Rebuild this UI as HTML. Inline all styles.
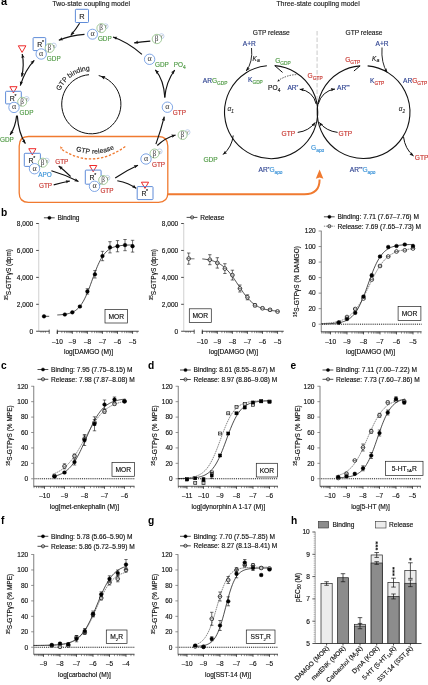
<!DOCTYPE html>
<html><head><meta charset="utf-8"><style>
html,body{margin:0;padding:0;background:#fff;}
svg{display:block;will-change:transform;}
text{font-family:"Liberation Sans",sans-serif;}
</style></head><body>
<svg width="428" height="685" viewBox="0 0 428 685">
<rect width="428" height="685" fill="#fff"/>
<text x="0.9" y="5.3" font-size="11" fill="#000" font-weight="bold" >a</text>
<text x="52.4" y="6" font-size="6.85" fill="#222" stroke="#222" stroke-width="0.15" >Two-state coupling model</text>
<text x="276.4" y="6" font-size="6.88" fill="#222" stroke="#222" stroke-width="0.15" >Three-state coupling model</text>
<path d="M28.5,136.5 L158.5,136.5 Q167.8,136.5 167.8,146 L167.8,193 Q167.8,202.3 158.5,202.3 L28.5,202.3 Q19.2,202.3 19.2,193 L19.2,146 Q19.2,136.5 28.5,136.5 Z" stroke="#f07a30" stroke-width="1.3" fill="none"/>
<path d="M167.8,194.3 L304.5,194.3 Q319.6,194.3 319.6,179.5" stroke="#f07a30" stroke-width="2" fill="none" />
<path d="M319.6,169.6 L323.4,178.8 L319.6,177.4 L315.8,178.8 Z" fill="#f07a30"/>
<path d="M89.03,74.69 A29.6,29.6 0 1 0 98.71,75.54" stroke="#111" stroke-width="1" fill="none" />
<path d="M100.69,76.13 L105.48,76.04 L104.21,77.57 L104.05,79.55 Z" fill="#111"/>
<text transform="translate(61.2,88.61) rotate(-62.62)" font-size="6.9" fill="#222" stroke="#222" stroke-width="0.15" text-anchor="middle">G</text>
<text transform="translate(63.69,84.52) rotate(-54.52)" font-size="6.9" fill="#222" stroke="#222" stroke-width="0.15" text-anchor="middle">T</text>
<text transform="translate(66.48,81.11) rotate(-47.07)" font-size="6.9" fill="#222" stroke="#222" stroke-width="0.15" text-anchor="middle">P</text>
<text transform="translate(71.04,77.02) rotate(-36.7)" font-size="6.9" fill="#222" stroke="#222" stroke-width="0.15" text-anchor="middle">b</text>
<text transform="translate(73.26,75.5) rotate(-32.16)" font-size="6.9" fill="#222" stroke="#222" stroke-width="0.15" text-anchor="middle">i</text>
<text transform="translate(75.58,74.16) rotate(-27.62)" font-size="6.9" fill="#222" stroke="#222" stroke-width="0.15" text-anchor="middle">n</text>
<text transform="translate(79.08,72.58) rotate(-21.14)" font-size="6.9" fill="#222" stroke="#222" stroke-width="0.15" text-anchor="middle">d</text>
<text transform="translate(81.62,71.71) rotate(-16.6)" font-size="6.9" fill="#222" stroke="#222" stroke-width="0.15" text-anchor="middle">i</text>
<text transform="translate(84.22,71.05) rotate(-12.06)" font-size="6.9" fill="#222" stroke="#222" stroke-width="0.15" text-anchor="middle">n</text>
<text transform="translate(88.01,70.46) rotate(-5.57)" font-size="6.9" fill="#222" stroke="#222" stroke-width="0.15" text-anchor="middle">g</text>
<path d="M62,149.5 Q93,170 126,146" stroke="#f07a30" stroke-width="1.3" fill="none" stroke-dasharray="2.4,1.7"/>
<path d="M60,146.3 L63.07,147.97 L61.6,148.35 L60.86,149.69 Z" fill="#f07a30"/>
<text transform="translate(78.36,151.47) rotate(17.96)" font-size="6.8" fill="#222" stroke="#222" stroke-width="0.15" text-anchor="middle">G</text>
<text transform="translate(83.06,152.73) rotate(12.14)" font-size="6.8" fill="#222" stroke="#222" stroke-width="0.15" text-anchor="middle">T</text>
<text transform="translate(87.49,153.47) rotate(6.78)" font-size="6.8" fill="#222" stroke="#222" stroke-width="0.15" text-anchor="middle">P</text>
<text transform="translate(93.07,153.81) rotate(0.11)" font-size="6.8" fill="#222" stroke="#222" stroke-width="0.15" text-anchor="middle">r</text>
<text transform="translate(96.24,153.71) rotate(-3.68)" font-size="6.8" fill="#222" stroke="#222" stroke-width="0.15" text-anchor="middle">e</text>
<text transform="translate(99.02,153.45) rotate(-7.02)" font-size="6.8" fill="#222" stroke="#222" stroke-width="0.15" text-anchor="middle">l</text>
<text transform="translate(101.79,153.02) rotate(-10.36)" font-size="6.8" fill="#222" stroke="#222" stroke-width="0.15" text-anchor="middle">e</text>
<text transform="translate(105.62,152.16) rotate(-15.05)" font-size="6.8" fill="#222" stroke="#222" stroke-width="0.15" text-anchor="middle">a</text>
<text transform="translate(109.19,151.05) rotate(-19.52)" font-size="6.8" fill="#222" stroke="#222" stroke-width="0.15" text-anchor="middle">s</text>
<text transform="translate(112.67,149.66) rotate(-23.98)" font-size="6.8" fill="#222" stroke="#222" stroke-width="0.15" text-anchor="middle">e</text>
<rect x="75.4" y="9.3" width="13.1" height="13.2" rx="0.8" stroke="#5686d6" stroke-width="0.95" fill="none" />
<text x="82" y="18.9" font-size="7.4" fill="#222" stroke="#222" stroke-width="0.15" text-anchor="middle" >R</text>
<rect x="33.1" y="37.6" width="12.6" height="13" rx="0.8" stroke="#5686d6" stroke-width="0.95" fill="none" />
<circle cx="53.8" cy="45.6" r="2.5" stroke="#8aa8d8" stroke-width="0.5" fill="#fff" />
<circle cx="49.6" cy="48" r="4.5" stroke="#6aaa5a" stroke-width="0.6" fill="#fff" />
<text x="49.4" y="50.3" font-size="7.2" fill="#333" text-anchor="middle" style="font-family:Liberation Serif,serif">&#946;</text>
<text x="53.9" y="46.7" font-size="4.6" fill="#555" text-anchor="middle" style="font-family:Liberation Serif,serif">&#947;</text>
<circle cx="41.2" cy="54" r="5.2" stroke="#5f8fde" stroke-width="0.8" fill="#fff" />
<text x="41.2" y="55.9" font-size="8" fill="#333" text-anchor="middle" style="font-family:Liberation Serif,serif">&#945;</text>
<text x="37.3" y="47.2" font-size="6.9" fill="#222" stroke="#222" stroke-width="0.15" >R</text>
<text x="42" y="44.2" font-size="5" fill="#222" stroke="#222" stroke-width="0.15" >*</text>
<text x="46.8" y="60.7" font-size="6.4" fill="#4f9a44" stroke="#4f9a44" stroke-width="0.15" >GDP</text>
<path d="M18.3,45.8 L25.9,45.8 L22.1,52.4 Z" stroke="#ee2a2a" stroke-width="1.0" fill="#fff"/>
<path d="M9.85,86.7 L17.05,86.7 L13.45,92.9 Z" stroke="#ee2a2a" stroke-width="1.0" fill="#fff"/>
<rect x="5.6" y="91.3" width="15.7" height="12.6" rx="0.8" stroke="#5686d6" stroke-width="0.95" fill="none" />
<circle cx="26.6" cy="99" r="2.5" stroke="#8aa8d8" stroke-width="0.5" fill="#fff" />
<circle cx="22.2" cy="101.8" r="4.5" stroke="#6aaa5a" stroke-width="0.6" fill="#fff" />
<text x="22" y="104.1" font-size="7.2" fill="#333" text-anchor="middle" style="font-family:Liberation Serif,serif">&#946;</text>
<text x="26.7" y="100.1" font-size="4.6" fill="#555" text-anchor="middle" style="font-family:Liberation Serif,serif">&#947;</text>
<circle cx="14" cy="107.4" r="5.2" stroke="#5f8fde" stroke-width="0.8" fill="#fff" />
<text x="14" y="109.3" font-size="8" fill="#333" text-anchor="middle" style="font-family:Liberation Serif,serif">&#945;</text>
<text x="9.8" y="100.9" font-size="6.9" fill="#222" stroke="#222" stroke-width="0.15" >R</text>
<text x="14.5" y="97.9" font-size="5" fill="#222" stroke="#222" stroke-width="0.15" >*</text>
<text x="19.6" y="115.1" font-size="6.4" fill="#4f9a44" stroke="#4f9a44" stroke-width="0.15" >GDP</text>
<text x="0" y="142.2" font-size="6.4" fill="#4f9a44" stroke="#4f9a44" stroke-width="0.15" >GDP</text>
<circle cx="105.6" cy="26.3" r="2.5" stroke="#8aa8d8" stroke-width="0.5" fill="#fff" />
<circle cx="101.4" cy="28.1" r="4.5" stroke="#6aaa5a" stroke-width="0.6" fill="#fff" />
<text x="101.2" y="30.4" font-size="7.2" fill="#333" text-anchor="middle" style="font-family:Liberation Serif,serif">&#946;</text>
<text x="105.7" y="27.4" font-size="4.6" fill="#555" text-anchor="middle" style="font-family:Liberation Serif,serif">&#947;</text>
<circle cx="92.5" cy="34.2" r="5" stroke="#5f8fde" stroke-width="0.8" fill="#fff" />
<text x="92.5" y="36.1" font-size="8" fill="#333" text-anchor="middle" style="font-family:Liberation Serif,serif">&#945;</text>
<text x="97.9" y="41.4" font-size="6.4" fill="#4f9a44" stroke="#4f9a44" stroke-width="0.15" >GDP</text>
<circle cx="161.5" cy="36.2" r="2.5" stroke="#8aa8d8" stroke-width="0.5" fill="#fff" />
<circle cx="156.9" cy="39" r="4.7" stroke="#6aaa5a" stroke-width="0.6" fill="#fff" />
<text x="156.7" y="41.3" font-size="7.2" fill="#333" text-anchor="middle" style="font-family:Liberation Serif,serif">&#946;</text>
<text x="161.6" y="37.3" font-size="4.6" fill="#555" text-anchor="middle" style="font-family:Liberation Serif,serif">&#947;</text>
<circle cx="149.6" cy="59.3" r="5.2" stroke="#5f8fde" stroke-width="0.8" fill="#fff" />
<text x="149.6" y="61.2" font-size="8" fill="#333" text-anchor="middle" style="font-family:Liberation Serif,serif">&#945;</text>
<text x="155" y="66.8" font-size="6.4" fill="#4f9a44" stroke="#4f9a44" stroke-width="0.15" >GDP</text>
<text x="173.7" y="66.8" font-size="6.4" fill="#4f9a44" stroke="#4f9a44" stroke-width="0.15" >PO<tspan font-size="4.8" dy="1.9">4</tspan></text>
<circle cx="167.4" cy="107.2" r="5.2" stroke="#5f8fde" stroke-width="0.8" fill="#fff" />
<text x="167.4" y="109.1" font-size="8" fill="#333" text-anchor="middle" style="font-family:Liberation Serif,serif">&#945;</text>
<text x="172.8" y="114.6" font-size="6.4" fill="#c8352f" stroke="#c8352f" stroke-width="0.15" >GTP</text>
<circle cx="187.5" cy="132.2" r="2.5" stroke="#8aa8d8" stroke-width="0.5" fill="#fff" />
<circle cx="182.6" cy="135" r="4.5" stroke="#6aaa5a" stroke-width="0.6" fill="#fff" />
<text x="182.4" y="137.3" font-size="7.2" fill="#333" text-anchor="middle" style="font-family:Liberation Serif,serif">&#946;</text>
<text x="187.6" y="133.3" font-size="4.6" fill="#555" text-anchor="middle" style="font-family:Liberation Serif,serif">&#947;</text>
<path d="M28.75,148.7 L35.95,148.7 L32.35,154.9 Z" stroke="#ee2a2a" stroke-width="1.0" fill="#fff"/>
<rect x="24.3" y="153.3" width="16.1" height="13.1" rx="0.8" stroke="#5686d6" stroke-width="0.95" fill="none" />
<circle cx="46.7" cy="160.7" r="2.5" stroke="#8aa8d8" stroke-width="0.5" fill="#fff" />
<circle cx="42.8" cy="162.7" r="4.5" stroke="#6aaa5a" stroke-width="0.6" fill="#fff" />
<text x="42.6" y="165" font-size="7.2" fill="#333" text-anchor="middle" style="font-family:Liberation Serif,serif">&#946;</text>
<text x="46.8" y="161.8" font-size="4.6" fill="#555" text-anchor="middle" style="font-family:Liberation Serif,serif">&#947;</text>
<circle cx="34.5" cy="168.7" r="5.2" stroke="#5f8fde" stroke-width="0.8" fill="#fff" />
<text x="34.5" y="170.6" font-size="8" fill="#333" text-anchor="middle" style="font-family:Liberation Serif,serif">&#945;</text>
<text x="28.5" y="162.9" font-size="6.9" fill="#222" stroke="#222" stroke-width="0.15" >R</text>
<text x="33.2" y="159.9" font-size="5" fill="#222" stroke="#222" stroke-width="0.15" >*</text>
<text x="38.3" y="176.7" font-size="6.4" fill="#3b93d8" stroke="#3b93d8" stroke-width="0.15" >APO</text>
<text x="55.2" y="164.1" font-size="6.4" fill="#c8352f" stroke="#c8352f" stroke-width="0.15" >GTP</text>
<text x="39" y="187.7" font-size="6.4" fill="#c8352f" stroke="#c8352f" stroke-width="0.15" >GTP</text>
<path d="M89.6,165.5 L96.8,165.5 L93.2,171.7 Z" stroke="#ee2a2a" stroke-width="1.0" fill="#fff"/>
<rect x="85.3" y="170.1" width="15.8" height="14.1" rx="0.8" stroke="#5686d6" stroke-width="0.95" fill="none" />
<circle cx="107.4" cy="177.9" r="2.5" stroke="#8aa8d8" stroke-width="0.5" fill="#fff" />
<circle cx="103.2" cy="180" r="4.5" stroke="#6aaa5a" stroke-width="0.6" fill="#fff" />
<text x="103" y="182.3" font-size="7.2" fill="#333" text-anchor="middle" style="font-family:Liberation Serif,serif">&#946;</text>
<text x="107.5" y="179" font-size="4.6" fill="#555" text-anchor="middle" style="font-family:Liberation Serif,serif">&#947;</text>
<circle cx="94.5" cy="186.3" r="5.2" stroke="#5f8fde" stroke-width="0.8" fill="#fff" />
<text x="94.5" y="188.2" font-size="8" fill="#333" text-anchor="middle" style="font-family:Liberation Serif,serif">&#945;</text>
<text x="89.5" y="179.7" font-size="6.9" fill="#222" stroke="#222" stroke-width="0.15" >R</text>
<text x="94.2" y="176.7" font-size="5" fill="#222" stroke="#222" stroke-width="0.15" >*</text>
<text x="100.4" y="193.3" font-size="6.4" fill="#c8352f" stroke="#c8352f" stroke-width="0.15" >GTP</text>
<circle cx="159.6" cy="151.4" r="2.5" stroke="#8aa8d8" stroke-width="0.5" fill="#fff" />
<circle cx="154.5" cy="153.5" r="4.5" stroke="#6aaa5a" stroke-width="0.6" fill="#fff" />
<text x="154.3" y="155.8" font-size="7.2" fill="#333" text-anchor="middle" style="font-family:Liberation Serif,serif">&#946;</text>
<text x="159.7" y="152.5" font-size="4.6" fill="#555" text-anchor="middle" style="font-family:Liberation Serif,serif">&#947;</text>
<circle cx="146" cy="159" r="5.2" stroke="#5f8fde" stroke-width="0.8" fill="#fff" />
<text x="146" y="160.9" font-size="8" fill="#333" text-anchor="middle" style="font-family:Liberation Serif,serif">&#945;</text>
<text x="152" y="166.5" font-size="6.4" fill="#c8352f" stroke="#c8352f" stroke-width="0.15" >GTP</text>
<path d="M141.4,182.2 L148.6,182.2 L145.0,188.4 Z" stroke="#ee2a2a" stroke-width="1.0" fill="#fff"/>
<rect x="137.2" y="186.6" width="15.8" height="13" rx="0.8" stroke="#5686d6" stroke-width="0.95" fill="none" />
<text x="141.4" y="196.2" font-size="6.9" fill="#222" stroke="#222" stroke-width="0.15" >R</text>
<text x="146.1" y="193.2" font-size="5" fill="#222" stroke="#222" stroke-width="0.15" >*</text>
<path d="M79.6,23.3 Q76.5,28.5 70.8,35.4" stroke="#111" stroke-width="1.15" fill="none" />
<path d="M70.8,35.4 L72.08,31.27 L72.97,32.78 L74.62,33.37 Z" fill="#111"/>
<path d="M84.5,34.4 Q70,35.5 58.8,40.3" stroke="#111" stroke-width="1.15" fill="none" />
<path d="M58.8,40.3 L61.83,37.21 L61.93,38.96 L63.13,40.24 Z" fill="#111"/>
<path d="M150.3,41.1 Q142,41.6 134.2,42.9" stroke="#111" stroke-width="1.15" fill="none" />
<path d="M134.2,42.9 L137.87,40.61 L137.55,42.34 L138.42,43.87 Z" fill="#111"/>
<path d="M141.9,54.4 Q128,42 113,37" stroke="#111" stroke-width="1.15" fill="none" />
<path d="M113,37 L117.32,36.7 L116.23,38.08 L116.27,39.83 Z" fill="#111"/>
<path d="M164.8,97.5 Q164,80 155.3,69.8" stroke="#111" stroke-width="1.15" fill="none" />
<path d="M155.3,69.8 L159.15,71.77 L157.51,72.39 L156.64,73.91 Z" fill="#111"/>
<path d="M164.8,97.5 Q166,82 174.7,70" stroke="#111" stroke-width="1.15" fill="none" />
<path d="M174.7,70 L173.69,74.21 L172.7,72.75 L171.02,72.27 Z" fill="#111"/>
<path d="M155.9,144.1 Q161,130 164.3,116.7" stroke="#111" stroke-width="1.15" fill="none" />
<path d="M164.3,116.7 L164.94,120.98 L163.48,120 L161.74,120.18 Z" fill="#111"/>
<path d="M157.3,145.5 Q165,138 175.6,135" stroke="#111" stroke-width="1.15" fill="none" />
<path d="M175.6,135 L172.2,137.68 L172.33,135.93 L171.3,134.5 Z" fill="#111"/>
<path d="M115.2,177.9 Q127,170 138,165.2" stroke="#111" stroke-width="1.15" fill="none" />
<path d="M138,165.2 L134.99,168.31 L134.88,166.56 L133.67,165.29 Z" fill="#111"/>
<path d="M117.3,180.7 Q129,183 136.2,188.4" stroke="#111" stroke-width="1.15" fill="none" />
<path d="M136.2,188.4 L132.01,187.32 L133.48,186.36 L133.99,184.68 Z" fill="#111"/>
<path d="M51.4,170.8 Q66,175 78.5,181.6" stroke="#111" stroke-width="1.15" fill="none" />
<path d="M78.5,181.6 L74.19,181.19 L75.49,180.01 L75.73,178.27 Z" fill="#111"/>
<path d="M70.6,176.5 Q64,170 58.7,166" stroke="#111" stroke-width="1.15" fill="none" />
<path d="M58.7,166 L62.89,167.09 L61.41,168.05 L60.9,169.73 Z" fill="#111"/>
<path d="M53.7,184.9 Q62,182.5 69.9,181" stroke="#111" stroke-width="1.15" fill="none" />
<path d="M69.9,181 L66.28,183.37 L66.56,181.63 L65.66,180.13 Z" fill="#111"/>
<path d="M16.6,115.6 Q15.5,127 10.1,134.8" stroke="#111" stroke-width="1.15" fill="none" />
<path d="M10.1,134.8 L11.02,130.57 L12.04,132 L13.73,132.45 Z" fill="#111"/>
<path d="M17.3,115.6 Q18.5,133 25.4,143.6" stroke="#111" stroke-width="1.15" fill="none" />
<path d="M25.4,143.6 L21.83,141.15 L23.55,140.75 L24.6,139.35 Z" fill="#111"/>
<path d="M22.2,54 Q24.5,65 21.7,76.7" stroke="#111" stroke-width="1.15" fill="none" />
<path d="M21.7,76.7 L21.03,72.43 L22.49,73.39 L24.24,73.19 Z" fill="#111"/>
<path d="M22.2,54 L24.63,57.58 L22.9,57.33 L21.4,58.25 Z" fill="#111"/>
<path d="M20.3,85.6 Q25,70 34.3,60.3" stroke="#111" stroke-width="1.15" fill="none" />
<path d="M34.3,60.3 L32.72,64.33 L31.95,62.75 L30.34,62.05 Z" fill="#111"/>
<path d="M20.3,85.6 L19.87,81.29 L21.28,82.34 L23.03,82.25 Z" fill="#111"/>
<line x1="317.1" y1="30.9" x2="317.1" y2="100" stroke="#d6d6d6" stroke-width="1.3" stroke-dasharray="4.6,1.9"/>
<text x="252.8" y="35" font-size="6.6" fill="#222" stroke="#222" stroke-width="0.15" >GTP release</text>
<text x="345.6" y="35" font-size="6.6" fill="#222" stroke="#222" stroke-width="0.15" >GTP release</text>
<path d="M266.88,65.69 A46.6,46.6 0 1 0 274.76,65.64" stroke="#111" stroke-width="1.1" fill="none" />
<line x1="274.76" y1="65.64" x2="282.56" y2="72.44" stroke="#111" stroke-width="1" />
<path d="M367.64,65.88 A46.4,46.4 0 1 1 360.12,65.83" stroke="#111" stroke-width="1.1" fill="none" />
<line x1="360.12" y1="65.83" x2="353.92" y2="71.03" stroke="#111" stroke-width="1" />
<path d="M316.2,104 Q313,91 299.7,89.2" stroke="#111" stroke-width="1" fill="none" />
<path d="M299.7,89.2 L303.89,88.1 L303.07,89.66 L303.44,91.37 Z" fill="#111"/>
<path d="M318.2,104 Q322,91 335,89" stroke="#111" stroke-width="1" fill="none" />
<path d="M335,89 L331.3,91.24 L331.64,89.52 L330.8,87.98 Z" fill="#111"/>
<path d="M251.5,48 Q253,62 246.2,71" stroke="#111" stroke-width="0.9" fill="none" />
<path d="M246.2,71 L247.29,66.81 L248.25,68.29 L249.93,68.8 Z" fill="#111"/>
<path d="M382,47.5 Q381,63 387.2,72.5" stroke="#111" stroke-width="0.9" fill="none" />
<path d="M387.2,72.5 L383.63,70.05 L385.34,69.65 L386.4,68.25 Z" fill="#111"/>
<path d="M296.2,74.6 Q287,75 279,80" stroke="#111" stroke-width="0.7" fill="none" stroke-dasharray="1.5,1.1"/>
<path d="M277.2,81.4 L278.93,78.89 L279.06,80.23 L280.21,80.92 Z" fill="#111"/>
<path d="M297.7,132.4 Q309,131 315.2,122.4" stroke="#111" stroke-width="1" fill="none" />
<path d="M315.2,122.4 L314.2,126.61 L313.21,125.16 L311.52,124.68 Z" fill="#111"/>
<path d="M337.6,132.4 Q326,131 319.4,122.4" stroke="#111" stroke-width="1" fill="none" />
<path d="M319.4,122.4 L323.14,124.57 L321.47,125.1 L320.53,126.58 Z" fill="#111"/>
<path d="M233.2,135.5 Q232,147 223,154.6" stroke="#111" stroke-width="1" fill="none" />
<path d="M223,154.6 L224.99,150.76 L225.6,152.41 L227.12,153.28 Z" fill="#111"/>
<path d="M403.5,136.8 Q405,149 413.6,156" stroke="#111" stroke-width="1" fill="none" />
<path d="M413.6,156 L409.46,154.75 L410.96,153.85 L411.54,152.2 Z" fill="#111"/>
<text x="242.8" y="46" font-size="6.6" fill="#2e4391" stroke="#2e4391" stroke-width="0.15" >A+R</text>
<text x="375.6" y="46" font-size="6.6" fill="#2e4391" stroke="#2e4391" stroke-width="0.15" >A+R</text>
<text x="252.6" y="60.6" font-size="6.4" fill="#222" stroke="#222" stroke-width="0.15" font-style="italic" >K</text>
<text x="257" y="62.4" font-size="5.2" fill="#222" stroke="#222" stroke-width="0.15" font-style="italic" >a</text>
<text x="372.1" y="60.6" font-size="6.4" fill="#222" stroke="#222" stroke-width="0.15" font-style="italic" >K</text>
<text x="376.5" y="62.4" font-size="5.2" fill="#222" stroke="#222" stroke-width="0.15" font-style="italic" >a</text>
<text x="275.2" y="63.4" font-size="6.6" fill="#4f9a44" stroke="#4f9a44" stroke-width="0.15" >G<tspan font-size="4.8" dy="1.9">GDP</tspan></text>
<text x="345.2" y="61.8" font-size="6.6" fill="#c8352f" stroke="#c8352f" stroke-width="0.15" >G<tspan font-size="4.8" dy="1.9">GTP</tspan></text>
<text x="307.6" y="77.8" font-size="6.6" fill="#c8352f" stroke="#c8352f" stroke-width="0.15" >G<tspan font-size="4.8" dy="1.9">GTP</tspan></text>
<text x="248" y="82" font-size="6.6" fill="#2e4391" stroke="#2e4391" stroke-width="0.15" >K<tspan font-size="4.8" dy="1.9" fill="#4f9a44" stroke="#4f9a44">GDP</tspan></text>
<text x="370" y="82.6" font-size="6.6" fill="#2e4391" stroke="#2e4391" stroke-width="0.15" >K<tspan font-size="4.8" dy="1.9" fill="#c8352f" stroke="#c8352f">GTP</tspan></text>
<text x="202.8" y="83" font-size="6.6" fill="#2e4391" stroke="#2e4391" stroke-width="0.15" >AR<tspan fill="#4f9a44" stroke="#4f9a44">G</tspan><tspan font-size="4.8" dy="1.9" fill="#4f9a44" stroke="#4f9a44">GDP</tspan></text>
<text x="403" y="83" font-size="6.6" fill="#2e4391" stroke="#2e4391" stroke-width="0.15" >AR<tspan fill="#c8352f" stroke="#c8352f">G</tspan><tspan font-size="4.8" dy="1.9" fill="#c8352f" stroke="#c8352f">GTP</tspan></text>
<text x="268.1" y="89.6" font-size="6.6" fill="#111" stroke="#111" stroke-width="0.15" >PO<tspan font-size="4.8" dy="1.9">4</tspan></text>
<text x="287.4" y="90" font-size="6.6" fill="#2e4391" stroke="#2e4391" stroke-width="0.15" >AR<tspan font-size="4.4" dy="-2.4">*</tspan></text>
<text x="337" y="90" font-size="6.6" fill="#2e4391" stroke="#2e4391" stroke-width="0.15" >AR<tspan font-size="4.4" dy="-2.4">**</tspan></text>
<text x="227.6" y="111.4" font-size="6.4" fill="#333" stroke="#333" stroke-width="0.15" font-style="italic" >&#945;<tspan font-size="4.6" dy="1.4">1</tspan></text>
<text x="398.8" y="111.4" font-size="6.4" fill="#333" stroke="#333" stroke-width="0.15" font-style="italic" >&#945;<tspan font-size="4.6" dy="1.4">2</tspan></text>
<text x="203.4" y="161.5" font-size="6.6" fill="#4f9a44" stroke="#4f9a44" stroke-width="0.15" >GDP</text>
<text x="281.5" y="136.4" font-size="6.6" fill="#c8352f" stroke="#c8352f" stroke-width="0.15" >GTP</text>
<text x="338.5" y="136.4" font-size="6.6" fill="#c8352f" stroke="#c8352f" stroke-width="0.15" >GTP</text>
<text x="414.8" y="159.8" font-size="6.6" fill="#c8352f" stroke="#c8352f" stroke-width="0.15" >GTP</text>
<text x="311.1" y="150" font-size="6.6" fill="#3b93d8" stroke="#3b93d8" stroke-width="0.15" >G<tspan font-size="4.8" dy="1.9">apo</tspan></text>
<text x="258.5" y="172" font-size="6.6" fill="#2e4391" stroke="#2e4391" stroke-width="0.15" >AR<tspan font-size="4.4" dy="-2.4">*</tspan><tspan dy="2.4" fill="#3b93d8" stroke="#3b93d8">G</tspan><tspan font-size="4.8" dy="1.9" fill="#3b93d8" stroke="#3b93d8">apo</tspan></text>
<text x="349.8" y="172" font-size="6.6" fill="#2e4391" stroke="#2e4391" stroke-width="0.15" >AR<tspan font-size="4.4" dy="-2.4">**</tspan><tspan dy="2.4" fill="#3b93d8" stroke="#3b93d8">G</tspan><tspan font-size="4.8" dy="1.9" fill="#3b93d8" stroke="#3b93d8">apo</tspan></text>
<text x="1" y="215.5" font-size="10.2" fill="#000" font-weight="bold" >b</text>
<text x="1.1" y="368.5" font-size="10.2" fill="#000" font-weight="bold" >c</text>
<text x="148" y="368.7" font-size="10.2" fill="#000" font-weight="bold" >d</text>
<text x="290.4" y="368.5" font-size="10.2" fill="#000" font-weight="bold" >e</text>
<text x="0.9" y="524" font-size="10.2" fill="#000" font-weight="bold" >f</text>
<text x="148.1" y="523.7" font-size="10.2" fill="#000" font-weight="bold" >g</text>
<text x="290.9" y="524" font-size="10.2" fill="#000" font-weight="bold" >h</text>
<line x1="38.75" y1="223.2" x2="38.75" y2="331.55" stroke="#c4c4c4" stroke-width="0.8" />
<line x1="36.15" y1="331.25" x2="38.75" y2="331.25" stroke="#111" stroke-width="0.75" />
<text x="33.15" y="333.55" font-size="6.5" fill="#111" stroke="#111" stroke-width="0.15" text-anchor="end" >0</text>
<line x1="36.15" y1="304.31" x2="38.75" y2="304.31" stroke="#111" stroke-width="0.75" />
<text x="33.15" y="306.61" font-size="6.5" fill="#111" stroke="#111" stroke-width="0.15" text-anchor="end" >2,000</text>
<line x1="36.15" y1="277.38" x2="38.75" y2="277.38" stroke="#111" stroke-width="0.75" />
<text x="33.15" y="279.68" font-size="6.5" fill="#111" stroke="#111" stroke-width="0.15" text-anchor="end" >4,000</text>
<line x1="36.15" y1="250.44" x2="38.75" y2="250.44" stroke="#111" stroke-width="0.75" />
<text x="33.15" y="252.74" font-size="6.5" fill="#111" stroke="#111" stroke-width="0.15" text-anchor="end" >6,000</text>
<line x1="36.15" y1="223.5" x2="38.75" y2="223.5" stroke="#111" stroke-width="0.75" />
<text x="33.15" y="225.8" font-size="6.5" fill="#111" stroke="#111" stroke-width="0.15" text-anchor="end" >8,000</text>
<line x1="38.75" y1="331.25" x2="49.2" y2="331.25" stroke="#111" stroke-width="0.75" />
<line x1="41" y1="331.25" x2="41" y2="332.8" stroke="#111" stroke-width="0.45" />
<line x1="43.2" y1="331.25" x2="43.2" y2="332.8" stroke="#111" stroke-width="0.45" />
<line x1="45.4" y1="331.25" x2="45.4" y2="332.8" stroke="#111" stroke-width="0.45" />
<line x1="49.2" y1="329.6" x2="49.2" y2="333.8" stroke="#111" stroke-width="0.7" />
<line x1="57.3" y1="331.25" x2="138.75" y2="331.25" stroke="#111" stroke-width="0.75" />
<line x1="57.3" y1="331.25" x2="57.3" y2="333.85" stroke="#111" stroke-width="0.7" />
<line x1="61.83" y1="331.25" x2="61.83" y2="333.15" stroke="#222" stroke-width="0.5" />
<line x1="64.48" y1="331.25" x2="64.48" y2="333.15" stroke="#222" stroke-width="0.5" />
<line x1="66.36" y1="331.25" x2="66.36" y2="333.15" stroke="#222" stroke-width="0.5" />
<line x1="67.82" y1="331.25" x2="67.82" y2="333.15" stroke="#222" stroke-width="0.5" />
<line x1="69.01" y1="331.25" x2="69.01" y2="333.15" stroke="#222" stroke-width="0.5" />
<line x1="70.02" y1="331.25" x2="70.02" y2="333.15" stroke="#222" stroke-width="0.5" />
<line x1="70.89" y1="331.25" x2="70.89" y2="333.15" stroke="#222" stroke-width="0.5" />
<line x1="71.66" y1="331.25" x2="71.66" y2="333.15" stroke="#222" stroke-width="0.5" />
<line x1="72.35" y1="331.25" x2="72.35" y2="333.85" stroke="#111" stroke-width="0.7" />
<line x1="76.88" y1="331.25" x2="76.88" y2="333.15" stroke="#222" stroke-width="0.5" />
<line x1="79.53" y1="331.25" x2="79.53" y2="333.15" stroke="#222" stroke-width="0.5" />
<line x1="81.41" y1="331.25" x2="81.41" y2="333.15" stroke="#222" stroke-width="0.5" />
<line x1="82.87" y1="331.25" x2="82.87" y2="333.15" stroke="#222" stroke-width="0.5" />
<line x1="84.06" y1="331.25" x2="84.06" y2="333.15" stroke="#222" stroke-width="0.5" />
<line x1="85.07" y1="331.25" x2="85.07" y2="333.15" stroke="#222" stroke-width="0.5" />
<line x1="85.94" y1="331.25" x2="85.94" y2="333.15" stroke="#222" stroke-width="0.5" />
<line x1="86.71" y1="331.25" x2="86.71" y2="333.15" stroke="#222" stroke-width="0.5" />
<line x1="87.4" y1="331.25" x2="87.4" y2="333.85" stroke="#111" stroke-width="0.7" />
<line x1="91.93" y1="331.25" x2="91.93" y2="333.15" stroke="#222" stroke-width="0.5" />
<line x1="94.58" y1="331.25" x2="94.58" y2="333.15" stroke="#222" stroke-width="0.5" />
<line x1="96.46" y1="331.25" x2="96.46" y2="333.15" stroke="#222" stroke-width="0.5" />
<line x1="97.92" y1="331.25" x2="97.92" y2="333.15" stroke="#222" stroke-width="0.5" />
<line x1="99.11" y1="331.25" x2="99.11" y2="333.15" stroke="#222" stroke-width="0.5" />
<line x1="100.12" y1="331.25" x2="100.12" y2="333.15" stroke="#222" stroke-width="0.5" />
<line x1="100.99" y1="331.25" x2="100.99" y2="333.15" stroke="#222" stroke-width="0.5" />
<line x1="101.76" y1="331.25" x2="101.76" y2="333.15" stroke="#222" stroke-width="0.5" />
<line x1="102.45" y1="331.25" x2="102.45" y2="333.85" stroke="#111" stroke-width="0.7" />
<line x1="106.98" y1="331.25" x2="106.98" y2="333.15" stroke="#222" stroke-width="0.5" />
<line x1="109.63" y1="331.25" x2="109.63" y2="333.15" stroke="#222" stroke-width="0.5" />
<line x1="111.51" y1="331.25" x2="111.51" y2="333.15" stroke="#222" stroke-width="0.5" />
<line x1="112.97" y1="331.25" x2="112.97" y2="333.15" stroke="#222" stroke-width="0.5" />
<line x1="114.16" y1="331.25" x2="114.16" y2="333.15" stroke="#222" stroke-width="0.5" />
<line x1="115.17" y1="331.25" x2="115.17" y2="333.15" stroke="#222" stroke-width="0.5" />
<line x1="116.04" y1="331.25" x2="116.04" y2="333.15" stroke="#222" stroke-width="0.5" />
<line x1="116.81" y1="331.25" x2="116.81" y2="333.15" stroke="#222" stroke-width="0.5" />
<line x1="117.5" y1="331.25" x2="117.5" y2="333.85" stroke="#111" stroke-width="0.7" />
<line x1="122.03" y1="331.25" x2="122.03" y2="333.15" stroke="#222" stroke-width="0.5" />
<line x1="124.68" y1="331.25" x2="124.68" y2="333.15" stroke="#222" stroke-width="0.5" />
<line x1="126.56" y1="331.25" x2="126.56" y2="333.15" stroke="#222" stroke-width="0.5" />
<line x1="128.02" y1="331.25" x2="128.02" y2="333.15" stroke="#222" stroke-width="0.5" />
<line x1="129.21" y1="331.25" x2="129.21" y2="333.15" stroke="#222" stroke-width="0.5" />
<line x1="130.22" y1="331.25" x2="130.22" y2="333.15" stroke="#222" stroke-width="0.5" />
<line x1="131.09" y1="331.25" x2="131.09" y2="333.15" stroke="#222" stroke-width="0.5" />
<line x1="131.86" y1="331.25" x2="131.86" y2="333.15" stroke="#222" stroke-width="0.5" />
<line x1="132.55" y1="331.25" x2="132.55" y2="333.85" stroke="#111" stroke-width="0.7" />
<line x1="137.08" y1="331.25" x2="137.08" y2="333.15" stroke="#222" stroke-width="0.5" />
<line x1="57.3" y1="329.65" x2="57.3" y2="333.85" stroke="#111" stroke-width="0.7" />
<text x="57.4" y="343.5" font-size="6.5" fill="#111" stroke="#111" stroke-width="0.15" text-anchor="middle" >&#8211;10</text>
<text x="72.45" y="343.5" font-size="6.5" fill="#111" stroke="#111" stroke-width="0.15" text-anchor="middle" >&#8211;9</text>
<text x="87.5" y="343.5" font-size="6.5" fill="#111" stroke="#111" stroke-width="0.15" text-anchor="middle" >&#8211;8</text>
<text x="102.55" y="343.5" font-size="6.5" fill="#111" stroke="#111" stroke-width="0.15" text-anchor="middle" >&#8211;7</text>
<text x="117.6" y="343.5" font-size="6.5" fill="#111" stroke="#111" stroke-width="0.15" text-anchor="middle" >&#8211;6</text>
<text x="132.65" y="343.5" font-size="6.5" fill="#111" stroke="#111" stroke-width="0.15" text-anchor="middle" >&#8211;5</text>
<text x="88.5" y="354" font-size="6.6" fill="#111" stroke="#111" stroke-width="0.15" text-anchor="middle" >log[DAMGO (M)]</text>
<text transform="translate(10.6,274.6) rotate(-90)" font-size="6.5" fill="#111" stroke="#111" stroke-width="0.15" text-anchor="middle"><tspan font-size="4.5" dy="-2.2">35</tspan><tspan dy="2.2">S-GTP&#947;S (dpm)</tspan></text>
<rect x="105" y="309.5" width="22.5" height="13.5" rx="0" stroke="#222" stroke-width="0.7" fill="#fff" />
<text x="116.25" y="318.65" font-size="6.7" fill="#111" stroke="#111" stroke-width="0.15" text-anchor="middle" >MOR</text>
<path d="M57.3,314.96 L58.25,314.91 L59.21,314.86 L60.16,314.79 L61.11,314.72 L62.06,314.64 L63.02,314.54 L63.97,314.42 L64.92,314.29 L65.87,314.14 L66.83,313.96 L67.78,313.76 L68.73,313.52 L69.68,313.25 L70.64,312.94 L71.59,312.58 L72.54,312.17 L73.49,311.7 L74.45,311.16 L75.4,310.54 L76.35,309.84 L77.3,309.05 L78.26,308.15 L79.21,307.13 L80.16,305.99 L81.11,304.72 L82.07,303.31 L83.02,301.76 L83.97,300.05 L84.92,298.19 L85.88,296.18 L86.83,294.03 L87.78,291.75 L88.73,289.35 L89.69,286.86 L90.64,284.29 L91.59,281.68 L92.54,279.04 L93.5,276.42 L94.45,273.84 L95.4,271.33 L96.35,268.9 L97.31,266.59 L98.26,264.4 L99.21,262.36 L100.16,260.46 L101.12,258.72 L102.07,257.12 L103.02,255.68 L103.97,254.37 L104.93,253.2 L105.88,252.16 L106.83,251.23 L107.78,250.41 L108.74,249.68 L109.69,249.04 L110.64,248.49 L111.59,248 L112.55,247.57 L113.5,247.2 L114.45,246.88 L115.4,246.6 L116.36,246.35 L117.31,246.14 L118.26,245.96 L119.21,245.8 L120.17,245.66 L121.12,245.55 L122.07,245.44 L123.02,245.36 L123.98,245.28 L124.93,245.21 L125.88,245.16 L126.83,245.11 L127.79,245.07 L128.74,245.03 L129.69,245 L130.64,244.97 L131.6,244.95 L132.55,244.93" stroke="#111" stroke-width="0.75" fill="none" />
<line x1="44" y1="316.3" x2="49.2" y2="316.3" stroke="#111" stroke-width="0.75" />
<line x1="79.88" y1="305.7" x2="79.88" y2="307.3" stroke="#111" stroke-width="0.6" />
<line x1="78.17" y1="305.7" x2="81.58" y2="305.7" stroke="#111" stroke-width="0.6" />
<line x1="78.17" y1="307.3" x2="81.58" y2="307.3" stroke="#111" stroke-width="0.6" />
<line x1="87.4" y1="288.7" x2="87.4" y2="294.1" stroke="#111" stroke-width="0.6" />
<line x1="85.7" y1="288.7" x2="89.1" y2="288.7" stroke="#111" stroke-width="0.6" />
<line x1="85.7" y1="294.1" x2="89.1" y2="294.1" stroke="#111" stroke-width="0.6" />
<line x1="94.92" y1="270.6" x2="94.92" y2="278" stroke="#111" stroke-width="0.6" />
<line x1="93.22" y1="270.6" x2="96.62" y2="270.6" stroke="#111" stroke-width="0.6" />
<line x1="93.22" y1="278" x2="96.62" y2="278" stroke="#111" stroke-width="0.6" />
<line x1="102.45" y1="251.3" x2="102.45" y2="260.7" stroke="#111" stroke-width="0.6" />
<line x1="100.75" y1="251.3" x2="104.15" y2="251.3" stroke="#111" stroke-width="0.6" />
<line x1="100.75" y1="260.7" x2="104.15" y2="260.7" stroke="#111" stroke-width="0.6" />
<line x1="109.97" y1="241.7" x2="109.97" y2="252.9" stroke="#111" stroke-width="0.6" />
<line x1="108.27" y1="241.7" x2="111.67" y2="241.7" stroke="#111" stroke-width="0.6" />
<line x1="108.27" y1="252.9" x2="111.67" y2="252.9" stroke="#111" stroke-width="0.6" />
<line x1="117.5" y1="240.6" x2="117.5" y2="251.8" stroke="#111" stroke-width="0.6" />
<line x1="115.8" y1="240.6" x2="119.2" y2="240.6" stroke="#111" stroke-width="0.6" />
<line x1="115.8" y1="251.8" x2="119.2" y2="251.8" stroke="#111" stroke-width="0.6" />
<line x1="125.03" y1="239.5" x2="125.03" y2="250.7" stroke="#111" stroke-width="0.6" />
<line x1="123.33" y1="239.5" x2="126.73" y2="239.5" stroke="#111" stroke-width="0.6" />
<line x1="123.33" y1="250.7" x2="126.73" y2="250.7" stroke="#111" stroke-width="0.6" />
<line x1="132.55" y1="240.3" x2="132.55" y2="252.1" stroke="#111" stroke-width="0.6" />
<line x1="130.85" y1="240.3" x2="134.25" y2="240.3" stroke="#111" stroke-width="0.6" />
<line x1="130.85" y1="252.1" x2="134.25" y2="252.1" stroke="#111" stroke-width="0.6" />
<circle cx="64.83" cy="314.5" r="1.85" stroke="#000" stroke-width="0.4" fill="#000" />
<circle cx="72.35" cy="312.3" r="1.85" stroke="#000" stroke-width="0.4" fill="#000" />
<circle cx="79.88" cy="306.5" r="1.85" stroke="#000" stroke-width="0.4" fill="#000" />
<circle cx="87.4" cy="291.4" r="1.85" stroke="#000" stroke-width="0.4" fill="#000" />
<circle cx="94.92" cy="274.3" r="1.85" stroke="#000" stroke-width="0.4" fill="#000" />
<circle cx="102.45" cy="256" r="1.85" stroke="#000" stroke-width="0.4" fill="#000" />
<circle cx="109.97" cy="247.3" r="1.85" stroke="#000" stroke-width="0.4" fill="#000" />
<circle cx="117.5" cy="246.2" r="1.85" stroke="#000" stroke-width="0.4" fill="#000" />
<circle cx="125.03" cy="245.1" r="1.85" stroke="#000" stroke-width="0.4" fill="#000" />
<circle cx="132.55" cy="246.2" r="1.85" stroke="#000" stroke-width="0.4" fill="#000" />
<circle cx="44" cy="316.3" r="1.85" stroke="#000" stroke-width="0.4" fill="#000" />
<line x1="43.9" y1="217.8" x2="54.7" y2="217.8" stroke="#111" stroke-width="0.75" />
<circle cx="49.4" cy="217.8" r="1.6" stroke="#000" stroke-width="0.4" fill="#000" />
<text x="57.5" y="220.1" font-size="6.6" fill="#111" stroke="#111" stroke-width="0.15" >Binding</text>
<line x1="183.75" y1="223.2" x2="183.75" y2="331.55" stroke="#c4c4c4" stroke-width="0.8" />
<line x1="181.15" y1="331.25" x2="183.75" y2="331.25" stroke="#111" stroke-width="0.75" />
<text x="178.15" y="333.55" font-size="6.5" fill="#111" stroke="#111" stroke-width="0.15" text-anchor="end" >0</text>
<line x1="181.15" y1="304.31" x2="183.75" y2="304.31" stroke="#111" stroke-width="0.75" />
<text x="178.15" y="306.61" font-size="6.5" fill="#111" stroke="#111" stroke-width="0.15" text-anchor="end" >2,000</text>
<line x1="181.15" y1="277.38" x2="183.75" y2="277.38" stroke="#111" stroke-width="0.75" />
<text x="178.15" y="279.68" font-size="6.5" fill="#111" stroke="#111" stroke-width="0.15" text-anchor="end" >4,000</text>
<line x1="181.15" y1="250.44" x2="183.75" y2="250.44" stroke="#111" stroke-width="0.75" />
<text x="178.15" y="252.74" font-size="6.5" fill="#111" stroke="#111" stroke-width="0.15" text-anchor="end" >6,000</text>
<line x1="181.15" y1="223.5" x2="183.75" y2="223.5" stroke="#111" stroke-width="0.75" />
<text x="178.15" y="225.8" font-size="6.5" fill="#111" stroke="#111" stroke-width="0.15" text-anchor="end" >8,000</text>
<line x1="183.75" y1="331.25" x2="194.2" y2="331.25" stroke="#111" stroke-width="0.75" />
<line x1="186" y1="331.25" x2="186" y2="332.8" stroke="#111" stroke-width="0.45" />
<line x1="188.2" y1="331.25" x2="188.2" y2="332.8" stroke="#111" stroke-width="0.45" />
<line x1="190.4" y1="331.25" x2="190.4" y2="332.8" stroke="#111" stroke-width="0.45" />
<line x1="194.2" y1="329.6" x2="194.2" y2="333.8" stroke="#111" stroke-width="0.7" />
<line x1="202.3" y1="331.25" x2="283.75" y2="331.25" stroke="#111" stroke-width="0.75" />
<line x1="202.3" y1="331.25" x2="202.3" y2="333.85" stroke="#111" stroke-width="0.7" />
<line x1="206.83" y1="331.25" x2="206.83" y2="333.15" stroke="#222" stroke-width="0.5" />
<line x1="209.48" y1="331.25" x2="209.48" y2="333.15" stroke="#222" stroke-width="0.5" />
<line x1="211.36" y1="331.25" x2="211.36" y2="333.15" stroke="#222" stroke-width="0.5" />
<line x1="212.82" y1="331.25" x2="212.82" y2="333.15" stroke="#222" stroke-width="0.5" />
<line x1="214.01" y1="331.25" x2="214.01" y2="333.15" stroke="#222" stroke-width="0.5" />
<line x1="215.02" y1="331.25" x2="215.02" y2="333.15" stroke="#222" stroke-width="0.5" />
<line x1="215.89" y1="331.25" x2="215.89" y2="333.15" stroke="#222" stroke-width="0.5" />
<line x1="216.66" y1="331.25" x2="216.66" y2="333.15" stroke="#222" stroke-width="0.5" />
<line x1="217.35" y1="331.25" x2="217.35" y2="333.85" stroke="#111" stroke-width="0.7" />
<line x1="221.88" y1="331.25" x2="221.88" y2="333.15" stroke="#222" stroke-width="0.5" />
<line x1="224.53" y1="331.25" x2="224.53" y2="333.15" stroke="#222" stroke-width="0.5" />
<line x1="226.41" y1="331.25" x2="226.41" y2="333.15" stroke="#222" stroke-width="0.5" />
<line x1="227.87" y1="331.25" x2="227.87" y2="333.15" stroke="#222" stroke-width="0.5" />
<line x1="229.06" y1="331.25" x2="229.06" y2="333.15" stroke="#222" stroke-width="0.5" />
<line x1="230.07" y1="331.25" x2="230.07" y2="333.15" stroke="#222" stroke-width="0.5" />
<line x1="230.94" y1="331.25" x2="230.94" y2="333.15" stroke="#222" stroke-width="0.5" />
<line x1="231.71" y1="331.25" x2="231.71" y2="333.15" stroke="#222" stroke-width="0.5" />
<line x1="232.4" y1="331.25" x2="232.4" y2="333.85" stroke="#111" stroke-width="0.7" />
<line x1="236.93" y1="331.25" x2="236.93" y2="333.15" stroke="#222" stroke-width="0.5" />
<line x1="239.58" y1="331.25" x2="239.58" y2="333.15" stroke="#222" stroke-width="0.5" />
<line x1="241.46" y1="331.25" x2="241.46" y2="333.15" stroke="#222" stroke-width="0.5" />
<line x1="242.92" y1="331.25" x2="242.92" y2="333.15" stroke="#222" stroke-width="0.5" />
<line x1="244.11" y1="331.25" x2="244.11" y2="333.15" stroke="#222" stroke-width="0.5" />
<line x1="245.12" y1="331.25" x2="245.12" y2="333.15" stroke="#222" stroke-width="0.5" />
<line x1="245.99" y1="331.25" x2="245.99" y2="333.15" stroke="#222" stroke-width="0.5" />
<line x1="246.76" y1="331.25" x2="246.76" y2="333.15" stroke="#222" stroke-width="0.5" />
<line x1="247.45" y1="331.25" x2="247.45" y2="333.85" stroke="#111" stroke-width="0.7" />
<line x1="251.98" y1="331.25" x2="251.98" y2="333.15" stroke="#222" stroke-width="0.5" />
<line x1="254.63" y1="331.25" x2="254.63" y2="333.15" stroke="#222" stroke-width="0.5" />
<line x1="256.51" y1="331.25" x2="256.51" y2="333.15" stroke="#222" stroke-width="0.5" />
<line x1="257.97" y1="331.25" x2="257.97" y2="333.15" stroke="#222" stroke-width="0.5" />
<line x1="259.16" y1="331.25" x2="259.16" y2="333.15" stroke="#222" stroke-width="0.5" />
<line x1="260.17" y1="331.25" x2="260.17" y2="333.15" stroke="#222" stroke-width="0.5" />
<line x1="261.04" y1="331.25" x2="261.04" y2="333.15" stroke="#222" stroke-width="0.5" />
<line x1="261.81" y1="331.25" x2="261.81" y2="333.15" stroke="#222" stroke-width="0.5" />
<line x1="262.5" y1="331.25" x2="262.5" y2="333.85" stroke="#111" stroke-width="0.7" />
<line x1="267.03" y1="331.25" x2="267.03" y2="333.15" stroke="#222" stroke-width="0.5" />
<line x1="269.68" y1="331.25" x2="269.68" y2="333.15" stroke="#222" stroke-width="0.5" />
<line x1="271.56" y1="331.25" x2="271.56" y2="333.15" stroke="#222" stroke-width="0.5" />
<line x1="273.02" y1="331.25" x2="273.02" y2="333.15" stroke="#222" stroke-width="0.5" />
<line x1="274.21" y1="331.25" x2="274.21" y2="333.15" stroke="#222" stroke-width="0.5" />
<line x1="275.22" y1="331.25" x2="275.22" y2="333.15" stroke="#222" stroke-width="0.5" />
<line x1="276.09" y1="331.25" x2="276.09" y2="333.15" stroke="#222" stroke-width="0.5" />
<line x1="276.86" y1="331.25" x2="276.86" y2="333.15" stroke="#222" stroke-width="0.5" />
<line x1="277.55" y1="331.25" x2="277.55" y2="333.85" stroke="#111" stroke-width="0.7" />
<line x1="282.08" y1="331.25" x2="282.08" y2="333.15" stroke="#222" stroke-width="0.5" />
<line x1="202.3" y1="329.65" x2="202.3" y2="333.85" stroke="#111" stroke-width="0.7" />
<text x="202.4" y="343.5" font-size="6.5" fill="#111" stroke="#111" stroke-width="0.15" text-anchor="middle" >&#8211;10</text>
<text x="217.45" y="343.5" font-size="6.5" fill="#111" stroke="#111" stroke-width="0.15" text-anchor="middle" >&#8211;9</text>
<text x="232.5" y="343.5" font-size="6.5" fill="#111" stroke="#111" stroke-width="0.15" text-anchor="middle" >&#8211;8</text>
<text x="247.55" y="343.5" font-size="6.5" fill="#111" stroke="#111" stroke-width="0.15" text-anchor="middle" >&#8211;7</text>
<text x="262.6" y="343.5" font-size="6.5" fill="#111" stroke="#111" stroke-width="0.15" text-anchor="middle" >&#8211;6</text>
<text x="277.65" y="343.5" font-size="6.5" fill="#111" stroke="#111" stroke-width="0.15" text-anchor="middle" >&#8211;5</text>
<text x="233.5" y="354" font-size="6.6" fill="#111" stroke="#111" stroke-width="0.15" text-anchor="middle" >log[DAMGO (M)]</text>
<text transform="translate(155.6,274.6) rotate(-90)" font-size="6.5" fill="#111" stroke="#111" stroke-width="0.15" text-anchor="middle"><tspan font-size="4.5" dy="-2.2">35</tspan><tspan dy="2.2">S-GTP&#947;S (dpm)</tspan></text>
<rect x="189.3" y="308.8" width="22" height="13.7" rx="0" stroke="#222" stroke-width="0.7" fill="#fff" />
<text x="200.3" y="318.05" font-size="6.7" fill="#111" stroke="#111" stroke-width="0.15" text-anchor="middle" >MOR</text>
<path d="M202.3,258.91 L203.25,259.01 L204.21,259.12 L205.16,259.25 L206.11,259.39 L207.06,259.54 L208.02,259.71 L208.97,259.9 L209.92,260.11 L210.87,260.34 L211.83,260.59 L212.78,260.87 L213.73,261.18 L214.68,261.52 L215.64,261.89 L216.59,262.3 L217.54,262.74 L218.49,263.23 L219.45,263.76 L220.4,264.34 L221.35,264.97 L222.3,265.65 L223.26,266.39 L224.21,267.18 L225.16,268.03 L226.11,268.94 L227.07,269.91 L228.02,270.94 L228.97,272.03 L229.92,273.18 L230.88,274.39 L231.83,275.64 L232.78,276.94 L233.73,278.29 L234.69,279.67 L235.64,281.07 L236.59,282.51 L237.54,283.95 L238.5,285.4 L239.45,286.84 L240.4,288.28 L241.35,289.69 L242.31,291.08 L243.26,292.44 L244.21,293.75 L245.16,295.01 L246.12,296.23 L247.07,297.39 L248.02,298.5 L248.97,299.54 L249.93,300.53 L250.88,301.45 L251.83,302.32 L252.78,303.13 L253.74,303.88 L254.69,304.57 L255.64,305.21 L256.59,305.8 L257.55,306.35 L258.5,306.85 L259.45,307.3 L260.4,307.72 L261.36,308.1 L262.31,308.45 L263.26,308.76 L264.21,309.05 L265.17,309.31 L266.12,309.54 L267.07,309.76 L268.02,309.95 L268.98,310.12 L269.93,310.28 L270.88,310.42 L271.83,310.55 L272.79,310.67 L273.74,310.77 L274.69,310.87 L275.64,310.95 L276.6,311.03 L277.55,311.09" stroke="#111" stroke-width="0.75" fill="none" />
<line x1="190.5" y1="258.8" x2="194.5" y2="258.8" stroke="#222" stroke-width="0.6" />
<line x1="188.7" y1="253" x2="188.7" y2="264.2" stroke="#111" stroke-width="0.6" />
<line x1="187" y1="253" x2="190.4" y2="253" stroke="#111" stroke-width="0.6" />
<line x1="187" y1="264.2" x2="190.4" y2="264.2" stroke="#111" stroke-width="0.6" />
<line x1="209.83" y1="254.7" x2="209.83" y2="264.7" stroke="#111" stroke-width="0.6" />
<line x1="208.13" y1="254.7" x2="211.53" y2="254.7" stroke="#111" stroke-width="0.6" />
<line x1="208.13" y1="264.7" x2="211.53" y2="264.7" stroke="#111" stroke-width="0.6" />
<line x1="217.35" y1="257.7" x2="217.35" y2="268.1" stroke="#111" stroke-width="0.6" />
<line x1="215.65" y1="257.7" x2="219.05" y2="257.7" stroke="#111" stroke-width="0.6" />
<line x1="215.65" y1="268.1" x2="219.05" y2="268.1" stroke="#111" stroke-width="0.6" />
<line x1="224.88" y1="263.7" x2="224.88" y2="273.5" stroke="#111" stroke-width="0.6" />
<line x1="223.18" y1="263.7" x2="226.57" y2="263.7" stroke="#111" stroke-width="0.6" />
<line x1="223.18" y1="273.5" x2="226.57" y2="273.5" stroke="#111" stroke-width="0.6" />
<line x1="232.4" y1="270.2" x2="232.4" y2="280" stroke="#111" stroke-width="0.6" />
<line x1="230.7" y1="270.2" x2="234.1" y2="270.2" stroke="#111" stroke-width="0.6" />
<line x1="230.7" y1="280" x2="234.1" y2="280" stroke="#111" stroke-width="0.6" />
<line x1="239.93" y1="285" x2="239.93" y2="292" stroke="#111" stroke-width="0.6" />
<line x1="238.23" y1="285" x2="241.62" y2="285" stroke="#111" stroke-width="0.6" />
<line x1="238.23" y1="292" x2="241.62" y2="292" stroke="#111" stroke-width="0.6" />
<line x1="247.45" y1="294.8" x2="247.45" y2="299.8" stroke="#111" stroke-width="0.6" />
<line x1="245.75" y1="294.8" x2="249.15" y2="294.8" stroke="#111" stroke-width="0.6" />
<line x1="245.75" y1="299.8" x2="249.15" y2="299.8" stroke="#111" stroke-width="0.6" />
<line x1="254.98" y1="303.7" x2="254.98" y2="306.9" stroke="#111" stroke-width="0.6" />
<line x1="253.28" y1="303.7" x2="256.68" y2="303.7" stroke="#111" stroke-width="0.6" />
<line x1="253.28" y1="306.9" x2="256.68" y2="306.9" stroke="#111" stroke-width="0.6" />
<line x1="262.5" y1="307.1" x2="262.5" y2="309.5" stroke="#111" stroke-width="0.6" />
<line x1="260.8" y1="307.1" x2="264.2" y2="307.1" stroke="#111" stroke-width="0.6" />
<line x1="260.8" y1="309.5" x2="264.2" y2="309.5" stroke="#111" stroke-width="0.6" />
<line x1="270.03" y1="308.6" x2="270.03" y2="311" stroke="#111" stroke-width="0.6" />
<line x1="268.33" y1="308.6" x2="271.73" y2="308.6" stroke="#111" stroke-width="0.6" />
<line x1="268.33" y1="311" x2="271.73" y2="311" stroke="#111" stroke-width="0.6" />
<line x1="277.55" y1="310.3" x2="277.55" y2="312.7" stroke="#111" stroke-width="0.6" />
<line x1="275.85" y1="310.3" x2="279.25" y2="310.3" stroke="#111" stroke-width="0.6" />
<line x1="275.85" y1="312.7" x2="279.25" y2="312.7" stroke="#111" stroke-width="0.6" />
<circle cx="209.83" cy="259.7" r="1.85" stroke="#111" stroke-width="0.75" fill="#fff" />
<line x1="207.98" y1="259.7" x2="211.68" y2="259.7" stroke="#111" stroke-width="0.5" />
<circle cx="217.35" cy="262.9" r="1.85" stroke="#111" stroke-width="0.75" fill="#fff" />
<line x1="215.5" y1="262.9" x2="219.2" y2="262.9" stroke="#111" stroke-width="0.5" />
<circle cx="224.88" cy="268.6" r="1.85" stroke="#111" stroke-width="0.75" fill="#fff" />
<line x1="223.03" y1="268.6" x2="226.72" y2="268.6" stroke="#111" stroke-width="0.5" />
<circle cx="232.4" cy="275.1" r="1.85" stroke="#111" stroke-width="0.75" fill="#fff" />
<line x1="230.55" y1="275.1" x2="234.25" y2="275.1" stroke="#111" stroke-width="0.5" />
<circle cx="239.93" cy="288.5" r="1.85" stroke="#111" stroke-width="0.75" fill="#fff" />
<line x1="238.08" y1="288.5" x2="241.78" y2="288.5" stroke="#111" stroke-width="0.5" />
<circle cx="247.45" cy="297.3" r="1.85" stroke="#111" stroke-width="0.75" fill="#fff" />
<line x1="245.6" y1="297.3" x2="249.3" y2="297.3" stroke="#111" stroke-width="0.5" />
<circle cx="254.98" cy="305.3" r="1.85" stroke="#111" stroke-width="0.75" fill="#fff" />
<line x1="253.13" y1="305.3" x2="256.83" y2="305.3" stroke="#111" stroke-width="0.5" />
<circle cx="262.5" cy="308.3" r="1.85" stroke="#111" stroke-width="0.75" fill="#fff" />
<line x1="260.65" y1="308.3" x2="264.35" y2="308.3" stroke="#111" stroke-width="0.5" />
<circle cx="270.03" cy="309.8" r="1.85" stroke="#111" stroke-width="0.75" fill="#fff" />
<line x1="268.18" y1="309.8" x2="271.88" y2="309.8" stroke="#111" stroke-width="0.5" />
<circle cx="277.55" cy="311.5" r="1.85" stroke="#111" stroke-width="0.75" fill="#fff" />
<line x1="275.7" y1="311.5" x2="279.4" y2="311.5" stroke="#111" stroke-width="0.5" />
<circle cx="188.7" cy="258.6" r="1.85" stroke="#111" stroke-width="0.75" fill="#fff" />
<line x1="186.85" y1="258.6" x2="190.55" y2="258.6" stroke="#111" stroke-width="0.5" />
<line x1="186.6" y1="217.4" x2="197.4" y2="217.4" stroke="#111" stroke-width="0.75" />
<circle cx="192.1" cy="217.4" r="1.6" stroke="#111" stroke-width="0.75" fill="#fff" />
<line x1="190.5" y1="217.4" x2="193.7" y2="217.4" stroke="#111" stroke-width="0.5" />
<text x="200.2" y="219.7" font-size="6.6" fill="#111" stroke="#111" stroke-width="0.15" >Release</text>
<line x1="321.25" y1="230.71" x2="321.25" y2="332.1" stroke="#5e5e5e" stroke-width="0.8" />
<line x1="318.65" y1="324.2" x2="321.25" y2="324.2" stroke="#707070" stroke-width="0.75" />
<text x="315.65" y="326.5" font-size="6.5" fill="#111" stroke="#111" stroke-width="0.15" text-anchor="end" >0</text>
<line x1="318.65" y1="308.67" x2="321.25" y2="308.67" stroke="#707070" stroke-width="0.75" />
<text x="315.65" y="310.97" font-size="6.5" fill="#111" stroke="#111" stroke-width="0.15" text-anchor="end" >20</text>
<line x1="318.65" y1="293.14" x2="321.25" y2="293.14" stroke="#707070" stroke-width="0.75" />
<text x="315.65" y="295.44" font-size="6.5" fill="#111" stroke="#111" stroke-width="0.15" text-anchor="end" >40</text>
<line x1="318.65" y1="277.6" x2="321.25" y2="277.6" stroke="#707070" stroke-width="0.75" />
<text x="315.65" y="279.9" font-size="6.5" fill="#111" stroke="#111" stroke-width="0.15" text-anchor="end" >60</text>
<line x1="318.65" y1="262.07" x2="321.25" y2="262.07" stroke="#707070" stroke-width="0.75" />
<text x="315.65" y="264.37" font-size="6.5" fill="#111" stroke="#111" stroke-width="0.15" text-anchor="end" >80</text>
<line x1="318.65" y1="246.54" x2="321.25" y2="246.54" stroke="#707070" stroke-width="0.75" />
<text x="315.65" y="248.84" font-size="6.5" fill="#111" stroke="#111" stroke-width="0.15" text-anchor="end" >100</text>
<line x1="318.65" y1="231.01" x2="321.25" y2="231.01" stroke="#707070" stroke-width="0.75" />
<text x="315.65" y="233.31" font-size="6.5" fill="#111" stroke="#111" stroke-width="0.15" text-anchor="end" >120</text>
<line x1="321.25" y1="331.8" x2="421.6" y2="331.8" stroke="#111" stroke-width="0.75" />
<line x1="321.87" y1="331.8" x2="321.87" y2="333.7" stroke="#222" stroke-width="0.5" />
<line x1="323.93" y1="331.8" x2="323.93" y2="333.7" stroke="#222" stroke-width="0.5" />
<line x1="325.53" y1="331.8" x2="325.53" y2="333.7" stroke="#222" stroke-width="0.5" />
<line x1="326.84" y1="331.8" x2="326.84" y2="333.7" stroke="#222" stroke-width="0.5" />
<line x1="327.94" y1="331.8" x2="327.94" y2="333.7" stroke="#222" stroke-width="0.5" />
<line x1="328.9" y1="331.8" x2="328.9" y2="333.7" stroke="#222" stroke-width="0.5" />
<line x1="329.75" y1="331.8" x2="329.75" y2="333.7" stroke="#222" stroke-width="0.5" />
<line x1="330.5" y1="331.8" x2="330.5" y2="334.4" stroke="#111" stroke-width="0.7" />
<line x1="335.47" y1="331.8" x2="335.47" y2="333.7" stroke="#222" stroke-width="0.5" />
<line x1="338.37" y1="331.8" x2="338.37" y2="333.7" stroke="#222" stroke-width="0.5" />
<line x1="340.43" y1="331.8" x2="340.43" y2="333.7" stroke="#222" stroke-width="0.5" />
<line x1="342.03" y1="331.8" x2="342.03" y2="333.7" stroke="#222" stroke-width="0.5" />
<line x1="343.34" y1="331.8" x2="343.34" y2="333.7" stroke="#222" stroke-width="0.5" />
<line x1="344.44" y1="331.8" x2="344.44" y2="333.7" stroke="#222" stroke-width="0.5" />
<line x1="345.4" y1="331.8" x2="345.4" y2="333.7" stroke="#222" stroke-width="0.5" />
<line x1="346.25" y1="331.8" x2="346.25" y2="333.7" stroke="#222" stroke-width="0.5" />
<line x1="347" y1="331.8" x2="347" y2="334.4" stroke="#111" stroke-width="0.7" />
<line x1="351.97" y1="331.8" x2="351.97" y2="333.7" stroke="#222" stroke-width="0.5" />
<line x1="354.87" y1="331.8" x2="354.87" y2="333.7" stroke="#222" stroke-width="0.5" />
<line x1="356.93" y1="331.8" x2="356.93" y2="333.7" stroke="#222" stroke-width="0.5" />
<line x1="358.53" y1="331.8" x2="358.53" y2="333.7" stroke="#222" stroke-width="0.5" />
<line x1="359.84" y1="331.8" x2="359.84" y2="333.7" stroke="#222" stroke-width="0.5" />
<line x1="360.94" y1="331.8" x2="360.94" y2="333.7" stroke="#222" stroke-width="0.5" />
<line x1="361.9" y1="331.8" x2="361.9" y2="333.7" stroke="#222" stroke-width="0.5" />
<line x1="362.75" y1="331.8" x2="362.75" y2="333.7" stroke="#222" stroke-width="0.5" />
<line x1="363.5" y1="331.8" x2="363.5" y2="334.4" stroke="#111" stroke-width="0.7" />
<line x1="368.47" y1="331.8" x2="368.47" y2="333.7" stroke="#222" stroke-width="0.5" />
<line x1="371.37" y1="331.8" x2="371.37" y2="333.7" stroke="#222" stroke-width="0.5" />
<line x1="373.43" y1="331.8" x2="373.43" y2="333.7" stroke="#222" stroke-width="0.5" />
<line x1="375.03" y1="331.8" x2="375.03" y2="333.7" stroke="#222" stroke-width="0.5" />
<line x1="376.34" y1="331.8" x2="376.34" y2="333.7" stroke="#222" stroke-width="0.5" />
<line x1="377.44" y1="331.8" x2="377.44" y2="333.7" stroke="#222" stroke-width="0.5" />
<line x1="378.4" y1="331.8" x2="378.4" y2="333.7" stroke="#222" stroke-width="0.5" />
<line x1="379.25" y1="331.8" x2="379.25" y2="333.7" stroke="#222" stroke-width="0.5" />
<line x1="380" y1="331.8" x2="380" y2="334.4" stroke="#111" stroke-width="0.7" />
<line x1="384.97" y1="331.8" x2="384.97" y2="333.7" stroke="#222" stroke-width="0.5" />
<line x1="387.87" y1="331.8" x2="387.87" y2="333.7" stroke="#222" stroke-width="0.5" />
<line x1="389.93" y1="331.8" x2="389.93" y2="333.7" stroke="#222" stroke-width="0.5" />
<line x1="391.53" y1="331.8" x2="391.53" y2="333.7" stroke="#222" stroke-width="0.5" />
<line x1="392.84" y1="331.8" x2="392.84" y2="333.7" stroke="#222" stroke-width="0.5" />
<line x1="393.94" y1="331.8" x2="393.94" y2="333.7" stroke="#222" stroke-width="0.5" />
<line x1="394.9" y1="331.8" x2="394.9" y2="333.7" stroke="#222" stroke-width="0.5" />
<line x1="395.75" y1="331.8" x2="395.75" y2="333.7" stroke="#222" stroke-width="0.5" />
<line x1="396.5" y1="331.8" x2="396.5" y2="334.4" stroke="#111" stroke-width="0.7" />
<line x1="401.47" y1="331.8" x2="401.47" y2="333.7" stroke="#222" stroke-width="0.5" />
<line x1="404.37" y1="331.8" x2="404.37" y2="333.7" stroke="#222" stroke-width="0.5" />
<line x1="406.43" y1="331.8" x2="406.43" y2="333.7" stroke="#222" stroke-width="0.5" />
<line x1="408.03" y1="331.8" x2="408.03" y2="333.7" stroke="#222" stroke-width="0.5" />
<line x1="409.34" y1="331.8" x2="409.34" y2="333.7" stroke="#222" stroke-width="0.5" />
<line x1="410.44" y1="331.8" x2="410.44" y2="333.7" stroke="#222" stroke-width="0.5" />
<line x1="411.4" y1="331.8" x2="411.4" y2="333.7" stroke="#222" stroke-width="0.5" />
<line x1="412.25" y1="331.8" x2="412.25" y2="333.7" stroke="#222" stroke-width="0.5" />
<line x1="413" y1="331.8" x2="413" y2="334.4" stroke="#111" stroke-width="0.7" />
<line x1="417.97" y1="331.8" x2="417.97" y2="333.7" stroke="#222" stroke-width="0.5" />
<line x1="420.87" y1="331.8" x2="420.87" y2="333.7" stroke="#222" stroke-width="0.5" />
<text x="330.6" y="344" font-size="6.5" fill="#111" stroke="#111" stroke-width="0.15" text-anchor="middle" >&#8211;10</text>
<text x="347.1" y="344" font-size="6.5" fill="#111" stroke="#111" stroke-width="0.15" text-anchor="middle" >&#8211;9</text>
<text x="363.6" y="344" font-size="6.5" fill="#111" stroke="#111" stroke-width="0.15" text-anchor="middle" >&#8211;8</text>
<text x="380.1" y="344" font-size="6.5" fill="#111" stroke="#111" stroke-width="0.15" text-anchor="middle" >&#8211;7</text>
<text x="396.6" y="344" font-size="6.5" fill="#111" stroke="#111" stroke-width="0.15" text-anchor="middle" >&#8211;6</text>
<text x="413.1" y="344" font-size="6.5" fill="#111" stroke="#111" stroke-width="0.15" text-anchor="middle" >&#8211;5</text>
<line x1="322.05" y1="324.2" x2="421.6" y2="324.2" stroke="#000" stroke-width="0.95" stroke-dasharray="0.95,0.95"/>
<text x="370.5" y="354.4" font-size="6.6" fill="#111" stroke="#111" stroke-width="0.15" text-anchor="middle" >log[DAMGO (M)]</text>
<text transform="translate(299.2,281.5) rotate(-90)" font-size="6.5" fill="#111" stroke="#111" stroke-width="0.15" text-anchor="middle"><tspan font-size="4.5" dy="-2.2">35</tspan><tspan dy="2.2">S-GTP&#947;S (% DAMGO)</tspan></text>
<rect x="398.1" y="306.4" width="22.8" height="14.1" rx="0" stroke="#222" stroke-width="0.7" fill="#fff" />
<text x="409.5" y="315.85" font-size="6.7" fill="#111" stroke="#111" stroke-width="0.15" text-anchor="middle" >MOR</text>
<path d="M321.43,323.89 L322.59,323.87 L323.76,323.85 L324.93,323.82 L326.1,323.79 L327.27,323.75 L328.44,323.7 L329.61,323.65 L330.78,323.59 L331.95,323.51 L333.12,323.43 L334.29,323.32 L335.46,323.21 L336.63,323.06 L337.8,322.9 L338.97,322.71 L340.14,322.48 L341.31,322.21 L342.48,321.9 L343.65,321.54 L344.82,321.11 L345.99,320.62 L347.16,320.04 L348.33,319.38 L349.5,318.61 L350.67,317.72 L351.84,316.7 L353,315.53 L354.17,314.2 L355.34,312.69 L356.51,311 L357.68,309.11 L358.85,307.01 L360.02,304.71 L361.19,302.2 L362.36,299.5 L363.53,296.63 L364.7,293.6 L365.87,290.45 L367.04,287.22 L368.21,283.94 L369.38,280.67 L370.55,277.45 L371.72,274.31 L372.89,271.3 L374.06,268.45 L375.23,265.77 L376.4,263.29 L377.57,261.02 L378.74,258.95 L379.91,257.08 L381.08,255.42 L382.25,253.93 L383.41,252.63 L384.58,251.48 L385.75,250.48 L386.92,249.6 L388.09,248.85 L389.26,248.19 L390.43,247.63 L391.6,247.15 L392.77,246.73 L393.94,246.37 L395.11,246.07 L396.28,245.81 L397.45,245.58 L398.62,245.4 L399.79,245.23 L400.96,245.1 L402.13,244.98 L403.3,244.88 L404.47,244.79 L405.64,244.72 L406.81,244.66 L407.98,244.61 L409.15,244.57 L410.32,244.53 L411.49,244.5 L412.66,244.47 L413.82,244.45" stroke="#111" stroke-width="0.75" fill="none" />
<path d="M321.43,323.57 L322.59,323.51 L323.76,323.45 L324.93,323.37 L326.1,323.29 L327.27,323.19 L328.44,323.09 L329.61,322.96 L330.78,322.83 L331.95,322.67 L333.12,322.49 L334.29,322.29 L335.46,322.07 L336.63,321.81 L337.8,321.53 L338.97,321.2 L340.14,320.84 L341.31,320.43 L342.48,319.97 L343.65,319.46 L344.82,318.88 L345.99,318.24 L347.16,317.53 L348.33,316.73 L349.5,315.85 L350.67,314.88 L351.84,313.81 L353,312.63 L354.17,311.35 L355.34,309.95 L356.51,308.44 L357.68,306.81 L358.85,305.06 L360.02,303.19 L361.19,301.22 L362.36,299.14 L363.53,296.97 L364.7,294.72 L365.87,292.4 L367.04,290.04 L368.21,287.64 L369.38,285.23 L370.55,282.83 L371.72,280.45 L372.89,278.12 L374.06,275.85 L375.23,273.65 L376.4,271.55 L377.57,269.55 L378.74,267.65 L379.91,265.87 L381.08,264.2 L382.25,262.66 L383.41,261.22 L384.58,259.91 L385.75,258.7 L386.92,257.6 L388.09,256.61 L389.26,255.7 L390.43,254.88 L391.6,254.15 L392.77,253.49 L393.94,252.89 L395.11,252.36 L396.28,251.89 L397.45,251.47 L398.62,251.09 L399.79,250.76 L400.96,250.46 L402.13,250.2 L403.3,249.96 L404.47,249.76 L405.64,249.57 L406.81,249.41 L407.98,249.27 L409.15,249.14 L410.32,249.03 L411.49,248.93 L412.66,248.85 L413.82,248.77" stroke="#222" stroke-width="0.55" fill="none" stroke-dasharray="1.6,0.7"/>
<line x1="347" y1="316.4" x2="347" y2="317.6" stroke="#111" stroke-width="0.6" />
<line x1="345.3" y1="316.4" x2="348.7" y2="316.4" stroke="#111" stroke-width="0.6" />
<line x1="345.3" y1="317.6" x2="348.7" y2="317.6" stroke="#111" stroke-width="0.6" />
<line x1="355.25" y1="308.2" x2="355.25" y2="309.8" stroke="#111" stroke-width="0.6" />
<line x1="353.55" y1="308.2" x2="356.95" y2="308.2" stroke="#111" stroke-width="0.6" />
<line x1="353.55" y1="309.8" x2="356.95" y2="309.8" stroke="#111" stroke-width="0.6" />
<line x1="363.5" y1="297.5" x2="363.5" y2="299.5" stroke="#111" stroke-width="0.6" />
<line x1="361.8" y1="297.5" x2="365.2" y2="297.5" stroke="#111" stroke-width="0.6" />
<line x1="361.8" y1="299.5" x2="365.2" y2="299.5" stroke="#111" stroke-width="0.6" />
<line x1="371.75" y1="278.3" x2="371.75" y2="280.7" stroke="#111" stroke-width="0.6" />
<line x1="370.05" y1="278.3" x2="373.45" y2="278.3" stroke="#111" stroke-width="0.6" />
<line x1="370.05" y1="280.7" x2="373.45" y2="280.7" stroke="#111" stroke-width="0.6" />
<line x1="380" y1="265" x2="380" y2="267" stroke="#111" stroke-width="0.6" />
<line x1="378.3" y1="265" x2="381.7" y2="265" stroke="#111" stroke-width="0.6" />
<line x1="378.3" y1="267" x2="381.7" y2="267" stroke="#111" stroke-width="0.6" />
<line x1="388.25" y1="255.7" x2="388.25" y2="257.3" stroke="#111" stroke-width="0.6" />
<line x1="386.55" y1="255.7" x2="389.95" y2="255.7" stroke="#111" stroke-width="0.6" />
<line x1="386.55" y1="257.3" x2="389.95" y2="257.3" stroke="#111" stroke-width="0.6" />
<line x1="396.5" y1="250.9" x2="396.5" y2="252.1" stroke="#111" stroke-width="0.6" />
<line x1="394.8" y1="250.9" x2="398.2" y2="250.9" stroke="#111" stroke-width="0.6" />
<line x1="394.8" y1="252.1" x2="398.2" y2="252.1" stroke="#111" stroke-width="0.6" />
<line x1="404.75" y1="249.7" x2="404.75" y2="250.9" stroke="#111" stroke-width="0.6" />
<line x1="403.05" y1="249.7" x2="406.45" y2="249.7" stroke="#111" stroke-width="0.6" />
<line x1="403.05" y1="250.9" x2="406.45" y2="250.9" stroke="#111" stroke-width="0.6" />
<line x1="413" y1="247.9" x2="413" y2="249.1" stroke="#111" stroke-width="0.6" />
<line x1="411.3" y1="247.9" x2="414.7" y2="247.9" stroke="#111" stroke-width="0.6" />
<line x1="411.3" y1="249.1" x2="414.7" y2="249.1" stroke="#111" stroke-width="0.6" />
<circle cx="338.75" cy="322.5" r="1.85" stroke="#111" stroke-width="0.75" fill="#fff" />
<line x1="336.9" y1="322.5" x2="340.6" y2="322.5" stroke="#111" stroke-width="0.5" />
<circle cx="347" cy="317" r="1.85" stroke="#111" stroke-width="0.75" fill="#fff" />
<line x1="345.15" y1="317" x2="348.85" y2="317" stroke="#111" stroke-width="0.5" />
<circle cx="355.25" cy="309" r="1.85" stroke="#111" stroke-width="0.75" fill="#fff" />
<line x1="353.4" y1="309" x2="357.1" y2="309" stroke="#111" stroke-width="0.5" />
<circle cx="363.5" cy="298.5" r="1.85" stroke="#111" stroke-width="0.75" fill="#fff" />
<line x1="361.65" y1="298.5" x2="365.35" y2="298.5" stroke="#111" stroke-width="0.5" />
<circle cx="371.75" cy="279.5" r="1.85" stroke="#111" stroke-width="0.75" fill="#fff" />
<line x1="369.9" y1="279.5" x2="373.6" y2="279.5" stroke="#111" stroke-width="0.5" />
<circle cx="380" cy="266" r="1.85" stroke="#111" stroke-width="0.75" fill="#fff" />
<line x1="378.15" y1="266" x2="381.85" y2="266" stroke="#111" stroke-width="0.5" />
<circle cx="388.25" cy="256.5" r="1.85" stroke="#111" stroke-width="0.75" fill="#fff" />
<line x1="386.4" y1="256.5" x2="390.1" y2="256.5" stroke="#111" stroke-width="0.5" />
<circle cx="396.5" cy="251.5" r="1.85" stroke="#111" stroke-width="0.75" fill="#fff" />
<line x1="394.65" y1="251.5" x2="398.35" y2="251.5" stroke="#111" stroke-width="0.5" />
<circle cx="404.75" cy="250.3" r="1.85" stroke="#111" stroke-width="0.75" fill="#fff" />
<line x1="402.9" y1="250.3" x2="406.6" y2="250.3" stroke="#111" stroke-width="0.5" />
<circle cx="413" cy="248.5" r="1.85" stroke="#111" stroke-width="0.75" fill="#fff" />
<line x1="411.15" y1="248.5" x2="414.85" y2="248.5" stroke="#111" stroke-width="0.5" />
<line x1="355.25" y1="312" x2="355.25" y2="313.6" stroke="#111" stroke-width="0.6" />
<line x1="353.55" y1="312" x2="356.95" y2="312" stroke="#111" stroke-width="0.6" />
<line x1="353.55" y1="313.6" x2="356.95" y2="313.6" stroke="#111" stroke-width="0.6" />
<line x1="363.5" y1="295.5" x2="363.5" y2="297.5" stroke="#111" stroke-width="0.6" />
<line x1="361.8" y1="295.5" x2="365.2" y2="295.5" stroke="#111" stroke-width="0.6" />
<line x1="361.8" y1="297.5" x2="365.2" y2="297.5" stroke="#111" stroke-width="0.6" />
<line x1="371.75" y1="274.1" x2="371.75" y2="276.5" stroke="#111" stroke-width="0.6" />
<line x1="370.05" y1="274.1" x2="373.45" y2="274.1" stroke="#111" stroke-width="0.6" />
<line x1="370.05" y1="276.5" x2="373.45" y2="276.5" stroke="#111" stroke-width="0.6" />
<line x1="380" y1="255.5" x2="380" y2="257.5" stroke="#111" stroke-width="0.6" />
<line x1="378.3" y1="255.5" x2="381.7" y2="255.5" stroke="#111" stroke-width="0.6" />
<line x1="378.3" y1="257.5" x2="381.7" y2="257.5" stroke="#111" stroke-width="0.6" />
<line x1="388.25" y1="246.2" x2="388.25" y2="247.8" stroke="#111" stroke-width="0.6" />
<line x1="386.55" y1="246.2" x2="389.95" y2="246.2" stroke="#111" stroke-width="0.6" />
<line x1="386.55" y1="247.8" x2="389.95" y2="247.8" stroke="#111" stroke-width="0.6" />
<line x1="396.5" y1="245.4" x2="396.5" y2="246.6" stroke="#111" stroke-width="0.6" />
<line x1="394.8" y1="245.4" x2="398.2" y2="245.4" stroke="#111" stroke-width="0.6" />
<line x1="394.8" y1="246.6" x2="398.2" y2="246.6" stroke="#111" stroke-width="0.6" />
<line x1="404.75" y1="243.9" x2="404.75" y2="245.1" stroke="#111" stroke-width="0.6" />
<line x1="403.05" y1="243.9" x2="406.45" y2="243.9" stroke="#111" stroke-width="0.6" />
<line x1="403.05" y1="245.1" x2="406.45" y2="245.1" stroke="#111" stroke-width="0.6" />
<line x1="413" y1="245.4" x2="413" y2="246.6" stroke="#111" stroke-width="0.6" />
<line x1="411.3" y1="245.4" x2="414.7" y2="245.4" stroke="#111" stroke-width="0.6" />
<line x1="411.3" y1="246.6" x2="414.7" y2="246.6" stroke="#111" stroke-width="0.6" />
<circle cx="338.75" cy="322.5" r="1.85" stroke="#000" stroke-width="0.4" fill="#000" />
<circle cx="347" cy="319" r="1.85" stroke="#000" stroke-width="0.4" fill="#000" />
<circle cx="355.25" cy="312.8" r="1.85" stroke="#000" stroke-width="0.4" fill="#000" />
<circle cx="363.5" cy="296.5" r="1.85" stroke="#000" stroke-width="0.4" fill="#000" />
<circle cx="371.75" cy="275.3" r="1.85" stroke="#000" stroke-width="0.4" fill="#000" />
<circle cx="380" cy="256.5" r="1.85" stroke="#000" stroke-width="0.4" fill="#000" />
<circle cx="388.25" cy="247" r="1.85" stroke="#000" stroke-width="0.4" fill="#000" />
<circle cx="396.5" cy="246" r="1.85" stroke="#000" stroke-width="0.4" fill="#000" />
<circle cx="404.75" cy="244.5" r="1.85" stroke="#000" stroke-width="0.4" fill="#000" />
<circle cx="413" cy="246" r="1.85" stroke="#000" stroke-width="0.4" fill="#000" />
<line x1="323.9" y1="216.8" x2="334.7" y2="216.8" stroke="#111" stroke-width="0.75" />
<circle cx="329.4" cy="216.8" r="1.6" stroke="#000" stroke-width="0.4" fill="#000" />
<text x="337.5" y="219.1" font-size="6.6" fill="#111" stroke="#111" stroke-width="0.15" >Binding: 7.71 (7.67&#8211;7.76) M</text>
<line x1="323.9" y1="226.2" x2="334.7" y2="226.2" stroke="#333" stroke-width="0.6" stroke-dasharray="1.2,0.8"/>
<circle cx="329.4" cy="226.2" r="1.6" stroke="#111" stroke-width="0.75" fill="#fff" />
<line x1="327.8" y1="226.2" x2="331" y2="226.2" stroke="#111" stroke-width="0.5" />
<text x="337.5" y="228.5" font-size="6.6" fill="#111" stroke="#111" stroke-width="0.15" >Release: 7.69 (7.65&#8211;7.73) M</text>
<line x1="33.75" y1="385.95" x2="33.75" y2="486.55" stroke="#5e5e5e" stroke-width="0.8" />
<line x1="31.15" y1="478.75" x2="33.75" y2="478.75" stroke="#707070" stroke-width="0.75" />
<text x="28.15" y="481.05" font-size="6.5" fill="#111" stroke="#111" stroke-width="0.15" text-anchor="end" >0</text>
<line x1="31.15" y1="463.33" x2="33.75" y2="463.33" stroke="#707070" stroke-width="0.75" />
<text x="28.15" y="465.63" font-size="6.5" fill="#111" stroke="#111" stroke-width="0.15" text-anchor="end" >20</text>
<line x1="31.15" y1="447.92" x2="33.75" y2="447.92" stroke="#707070" stroke-width="0.75" />
<text x="28.15" y="450.22" font-size="6.5" fill="#111" stroke="#111" stroke-width="0.15" text-anchor="end" >40</text>
<line x1="31.15" y1="432.5" x2="33.75" y2="432.5" stroke="#707070" stroke-width="0.75" />
<text x="28.15" y="434.8" font-size="6.5" fill="#111" stroke="#111" stroke-width="0.15" text-anchor="end" >60</text>
<line x1="31.15" y1="417.09" x2="33.75" y2="417.09" stroke="#707070" stroke-width="0.75" />
<text x="28.15" y="419.39" font-size="6.5" fill="#111" stroke="#111" stroke-width="0.15" text-anchor="end" >80</text>
<line x1="31.15" y1="401.67" x2="33.75" y2="401.67" stroke="#707070" stroke-width="0.75" />
<text x="28.15" y="403.97" font-size="6.5" fill="#111" stroke="#111" stroke-width="0.15" text-anchor="end" >100</text>
<line x1="31.15" y1="386.25" x2="33.75" y2="386.25" stroke="#707070" stroke-width="0.75" />
<text x="28.15" y="388.55" font-size="6.5" fill="#111" stroke="#111" stroke-width="0.15" text-anchor="end" >120</text>
<line x1="33.75" y1="486.25" x2="134.5" y2="486.25" stroke="#111" stroke-width="0.75" />
<line x1="34.04" y1="486.25" x2="34.04" y2="488.15" stroke="#222" stroke-width="0.5" />
<line x1="36.54" y1="486.25" x2="36.54" y2="488.15" stroke="#222" stroke-width="0.5" />
<line x1="38.48" y1="486.25" x2="38.48" y2="488.15" stroke="#222" stroke-width="0.5" />
<line x1="40.06" y1="486.25" x2="40.06" y2="488.15" stroke="#222" stroke-width="0.5" />
<line x1="41.4" y1="486.25" x2="41.4" y2="488.15" stroke="#222" stroke-width="0.5" />
<line x1="42.56" y1="486.25" x2="42.56" y2="488.15" stroke="#222" stroke-width="0.5" />
<line x1="43.58" y1="486.25" x2="43.58" y2="488.15" stroke="#222" stroke-width="0.5" />
<line x1="44.5" y1="486.25" x2="44.5" y2="488.85" stroke="#111" stroke-width="0.7" />
<line x1="50.52" y1="486.25" x2="50.52" y2="488.15" stroke="#222" stroke-width="0.5" />
<line x1="54.04" y1="486.25" x2="54.04" y2="488.15" stroke="#222" stroke-width="0.5" />
<line x1="56.54" y1="486.25" x2="56.54" y2="488.15" stroke="#222" stroke-width="0.5" />
<line x1="58.48" y1="486.25" x2="58.48" y2="488.15" stroke="#222" stroke-width="0.5" />
<line x1="60.06" y1="486.25" x2="60.06" y2="488.15" stroke="#222" stroke-width="0.5" />
<line x1="61.4" y1="486.25" x2="61.4" y2="488.15" stroke="#222" stroke-width="0.5" />
<line x1="62.56" y1="486.25" x2="62.56" y2="488.15" stroke="#222" stroke-width="0.5" />
<line x1="63.58" y1="486.25" x2="63.58" y2="488.15" stroke="#222" stroke-width="0.5" />
<line x1="64.5" y1="486.25" x2="64.5" y2="488.85" stroke="#111" stroke-width="0.7" />
<line x1="70.52" y1="486.25" x2="70.52" y2="488.15" stroke="#222" stroke-width="0.5" />
<line x1="74.04" y1="486.25" x2="74.04" y2="488.15" stroke="#222" stroke-width="0.5" />
<line x1="76.54" y1="486.25" x2="76.54" y2="488.15" stroke="#222" stroke-width="0.5" />
<line x1="78.48" y1="486.25" x2="78.48" y2="488.15" stroke="#222" stroke-width="0.5" />
<line x1="80.06" y1="486.25" x2="80.06" y2="488.15" stroke="#222" stroke-width="0.5" />
<line x1="81.4" y1="486.25" x2="81.4" y2="488.15" stroke="#222" stroke-width="0.5" />
<line x1="82.56" y1="486.25" x2="82.56" y2="488.15" stroke="#222" stroke-width="0.5" />
<line x1="83.58" y1="486.25" x2="83.58" y2="488.15" stroke="#222" stroke-width="0.5" />
<line x1="84.5" y1="486.25" x2="84.5" y2="488.85" stroke="#111" stroke-width="0.7" />
<line x1="90.52" y1="486.25" x2="90.52" y2="488.15" stroke="#222" stroke-width="0.5" />
<line x1="94.04" y1="486.25" x2="94.04" y2="488.15" stroke="#222" stroke-width="0.5" />
<line x1="96.54" y1="486.25" x2="96.54" y2="488.15" stroke="#222" stroke-width="0.5" />
<line x1="98.48" y1="486.25" x2="98.48" y2="488.15" stroke="#222" stroke-width="0.5" />
<line x1="100.06" y1="486.25" x2="100.06" y2="488.15" stroke="#222" stroke-width="0.5" />
<line x1="101.4" y1="486.25" x2="101.4" y2="488.15" stroke="#222" stroke-width="0.5" />
<line x1="102.56" y1="486.25" x2="102.56" y2="488.15" stroke="#222" stroke-width="0.5" />
<line x1="103.58" y1="486.25" x2="103.58" y2="488.15" stroke="#222" stroke-width="0.5" />
<line x1="104.5" y1="486.25" x2="104.5" y2="488.85" stroke="#111" stroke-width="0.7" />
<line x1="110.52" y1="486.25" x2="110.52" y2="488.15" stroke="#222" stroke-width="0.5" />
<line x1="114.04" y1="486.25" x2="114.04" y2="488.15" stroke="#222" stroke-width="0.5" />
<line x1="116.54" y1="486.25" x2="116.54" y2="488.15" stroke="#222" stroke-width="0.5" />
<line x1="118.48" y1="486.25" x2="118.48" y2="488.15" stroke="#222" stroke-width="0.5" />
<line x1="120.06" y1="486.25" x2="120.06" y2="488.15" stroke="#222" stroke-width="0.5" />
<line x1="121.4" y1="486.25" x2="121.4" y2="488.15" stroke="#222" stroke-width="0.5" />
<line x1="122.56" y1="486.25" x2="122.56" y2="488.15" stroke="#222" stroke-width="0.5" />
<line x1="123.58" y1="486.25" x2="123.58" y2="488.15" stroke="#222" stroke-width="0.5" />
<line x1="124.5" y1="486.25" x2="124.5" y2="488.85" stroke="#111" stroke-width="0.7" />
<line x1="130.52" y1="486.25" x2="130.52" y2="488.15" stroke="#222" stroke-width="0.5" />
<line x1="134.04" y1="486.25" x2="134.04" y2="488.15" stroke="#222" stroke-width="0.5" />
<text x="44.6" y="498.45" font-size="6.5" fill="#111" stroke="#111" stroke-width="0.15" text-anchor="middle" >&#8211;10</text>
<text x="64.6" y="498.45" font-size="6.5" fill="#111" stroke="#111" stroke-width="0.15" text-anchor="middle" >&#8211;9</text>
<text x="84.6" y="498.45" font-size="6.5" fill="#111" stroke="#111" stroke-width="0.15" text-anchor="middle" >&#8211;8</text>
<text x="104.6" y="498.45" font-size="6.5" fill="#111" stroke="#111" stroke-width="0.15" text-anchor="middle" >&#8211;7</text>
<text x="124.6" y="498.45" font-size="6.5" fill="#111" stroke="#111" stroke-width="0.15" text-anchor="middle" >&#8211;6</text>
<line x1="34.55" y1="478.75" x2="134.5" y2="478.75" stroke="#000" stroke-width="0.95" stroke-dasharray="0.95,0.95"/>
<text x="84.4" y="508.85" font-size="6.6" fill="#111" stroke="#111" stroke-width="0.15" text-anchor="middle" >log[met-enkephalin (M)]</text>
<text transform="translate(12.4,435.5) rotate(-90)" font-size="6.5" fill="#111" stroke="#111" stroke-width="0.15" text-anchor="middle"><tspan font-size="4.5" dy="-2.2">35</tspan><tspan dy="2.2">S-GTP&#947;S (% MPE)</tspan></text>
<rect x="112" y="462.5" width="22.5" height="13.8" rx="0" stroke="#222" stroke-width="0.7" fill="#fff" />
<text x="123.25" y="471.8" font-size="6.7" fill="#111" stroke="#111" stroke-width="0.15" text-anchor="middle" >MOR</text>
<path d="M52.5,476.57 L53.42,476.39 L54.35,476.19 L55.27,475.98 L56.2,475.73 L57.12,475.47 L58.04,475.17 L58.97,474.85 L59.89,474.49 L60.82,474.09 L61.74,473.66 L62.66,473.18 L63.59,472.66 L64.51,472.09 L65.44,471.46 L66.36,470.77 L67.28,470.03 L68.21,469.21 L69.13,468.33 L70.06,467.37 L70.98,466.34 L71.91,465.22 L72.83,464.03 L73.75,462.74 L74.68,461.38 L75.6,459.92 L76.53,458.38 L77.45,456.75 L78.37,455.04 L79.3,453.26 L80.22,451.4 L81.15,449.47 L82.07,447.49 L82.99,445.45 L83.92,443.38 L84.84,441.28 L85.77,439.16 L86.69,437.04 L87.61,434.92 L88.54,432.82 L89.46,430.75 L90.39,428.72 L91.31,426.74 L92.23,424.82 L93.16,422.97 L94.08,421.19 L95.01,419.49 L95.93,417.87 L96.85,416.34 L97.78,414.89 L98.7,413.53 L99.63,412.26 L100.55,411.07 L101.47,409.96 L102.4,408.94 L103.32,407.99 L104.25,407.11 L105.17,406.3 L106.09,405.56 L107.02,404.88 L107.94,404.26 L108.87,403.69 L109.79,403.17 L110.72,402.7 L111.64,402.27 L112.56,401.88 L113.49,401.52 L114.41,401.2 L115.34,400.91 L116.26,400.65 L117.18,400.41 L118.11,400.19 L119.03,399.99 L119.96,399.82 L120.88,399.66 L121.8,399.51 L122.73,399.38 L123.65,399.27 L124.58,399.16 L125.5,399.07" stroke="#111" stroke-width="0.75" fill="none" />
<path d="M52.5,474.27 L53.42,473.94 L54.35,473.59 L55.27,473.21 L56.2,472.8 L57.12,472.36 L58.04,471.89 L58.97,471.38 L59.89,470.83 L60.82,470.25 L61.74,469.62 L62.66,468.96 L63.59,468.24 L64.51,467.48 L65.44,466.68 L66.36,465.82 L67.28,464.91 L68.21,463.95 L69.13,462.94 L70.06,461.87 L70.98,460.75 L71.91,459.58 L72.83,458.35 L73.75,457.07 L74.68,455.74 L75.6,454.35 L76.53,452.93 L77.45,451.45 L78.37,449.94 L79.3,448.39 L80.22,446.81 L81.15,445.2 L82.07,443.57 L82.99,441.92 L83.92,440.26 L84.84,438.6 L85.77,436.94 L86.69,435.28 L87.61,433.64 L88.54,432.01 L89.46,430.41 L90.39,428.84 L91.31,427.3 L92.23,425.79 L93.16,424.33 L94.08,422.92 L95.01,421.55 L95.93,420.23 L96.85,418.96 L97.78,417.75 L98.7,416.58 L99.63,415.48 L100.55,414.42 L101.47,413.43 L102.4,412.48 L103.32,411.58 L104.25,410.74 L105.17,409.95 L106.09,409.2 L107.02,408.5 L107.94,407.84 L108.87,407.23 L109.79,406.65 L110.72,406.12 L111.64,405.62 L112.56,405.15 L113.49,404.72 L114.41,404.32 L115.34,403.95 L116.26,403.6 L117.18,403.28 L118.11,402.98 L119.03,402.7 L119.96,402.45 L120.88,402.21 L121.8,402 L122.73,401.79 L123.65,401.61 L124.58,401.44 L125.5,401.28" stroke="#222" stroke-width="0.55" fill="none" stroke-dasharray="1.6,0.7"/>
<line x1="54.5" y1="475" x2="54.5" y2="477" stroke="#111" stroke-width="0.6" />
<line x1="52.8" y1="475" x2="56.2" y2="475" stroke="#111" stroke-width="0.6" />
<line x1="52.8" y1="477" x2="56.2" y2="477" stroke="#111" stroke-width="0.6" />
<line x1="64.5" y1="463.8" x2="64.5" y2="468.8" stroke="#111" stroke-width="0.6" />
<line x1="62.8" y1="463.8" x2="66.2" y2="463.8" stroke="#111" stroke-width="0.6" />
<line x1="62.8" y1="468.8" x2="66.2" y2="468.8" stroke="#111" stroke-width="0.6" />
<line x1="74.5" y1="454" x2="74.5" y2="458" stroke="#111" stroke-width="0.6" />
<line x1="72.8" y1="454" x2="76.2" y2="454" stroke="#111" stroke-width="0.6" />
<line x1="72.8" y1="458" x2="76.2" y2="458" stroke="#111" stroke-width="0.6" />
<line x1="84.5" y1="435.8" x2="84.5" y2="441.8" stroke="#111" stroke-width="0.6" />
<line x1="82.8" y1="435.8" x2="86.2" y2="435.8" stroke="#111" stroke-width="0.6" />
<line x1="82.8" y1="441.8" x2="86.2" y2="441.8" stroke="#111" stroke-width="0.6" />
<line x1="94.5" y1="419.5" x2="94.5" y2="425.5" stroke="#111" stroke-width="0.6" />
<line x1="92.8" y1="419.5" x2="96.2" y2="419.5" stroke="#111" stroke-width="0.6" />
<line x1="92.8" y1="425.5" x2="96.2" y2="425.5" stroke="#111" stroke-width="0.6" />
<line x1="104.5" y1="409.3" x2="104.5" y2="413.3" stroke="#111" stroke-width="0.6" />
<line x1="102.8" y1="409.3" x2="106.2" y2="409.3" stroke="#111" stroke-width="0.6" />
<line x1="102.8" y1="413.3" x2="106.2" y2="413.3" stroke="#111" stroke-width="0.6" />
<line x1="114.5" y1="402.3" x2="114.5" y2="405.3" stroke="#111" stroke-width="0.6" />
<line x1="112.8" y1="402.3" x2="116.2" y2="402.3" stroke="#111" stroke-width="0.6" />
<line x1="112.8" y1="405.3" x2="116.2" y2="405.3" stroke="#111" stroke-width="0.6" />
<line x1="124.5" y1="400.3" x2="124.5" y2="402.3" stroke="#111" stroke-width="0.6" />
<line x1="122.8" y1="400.3" x2="126.2" y2="400.3" stroke="#111" stroke-width="0.6" />
<line x1="122.8" y1="402.3" x2="126.2" y2="402.3" stroke="#111" stroke-width="0.6" />
<circle cx="54.5" cy="476" r="1.85" stroke="#111" stroke-width="0.75" fill="#fff" />
<line x1="52.65" y1="476" x2="56.35" y2="476" stroke="#111" stroke-width="0.5" />
<circle cx="64.5" cy="466.3" r="1.85" stroke="#111" stroke-width="0.75" fill="#fff" />
<line x1="62.65" y1="466.3" x2="66.35" y2="466.3" stroke="#111" stroke-width="0.5" />
<circle cx="74.5" cy="456" r="1.85" stroke="#111" stroke-width="0.75" fill="#fff" />
<line x1="72.65" y1="456" x2="76.35" y2="456" stroke="#111" stroke-width="0.5" />
<circle cx="84.5" cy="438.8" r="1.85" stroke="#111" stroke-width="0.75" fill="#fff" />
<line x1="82.65" y1="438.8" x2="86.35" y2="438.8" stroke="#111" stroke-width="0.5" />
<circle cx="94.5" cy="422.5" r="1.85" stroke="#111" stroke-width="0.75" fill="#fff" />
<line x1="92.65" y1="422.5" x2="96.35" y2="422.5" stroke="#111" stroke-width="0.5" />
<circle cx="104.5" cy="411.3" r="1.85" stroke="#111" stroke-width="0.75" fill="#fff" />
<line x1="102.65" y1="411.3" x2="106.35" y2="411.3" stroke="#111" stroke-width="0.5" />
<circle cx="114.5" cy="403.8" r="1.85" stroke="#111" stroke-width="0.75" fill="#fff" />
<line x1="112.65" y1="403.8" x2="116.35" y2="403.8" stroke="#111" stroke-width="0.5" />
<circle cx="124.5" cy="401.3" r="1.85" stroke="#111" stroke-width="0.75" fill="#fff" />
<line x1="122.65" y1="401.3" x2="126.35" y2="401.3" stroke="#111" stroke-width="0.5" />
<line x1="54.5" y1="475.7" x2="54.5" y2="477.3" stroke="#111" stroke-width="0.6" />
<line x1="52.8" y1="475.7" x2="56.2" y2="475.7" stroke="#111" stroke-width="0.6" />
<line x1="52.8" y1="477.3" x2="56.2" y2="477.3" stroke="#111" stroke-width="0.6" />
<line x1="64.5" y1="471.5" x2="64.5" y2="473.5" stroke="#111" stroke-width="0.6" />
<line x1="62.8" y1="471.5" x2="66.2" y2="471.5" stroke="#111" stroke-width="0.6" />
<line x1="62.8" y1="473.5" x2="66.2" y2="473.5" stroke="#111" stroke-width="0.6" />
<line x1="74.5" y1="459" x2="74.5" y2="465" stroke="#111" stroke-width="0.6" />
<line x1="72.8" y1="459" x2="76.2" y2="459" stroke="#111" stroke-width="0.6" />
<line x1="72.8" y1="465" x2="76.2" y2="465" stroke="#111" stroke-width="0.6" />
<line x1="84.5" y1="434.5" x2="84.5" y2="445.5" stroke="#111" stroke-width="0.6" />
<line x1="82.8" y1="434.5" x2="86.2" y2="434.5" stroke="#111" stroke-width="0.6" />
<line x1="82.8" y1="445.5" x2="86.2" y2="445.5" stroke="#111" stroke-width="0.6" />
<line x1="94.5" y1="416.8" x2="94.5" y2="430.8" stroke="#111" stroke-width="0.6" />
<line x1="92.8" y1="416.8" x2="96.2" y2="416.8" stroke="#111" stroke-width="0.6" />
<line x1="92.8" y1="430.8" x2="96.2" y2="430.8" stroke="#111" stroke-width="0.6" />
<line x1="104.5" y1="400" x2="104.5" y2="409" stroke="#111" stroke-width="0.6" />
<line x1="102.8" y1="400" x2="106.2" y2="400" stroke="#111" stroke-width="0.6" />
<line x1="102.8" y1="409" x2="106.2" y2="409" stroke="#111" stroke-width="0.6" />
<line x1="114.5" y1="397" x2="114.5" y2="402" stroke="#111" stroke-width="0.6" />
<line x1="112.8" y1="397" x2="116.2" y2="397" stroke="#111" stroke-width="0.6" />
<line x1="112.8" y1="402" x2="116.2" y2="402" stroke="#111" stroke-width="0.6" />
<line x1="124.5" y1="400.1" x2="124.5" y2="402.5" stroke="#111" stroke-width="0.6" />
<line x1="122.8" y1="400.1" x2="126.2" y2="400.1" stroke="#111" stroke-width="0.6" />
<line x1="122.8" y1="402.5" x2="126.2" y2="402.5" stroke="#111" stroke-width="0.6" />
<circle cx="54.5" cy="476.5" r="1.85" stroke="#000" stroke-width="0.4" fill="#000" />
<circle cx="64.5" cy="472.5" r="1.85" stroke="#000" stroke-width="0.4" fill="#000" />
<circle cx="74.5" cy="462" r="1.85" stroke="#000" stroke-width="0.4" fill="#000" />
<circle cx="84.5" cy="440" r="1.85" stroke="#000" stroke-width="0.4" fill="#000" />
<circle cx="94.5" cy="423.8" r="1.85" stroke="#000" stroke-width="0.4" fill="#000" />
<circle cx="104.5" cy="404.5" r="1.85" stroke="#000" stroke-width="0.4" fill="#000" />
<circle cx="114.5" cy="399.5" r="1.85" stroke="#000" stroke-width="0.4" fill="#000" />
<circle cx="124.5" cy="401.3" r="1.85" stroke="#000" stroke-width="0.4" fill="#000" />
<line x1="37.5" y1="369.5" x2="48.3" y2="369.5" stroke="#111" stroke-width="0.75" />
<circle cx="43" cy="369.5" r="1.6" stroke="#000" stroke-width="0.4" fill="#000" />
<text x="51.1" y="371.8" font-size="6.6" fill="#111" stroke="#111" stroke-width="0.15" >Binding: 7.95 (7.75&#8211;8.15) M</text>
<line x1="37.5" y1="379.3" x2="48.3" y2="379.3" stroke="#111" stroke-width="0.75" />
<circle cx="43" cy="379.3" r="1.6" stroke="#111" stroke-width="0.75" fill="#fff" />
<line x1="41.4" y1="379.3" x2="44.6" y2="379.3" stroke="#111" stroke-width="0.5" />
<text x="51.1" y="381.6" font-size="6.6" fill="#111" stroke="#111" stroke-width="0.15" >Release: 7.98 (7.87&#8211;8.08) M</text>
<line x1="178.25" y1="385.95" x2="178.25" y2="486.55" stroke="#5e5e5e" stroke-width="0.8" />
<line x1="175.65" y1="478.75" x2="178.25" y2="478.75" stroke="#707070" stroke-width="0.75" />
<text x="172.65" y="481.05" font-size="6.5" fill="#111" stroke="#111" stroke-width="0.15" text-anchor="end" >0</text>
<line x1="175.65" y1="463.33" x2="178.25" y2="463.33" stroke="#707070" stroke-width="0.75" />
<text x="172.65" y="465.63" font-size="6.5" fill="#111" stroke="#111" stroke-width="0.15" text-anchor="end" >20</text>
<line x1="175.65" y1="447.92" x2="178.25" y2="447.92" stroke="#707070" stroke-width="0.75" />
<text x="172.65" y="450.22" font-size="6.5" fill="#111" stroke="#111" stroke-width="0.15" text-anchor="end" >40</text>
<line x1="175.65" y1="432.5" x2="178.25" y2="432.5" stroke="#707070" stroke-width="0.75" />
<text x="172.65" y="434.8" font-size="6.5" fill="#111" stroke="#111" stroke-width="0.15" text-anchor="end" >60</text>
<line x1="175.65" y1="417.09" x2="178.25" y2="417.09" stroke="#707070" stroke-width="0.75" />
<text x="172.65" y="419.39" font-size="6.5" fill="#111" stroke="#111" stroke-width="0.15" text-anchor="end" >80</text>
<line x1="175.65" y1="401.67" x2="178.25" y2="401.67" stroke="#707070" stroke-width="0.75" />
<text x="172.65" y="403.97" font-size="6.5" fill="#111" stroke="#111" stroke-width="0.15" text-anchor="end" >100</text>
<line x1="175.65" y1="386.25" x2="178.25" y2="386.25" stroke="#707070" stroke-width="0.75" />
<text x="172.65" y="388.55" font-size="6.5" fill="#111" stroke="#111" stroke-width="0.15" text-anchor="end" >120</text>
<line x1="178.25" y1="486.25" x2="278" y2="486.25" stroke="#111" stroke-width="0.75" />
<line x1="178.37" y1="486.25" x2="178.37" y2="488.15" stroke="#222" stroke-width="0.5" />
<line x1="180.43" y1="486.25" x2="180.43" y2="488.15" stroke="#222" stroke-width="0.5" />
<line x1="182.03" y1="486.25" x2="182.03" y2="488.15" stroke="#222" stroke-width="0.5" />
<line x1="183.34" y1="486.25" x2="183.34" y2="488.15" stroke="#222" stroke-width="0.5" />
<line x1="184.44" y1="486.25" x2="184.44" y2="488.15" stroke="#222" stroke-width="0.5" />
<line x1="185.4" y1="486.25" x2="185.4" y2="488.15" stroke="#222" stroke-width="0.5" />
<line x1="186.25" y1="486.25" x2="186.25" y2="488.15" stroke="#222" stroke-width="0.5" />
<line x1="187" y1="486.25" x2="187" y2="488.85" stroke="#111" stroke-width="0.7" />
<line x1="191.97" y1="486.25" x2="191.97" y2="488.15" stroke="#222" stroke-width="0.5" />
<line x1="194.87" y1="486.25" x2="194.87" y2="488.15" stroke="#222" stroke-width="0.5" />
<line x1="196.93" y1="486.25" x2="196.93" y2="488.15" stroke="#222" stroke-width="0.5" />
<line x1="198.53" y1="486.25" x2="198.53" y2="488.15" stroke="#222" stroke-width="0.5" />
<line x1="199.84" y1="486.25" x2="199.84" y2="488.15" stroke="#222" stroke-width="0.5" />
<line x1="200.94" y1="486.25" x2="200.94" y2="488.15" stroke="#222" stroke-width="0.5" />
<line x1="201.9" y1="486.25" x2="201.9" y2="488.15" stroke="#222" stroke-width="0.5" />
<line x1="202.75" y1="486.25" x2="202.75" y2="488.15" stroke="#222" stroke-width="0.5" />
<line x1="203.5" y1="486.25" x2="203.5" y2="488.85" stroke="#111" stroke-width="0.7" />
<line x1="208.47" y1="486.25" x2="208.47" y2="488.15" stroke="#222" stroke-width="0.5" />
<line x1="211.37" y1="486.25" x2="211.37" y2="488.15" stroke="#222" stroke-width="0.5" />
<line x1="213.43" y1="486.25" x2="213.43" y2="488.15" stroke="#222" stroke-width="0.5" />
<line x1="215.03" y1="486.25" x2="215.03" y2="488.15" stroke="#222" stroke-width="0.5" />
<line x1="216.34" y1="486.25" x2="216.34" y2="488.15" stroke="#222" stroke-width="0.5" />
<line x1="217.44" y1="486.25" x2="217.44" y2="488.15" stroke="#222" stroke-width="0.5" />
<line x1="218.4" y1="486.25" x2="218.4" y2="488.15" stroke="#222" stroke-width="0.5" />
<line x1="219.25" y1="486.25" x2="219.25" y2="488.15" stroke="#222" stroke-width="0.5" />
<line x1="220" y1="486.25" x2="220" y2="488.85" stroke="#111" stroke-width="0.7" />
<line x1="224.97" y1="486.25" x2="224.97" y2="488.15" stroke="#222" stroke-width="0.5" />
<line x1="227.87" y1="486.25" x2="227.87" y2="488.15" stroke="#222" stroke-width="0.5" />
<line x1="229.93" y1="486.25" x2="229.93" y2="488.15" stroke="#222" stroke-width="0.5" />
<line x1="231.53" y1="486.25" x2="231.53" y2="488.15" stroke="#222" stroke-width="0.5" />
<line x1="232.84" y1="486.25" x2="232.84" y2="488.15" stroke="#222" stroke-width="0.5" />
<line x1="233.94" y1="486.25" x2="233.94" y2="488.15" stroke="#222" stroke-width="0.5" />
<line x1="234.9" y1="486.25" x2="234.9" y2="488.15" stroke="#222" stroke-width="0.5" />
<line x1="235.75" y1="486.25" x2="235.75" y2="488.15" stroke="#222" stroke-width="0.5" />
<line x1="236.5" y1="486.25" x2="236.5" y2="488.85" stroke="#111" stroke-width="0.7" />
<line x1="241.47" y1="486.25" x2="241.47" y2="488.15" stroke="#222" stroke-width="0.5" />
<line x1="244.37" y1="486.25" x2="244.37" y2="488.15" stroke="#222" stroke-width="0.5" />
<line x1="246.43" y1="486.25" x2="246.43" y2="488.15" stroke="#222" stroke-width="0.5" />
<line x1="248.03" y1="486.25" x2="248.03" y2="488.15" stroke="#222" stroke-width="0.5" />
<line x1="249.34" y1="486.25" x2="249.34" y2="488.15" stroke="#222" stroke-width="0.5" />
<line x1="250.44" y1="486.25" x2="250.44" y2="488.15" stroke="#222" stroke-width="0.5" />
<line x1="251.4" y1="486.25" x2="251.4" y2="488.15" stroke="#222" stroke-width="0.5" />
<line x1="252.25" y1="486.25" x2="252.25" y2="488.15" stroke="#222" stroke-width="0.5" />
<line x1="253" y1="486.25" x2="253" y2="488.85" stroke="#111" stroke-width="0.7" />
<line x1="257.97" y1="486.25" x2="257.97" y2="488.15" stroke="#222" stroke-width="0.5" />
<line x1="260.87" y1="486.25" x2="260.87" y2="488.15" stroke="#222" stroke-width="0.5" />
<line x1="262.93" y1="486.25" x2="262.93" y2="488.15" stroke="#222" stroke-width="0.5" />
<line x1="264.53" y1="486.25" x2="264.53" y2="488.15" stroke="#222" stroke-width="0.5" />
<line x1="265.84" y1="486.25" x2="265.84" y2="488.15" stroke="#222" stroke-width="0.5" />
<line x1="266.94" y1="486.25" x2="266.94" y2="488.15" stroke="#222" stroke-width="0.5" />
<line x1="267.9" y1="486.25" x2="267.9" y2="488.15" stroke="#222" stroke-width="0.5" />
<line x1="268.75" y1="486.25" x2="268.75" y2="488.15" stroke="#222" stroke-width="0.5" />
<line x1="269.5" y1="486.25" x2="269.5" y2="488.85" stroke="#111" stroke-width="0.7" />
<line x1="274.47" y1="486.25" x2="274.47" y2="488.15" stroke="#222" stroke-width="0.5" />
<line x1="277.37" y1="486.25" x2="277.37" y2="488.15" stroke="#222" stroke-width="0.5" />
<text x="187.1" y="498.45" font-size="6.5" fill="#111" stroke="#111" stroke-width="0.15" text-anchor="middle" >&#8211;11</text>
<text x="203.6" y="498.45" font-size="6.5" fill="#111" stroke="#111" stroke-width="0.15" text-anchor="middle" >&#8211;10</text>
<text x="220.1" y="498.45" font-size="6.5" fill="#111" stroke="#111" stroke-width="0.15" text-anchor="middle" >&#8211;9</text>
<text x="236.6" y="498.45" font-size="6.5" fill="#111" stroke="#111" stroke-width="0.15" text-anchor="middle" >&#8211;8</text>
<text x="253.1" y="498.45" font-size="6.5" fill="#111" stroke="#111" stroke-width="0.15" text-anchor="middle" >&#8211;7</text>
<text x="269.6" y="498.45" font-size="6.5" fill="#111" stroke="#111" stroke-width="0.15" text-anchor="middle" >&#8211;6</text>
<line x1="179.05" y1="478.75" x2="278" y2="478.75" stroke="#000" stroke-width="0.95" stroke-dasharray="0.95,0.95"/>
<text x="228.4" y="508.85" font-size="6.6" fill="#111" stroke="#111" stroke-width="0.15" text-anchor="middle" >log[dynorphin A 1-17 (M)]</text>
<text transform="translate(157.4,435.5) rotate(-90)" font-size="6.5" fill="#111" stroke="#111" stroke-width="0.15" text-anchor="middle"><tspan font-size="4.5" dy="-2.2">35</tspan><tspan dy="2.2">S-GTP&#947;S (% MPE)</tspan></text>
<rect x="256.3" y="463.3" width="21.2" height="13.7" rx="0" stroke="#222" stroke-width="0.7" fill="#fff" />
<text x="266.9" y="472.55" font-size="6.7" fill="#111" stroke="#111" stroke-width="0.15" text-anchor="middle" >KOR</text>
<path d="M177.92,478.66 L179.09,478.64 L180.26,478.63 L181.43,478.6 L182.6,478.58 L183.77,478.55 L184.94,478.51 L186.11,478.47 L187.28,478.42 L188.45,478.36 L189.62,478.29 L190.79,478.21 L191.96,478.12 L193.13,478 L194.3,477.87 L195.47,477.72 L196.64,477.54 L197.81,477.33 L198.98,477.08 L200.15,476.8 L201.32,476.46 L202.49,476.07 L203.66,475.61 L204.83,475.08 L206,474.46 L207.17,473.75 L208.34,472.93 L209.5,471.99 L210.67,470.91 L211.84,469.69 L213.01,468.29 L214.18,466.73 L215.35,464.97 L216.52,463.02 L217.69,460.87 L218.86,458.52 L220.03,455.98 L221.2,453.26 L222.37,450.38 L223.54,447.37 L224.71,444.26 L225.88,441.1 L227.05,437.91 L228.22,434.75 L229.39,431.66 L230.56,428.66 L231.73,425.8 L232.9,423.1 L234.07,420.58 L235.24,418.26 L236.41,416.13 L237.58,414.21 L238.75,412.48 L239.91,410.93 L241.08,409.56 L242.25,408.35 L243.42,407.29 L244.59,406.36 L245.76,405.56 L246.93,404.86 L248.1,404.25 L249.27,403.73 L250.44,403.29 L251.61,402.9 L252.78,402.57 L253.95,402.29 L255.12,402.05 L256.29,401.84 L257.46,401.66 L258.63,401.51 L259.8,401.38 L260.97,401.28 L262.14,401.18 L263.31,401.1 L264.48,401.04 L265.65,400.98 L266.82,400.93 L267.99,400.89 L269.16,400.85 L270.32,400.82" stroke="#111" stroke-width="0.75" fill="none" />
<path d="M177.92,478.54 L179.09,478.51 L180.26,478.46 L181.43,478.41 L182.6,478.35 L183.77,478.28 L184.94,478.2 L186.11,478.1 L187.28,477.99 L188.45,477.86 L189.62,477.7 L190.79,477.52 L191.96,477.3 L193.13,477.05 L194.3,476.76 L195.47,476.42 L196.64,476.02 L197.81,475.55 L198.98,475.01 L200.15,474.39 L201.32,473.66 L202.49,472.83 L203.66,471.87 L204.83,470.77 L206,469.53 L207.17,468.11 L208.34,466.52 L209.5,464.74 L210.67,462.77 L211.84,460.59 L213.01,458.22 L214.18,455.65 L215.35,452.91 L216.52,450.02 L217.69,446.99 L218.86,443.87 L220.03,440.7 L221.2,437.51 L222.37,434.35 L223.54,431.26 L224.71,428.27 L225.88,425.43 L227.05,422.74 L228.22,420.24 L229.39,417.94 L230.56,415.83 L231.73,413.93 L232.9,412.21 L234.07,410.69 L235.24,409.33 L236.41,408.14 L237.58,407.09 L238.75,406.18 L239.91,405.38 L241.08,404.7 L242.25,404.1 L243.42,403.59 L244.59,403.15 L245.76,402.77 L246.93,402.44 L248.1,402.17 L249.27,401.93 L250.44,401.72 L251.61,401.55 L252.78,401.4 L253.95,401.28 L255.12,401.17 L256.29,401.08 L257.46,401 L258.63,400.93 L259.8,400.88 L260.97,400.83 L262.14,400.79 L263.31,400.75 L264.48,400.73 L265.65,400.7 L266.82,400.68 L267.99,400.66 L269.16,400.65 L270.32,400.63" stroke="#222" stroke-width="0.55" fill="none" stroke-dasharray="1.6,0.7"/>
<line x1="187" y1="478.5" x2="187" y2="479.5" stroke="#111" stroke-width="0.6" />
<line x1="185.3" y1="478.5" x2="188.7" y2="478.5" stroke="#111" stroke-width="0.6" />
<line x1="185.3" y1="479.5" x2="188.7" y2="479.5" stroke="#111" stroke-width="0.6" />
<line x1="195.25" y1="482.2" x2="195.25" y2="483.8" stroke="#111" stroke-width="0.6" />
<line x1="193.55" y1="482.2" x2="196.95" y2="482.2" stroke="#111" stroke-width="0.6" />
<line x1="193.55" y1="483.8" x2="196.95" y2="483.8" stroke="#111" stroke-width="0.6" />
<line x1="203.5" y1="481.8" x2="203.5" y2="484.2" stroke="#111" stroke-width="0.6" />
<line x1="201.8" y1="481.8" x2="205.2" y2="481.8" stroke="#111" stroke-width="0.6" />
<line x1="201.8" y1="484.2" x2="205.2" y2="484.2" stroke="#111" stroke-width="0.6" />
<line x1="211.75" y1="471.3" x2="211.75" y2="473.7" stroke="#111" stroke-width="0.6" />
<line x1="210.05" y1="471.3" x2="213.45" y2="471.3" stroke="#111" stroke-width="0.6" />
<line x1="210.05" y1="473.7" x2="213.45" y2="473.7" stroke="#111" stroke-width="0.6" />
<line x1="220" y1="432.5" x2="220" y2="434.5" stroke="#111" stroke-width="0.6" />
<line x1="218.3" y1="432.5" x2="221.7" y2="432.5" stroke="#111" stroke-width="0.6" />
<line x1="218.3" y1="434.5" x2="221.7" y2="434.5" stroke="#111" stroke-width="0.6" />
<line x1="228.25" y1="412.3" x2="228.25" y2="414.3" stroke="#111" stroke-width="0.6" />
<line x1="226.55" y1="412.3" x2="229.95" y2="412.3" stroke="#111" stroke-width="0.6" />
<line x1="226.55" y1="414.3" x2="229.95" y2="414.3" stroke="#111" stroke-width="0.6" />
<line x1="236.5" y1="406.2" x2="236.5" y2="407.8" stroke="#111" stroke-width="0.6" />
<line x1="234.8" y1="406.2" x2="238.2" y2="406.2" stroke="#111" stroke-width="0.6" />
<line x1="234.8" y1="407.8" x2="238.2" y2="407.8" stroke="#111" stroke-width="0.6" />
<line x1="244.75" y1="403.2" x2="244.75" y2="404.8" stroke="#111" stroke-width="0.6" />
<line x1="243.05" y1="403.2" x2="246.45" y2="403.2" stroke="#111" stroke-width="0.6" />
<line x1="243.05" y1="404.8" x2="246.45" y2="404.8" stroke="#111" stroke-width="0.6" />
<line x1="253" y1="404.4" x2="253" y2="405.6" stroke="#111" stroke-width="0.6" />
<line x1="251.3" y1="404.4" x2="254.7" y2="404.4" stroke="#111" stroke-width="0.6" />
<line x1="251.3" y1="405.6" x2="254.7" y2="405.6" stroke="#111" stroke-width="0.6" />
<line x1="261.25" y1="400.7" x2="261.25" y2="401.9" stroke="#111" stroke-width="0.6" />
<line x1="259.55" y1="400.7" x2="262.95" y2="400.7" stroke="#111" stroke-width="0.6" />
<line x1="259.55" y1="401.9" x2="262.95" y2="401.9" stroke="#111" stroke-width="0.6" />
<line x1="269.5" y1="400.9" x2="269.5" y2="402.1" stroke="#111" stroke-width="0.6" />
<line x1="267.8" y1="400.9" x2="271.2" y2="400.9" stroke="#111" stroke-width="0.6" />
<line x1="267.8" y1="402.1" x2="271.2" y2="402.1" stroke="#111" stroke-width="0.6" />
<rect x="185.5" y="477.5" width="3" height="3" rx="0" stroke="#111" stroke-width="0.6" fill="#fff" />
<line x1="185.5" y1="479" x2="188.5" y2="479" stroke="#111" stroke-width="0.45" />
<rect x="193.75" y="481.5" width="3" height="3" rx="0" stroke="#111" stroke-width="0.6" fill="#fff" />
<line x1="193.75" y1="483" x2="196.75" y2="483" stroke="#111" stroke-width="0.45" />
<rect x="202" y="481.5" width="3" height="3" rx="0" stroke="#111" stroke-width="0.6" fill="#fff" />
<line x1="202" y1="483" x2="205" y2="483" stroke="#111" stroke-width="0.45" />
<rect x="210.25" y="471" width="3" height="3" rx="0" stroke="#111" stroke-width="0.6" fill="#fff" />
<line x1="210.25" y1="472.5" x2="213.25" y2="472.5" stroke="#111" stroke-width="0.45" />
<rect x="218.5" y="432" width="3" height="3" rx="0" stroke="#111" stroke-width="0.6" fill="#fff" />
<line x1="218.5" y1="433.5" x2="221.5" y2="433.5" stroke="#111" stroke-width="0.45" />
<rect x="226.75" y="411.8" width="3" height="3" rx="0" stroke="#111" stroke-width="0.6" fill="#fff" />
<line x1="226.75" y1="413.3" x2="229.75" y2="413.3" stroke="#111" stroke-width="0.45" />
<rect x="235" y="405.5" width="3" height="3" rx="0" stroke="#111" stroke-width="0.6" fill="#fff" />
<line x1="235" y1="407" x2="238" y2="407" stroke="#111" stroke-width="0.45" />
<rect x="243.25" y="402.5" width="3" height="3" rx="0" stroke="#111" stroke-width="0.6" fill="#fff" />
<line x1="243.25" y1="404" x2="246.25" y2="404" stroke="#111" stroke-width="0.45" />
<rect x="251.5" y="403.5" width="3" height="3" rx="0" stroke="#111" stroke-width="0.6" fill="#fff" />
<line x1="251.5" y1="405" x2="254.5" y2="405" stroke="#111" stroke-width="0.45" />
<rect x="259.75" y="399.8" width="3" height="3" rx="0" stroke="#111" stroke-width="0.6" fill="#fff" />
<line x1="259.75" y1="401.3" x2="262.75" y2="401.3" stroke="#111" stroke-width="0.45" />
<rect x="268" y="400" width="3" height="3" rx="0" stroke="#111" stroke-width="0.6" fill="#fff" />
<line x1="268" y1="401.5" x2="271" y2="401.5" stroke="#111" stroke-width="0.45" />
<line x1="187" y1="479" x2="187" y2="480" stroke="#111" stroke-width="0.6" />
<line x1="185.3" y1="479" x2="188.7" y2="479" stroke="#111" stroke-width="0.6" />
<line x1="185.3" y1="480" x2="188.7" y2="480" stroke="#111" stroke-width="0.6" />
<line x1="195.25" y1="477.8" x2="195.25" y2="478.8" stroke="#111" stroke-width="0.6" />
<line x1="193.55" y1="477.8" x2="196.95" y2="477.8" stroke="#111" stroke-width="0.6" />
<line x1="193.55" y1="478.8" x2="196.95" y2="478.8" stroke="#111" stroke-width="0.6" />
<line x1="203.5" y1="477.5" x2="203.5" y2="481.5" stroke="#111" stroke-width="0.6" />
<line x1="201.8" y1="477.5" x2="205.2" y2="477.5" stroke="#111" stroke-width="0.6" />
<line x1="201.8" y1="481.5" x2="205.2" y2="481.5" stroke="#111" stroke-width="0.6" />
<line x1="211.75" y1="472.5" x2="211.75" y2="478.5" stroke="#111" stroke-width="0.6" />
<line x1="210.05" y1="472.5" x2="213.45" y2="472.5" stroke="#111" stroke-width="0.6" />
<line x1="210.05" y1="478.5" x2="213.45" y2="478.5" stroke="#111" stroke-width="0.6" />
<line x1="220" y1="454.5" x2="220" y2="456.5" stroke="#111" stroke-width="0.6" />
<line x1="218.3" y1="454.5" x2="221.7" y2="454.5" stroke="#111" stroke-width="0.6" />
<line x1="218.3" y1="456.5" x2="221.7" y2="456.5" stroke="#111" stroke-width="0.6" />
<line x1="228.25" y1="432.5" x2="228.25" y2="434.5" stroke="#111" stroke-width="0.6" />
<line x1="226.55" y1="432.5" x2="229.95" y2="432.5" stroke="#111" stroke-width="0.6" />
<line x1="226.55" y1="434.5" x2="229.95" y2="434.5" stroke="#111" stroke-width="0.6" />
<line x1="236.5" y1="412.3" x2="236.5" y2="414.3" stroke="#111" stroke-width="0.6" />
<line x1="234.8" y1="412.3" x2="238.2" y2="412.3" stroke="#111" stroke-width="0.6" />
<line x1="234.8" y1="414.3" x2="238.2" y2="414.3" stroke="#111" stroke-width="0.6" />
<line x1="244.75" y1="406.7" x2="244.75" y2="408.3" stroke="#111" stroke-width="0.6" />
<line x1="243.05" y1="406.7" x2="246.45" y2="406.7" stroke="#111" stroke-width="0.6" />
<line x1="243.05" y1="408.3" x2="246.45" y2="408.3" stroke="#111" stroke-width="0.6" />
<line x1="253" y1="401.9" x2="253" y2="403.1" stroke="#111" stroke-width="0.6" />
<line x1="251.3" y1="401.9" x2="254.7" y2="401.9" stroke="#111" stroke-width="0.6" />
<line x1="251.3" y1="403.1" x2="254.7" y2="403.1" stroke="#111" stroke-width="0.6" />
<line x1="261.25" y1="400.7" x2="261.25" y2="401.9" stroke="#111" stroke-width="0.6" />
<line x1="259.55" y1="400.7" x2="262.95" y2="400.7" stroke="#111" stroke-width="0.6" />
<line x1="259.55" y1="401.9" x2="262.95" y2="401.9" stroke="#111" stroke-width="0.6" />
<line x1="269.5" y1="401.2" x2="269.5" y2="402.4" stroke="#111" stroke-width="0.6" />
<line x1="267.8" y1="401.2" x2="271.2" y2="401.2" stroke="#111" stroke-width="0.6" />
<line x1="267.8" y1="402.4" x2="271.2" y2="402.4" stroke="#111" stroke-width="0.6" />
<rect x="185.4" y="477.9" width="3.2" height="3.2" rx="0" stroke="#000" stroke-width="0.3" fill="#000" />
<rect x="193.65" y="476.7" width="3.2" height="3.2" rx="0" stroke="#000" stroke-width="0.3" fill="#000" />
<rect x="201.9" y="477.9" width="3.2" height="3.2" rx="0" stroke="#000" stroke-width="0.3" fill="#000" />
<rect x="210.15" y="473.9" width="3.2" height="3.2" rx="0" stroke="#000" stroke-width="0.3" fill="#000" />
<rect x="218.4" y="453.9" width="3.2" height="3.2" rx="0" stroke="#000" stroke-width="0.3" fill="#000" />
<rect x="226.65" y="431.9" width="3.2" height="3.2" rx="0" stroke="#000" stroke-width="0.3" fill="#000" />
<rect x="234.9" y="411.7" width="3.2" height="3.2" rx="0" stroke="#000" stroke-width="0.3" fill="#000" />
<rect x="243.15" y="405.9" width="3.2" height="3.2" rx="0" stroke="#000" stroke-width="0.3" fill="#000" />
<rect x="251.4" y="400.9" width="3.2" height="3.2" rx="0" stroke="#000" stroke-width="0.3" fill="#000" />
<rect x="259.65" y="399.7" width="3.2" height="3.2" rx="0" stroke="#000" stroke-width="0.3" fill="#000" />
<rect x="267.9" y="400.2" width="3.2" height="3.2" rx="0" stroke="#000" stroke-width="0.3" fill="#000" />
<line x1="180" y1="370" x2="190.8" y2="370" stroke="#111" stroke-width="0.75" />
<circle cx="185.5" cy="370" r="1.6" stroke="#000" stroke-width="0.4" fill="#000" />
<text x="193.6" y="372.3" font-size="6.6" fill="#111" stroke="#111" stroke-width="0.15" >Binding: 8.61 (8.55&#8211;8.67) M</text>
<line x1="180" y1="379.5" x2="190.8" y2="379.5" stroke="#111" stroke-width="0.75" />
<circle cx="185.5" cy="379.5" r="1.6" stroke="#111" stroke-width="0.75" fill="#fff" />
<line x1="183.9" y1="379.5" x2="187.1" y2="379.5" stroke="#111" stroke-width="0.5" />
<text x="193.6" y="381.8" font-size="6.6" fill="#111" stroke="#111" stroke-width="0.15" >Release: 8.97 (8.86&#8211;9.08) M</text>
<line x1="320" y1="385.95" x2="320" y2="486.55" stroke="#5e5e5e" stroke-width="0.8" />
<line x1="317.4" y1="478.75" x2="320" y2="478.75" stroke="#707070" stroke-width="0.75" />
<text x="314.4" y="481.05" font-size="6.5" fill="#111" stroke="#111" stroke-width="0.15" text-anchor="end" >0</text>
<line x1="317.4" y1="463.33" x2="320" y2="463.33" stroke="#707070" stroke-width="0.75" />
<text x="314.4" y="465.63" font-size="6.5" fill="#111" stroke="#111" stroke-width="0.15" text-anchor="end" >20</text>
<line x1="317.4" y1="447.92" x2="320" y2="447.92" stroke="#707070" stroke-width="0.75" />
<text x="314.4" y="450.22" font-size="6.5" fill="#111" stroke="#111" stroke-width="0.15" text-anchor="end" >40</text>
<line x1="317.4" y1="432.5" x2="320" y2="432.5" stroke="#707070" stroke-width="0.75" />
<text x="314.4" y="434.8" font-size="6.5" fill="#111" stroke="#111" stroke-width="0.15" text-anchor="end" >60</text>
<line x1="317.4" y1="417.09" x2="320" y2="417.09" stroke="#707070" stroke-width="0.75" />
<text x="314.4" y="419.39" font-size="6.5" fill="#111" stroke="#111" stroke-width="0.15" text-anchor="end" >80</text>
<line x1="317.4" y1="401.67" x2="320" y2="401.67" stroke="#707070" stroke-width="0.75" />
<text x="314.4" y="403.97" font-size="6.5" fill="#111" stroke="#111" stroke-width="0.15" text-anchor="end" >100</text>
<line x1="317.4" y1="386.25" x2="320" y2="386.25" stroke="#707070" stroke-width="0.75" />
<text x="314.4" y="388.55" font-size="6.5" fill="#111" stroke="#111" stroke-width="0.15" text-anchor="end" >120</text>
<line x1="320" y1="486.25" x2="421" y2="486.25" stroke="#111" stroke-width="0.75" />
<line x1="321.37" y1="486.25" x2="321.37" y2="488.15" stroke="#222" stroke-width="0.5" />
<line x1="323.43" y1="486.25" x2="323.43" y2="488.15" stroke="#222" stroke-width="0.5" />
<line x1="325.03" y1="486.25" x2="325.03" y2="488.15" stroke="#222" stroke-width="0.5" />
<line x1="326.34" y1="486.25" x2="326.34" y2="488.15" stroke="#222" stroke-width="0.5" />
<line x1="327.44" y1="486.25" x2="327.44" y2="488.15" stroke="#222" stroke-width="0.5" />
<line x1="328.4" y1="486.25" x2="328.4" y2="488.15" stroke="#222" stroke-width="0.5" />
<line x1="329.25" y1="486.25" x2="329.25" y2="488.15" stroke="#222" stroke-width="0.5" />
<line x1="330" y1="486.25" x2="330" y2="488.85" stroke="#111" stroke-width="0.7" />
<line x1="334.97" y1="486.25" x2="334.97" y2="488.15" stroke="#222" stroke-width="0.5" />
<line x1="337.87" y1="486.25" x2="337.87" y2="488.15" stroke="#222" stroke-width="0.5" />
<line x1="339.93" y1="486.25" x2="339.93" y2="488.15" stroke="#222" stroke-width="0.5" />
<line x1="341.53" y1="486.25" x2="341.53" y2="488.15" stroke="#222" stroke-width="0.5" />
<line x1="342.84" y1="486.25" x2="342.84" y2="488.15" stroke="#222" stroke-width="0.5" />
<line x1="343.94" y1="486.25" x2="343.94" y2="488.15" stroke="#222" stroke-width="0.5" />
<line x1="344.9" y1="486.25" x2="344.9" y2="488.15" stroke="#222" stroke-width="0.5" />
<line x1="345.75" y1="486.25" x2="345.75" y2="488.15" stroke="#222" stroke-width="0.5" />
<line x1="346.5" y1="486.25" x2="346.5" y2="488.85" stroke="#111" stroke-width="0.7" />
<line x1="351.47" y1="486.25" x2="351.47" y2="488.15" stroke="#222" stroke-width="0.5" />
<line x1="354.37" y1="486.25" x2="354.37" y2="488.15" stroke="#222" stroke-width="0.5" />
<line x1="356.43" y1="486.25" x2="356.43" y2="488.15" stroke="#222" stroke-width="0.5" />
<line x1="358.03" y1="486.25" x2="358.03" y2="488.15" stroke="#222" stroke-width="0.5" />
<line x1="359.34" y1="486.25" x2="359.34" y2="488.15" stroke="#222" stroke-width="0.5" />
<line x1="360.44" y1="486.25" x2="360.44" y2="488.15" stroke="#222" stroke-width="0.5" />
<line x1="361.4" y1="486.25" x2="361.4" y2="488.15" stroke="#222" stroke-width="0.5" />
<line x1="362.25" y1="486.25" x2="362.25" y2="488.15" stroke="#222" stroke-width="0.5" />
<line x1="363" y1="486.25" x2="363" y2="488.85" stroke="#111" stroke-width="0.7" />
<line x1="367.97" y1="486.25" x2="367.97" y2="488.15" stroke="#222" stroke-width="0.5" />
<line x1="370.87" y1="486.25" x2="370.87" y2="488.15" stroke="#222" stroke-width="0.5" />
<line x1="372.93" y1="486.25" x2="372.93" y2="488.15" stroke="#222" stroke-width="0.5" />
<line x1="374.53" y1="486.25" x2="374.53" y2="488.15" stroke="#222" stroke-width="0.5" />
<line x1="375.84" y1="486.25" x2="375.84" y2="488.15" stroke="#222" stroke-width="0.5" />
<line x1="376.94" y1="486.25" x2="376.94" y2="488.15" stroke="#222" stroke-width="0.5" />
<line x1="377.9" y1="486.25" x2="377.9" y2="488.15" stroke="#222" stroke-width="0.5" />
<line x1="378.75" y1="486.25" x2="378.75" y2="488.15" stroke="#222" stroke-width="0.5" />
<line x1="379.5" y1="486.25" x2="379.5" y2="488.85" stroke="#111" stroke-width="0.7" />
<line x1="384.47" y1="486.25" x2="384.47" y2="488.15" stroke="#222" stroke-width="0.5" />
<line x1="387.37" y1="486.25" x2="387.37" y2="488.15" stroke="#222" stroke-width="0.5" />
<line x1="389.43" y1="486.25" x2="389.43" y2="488.15" stroke="#222" stroke-width="0.5" />
<line x1="391.03" y1="486.25" x2="391.03" y2="488.15" stroke="#222" stroke-width="0.5" />
<line x1="392.34" y1="486.25" x2="392.34" y2="488.15" stroke="#222" stroke-width="0.5" />
<line x1="393.44" y1="486.25" x2="393.44" y2="488.15" stroke="#222" stroke-width="0.5" />
<line x1="394.4" y1="486.25" x2="394.4" y2="488.15" stroke="#222" stroke-width="0.5" />
<line x1="395.25" y1="486.25" x2="395.25" y2="488.15" stroke="#222" stroke-width="0.5" />
<line x1="396" y1="486.25" x2="396" y2="488.85" stroke="#111" stroke-width="0.7" />
<line x1="400.97" y1="486.25" x2="400.97" y2="488.15" stroke="#222" stroke-width="0.5" />
<line x1="403.87" y1="486.25" x2="403.87" y2="488.15" stroke="#222" stroke-width="0.5" />
<line x1="405.93" y1="486.25" x2="405.93" y2="488.15" stroke="#222" stroke-width="0.5" />
<line x1="407.53" y1="486.25" x2="407.53" y2="488.15" stroke="#222" stroke-width="0.5" />
<line x1="408.84" y1="486.25" x2="408.84" y2="488.15" stroke="#222" stroke-width="0.5" />
<line x1="409.94" y1="486.25" x2="409.94" y2="488.15" stroke="#222" stroke-width="0.5" />
<line x1="410.9" y1="486.25" x2="410.9" y2="488.15" stroke="#222" stroke-width="0.5" />
<line x1="411.75" y1="486.25" x2="411.75" y2="488.15" stroke="#222" stroke-width="0.5" />
<line x1="412.5" y1="486.25" x2="412.5" y2="488.85" stroke="#111" stroke-width="0.7" />
<line x1="417.47" y1="486.25" x2="417.47" y2="488.15" stroke="#222" stroke-width="0.5" />
<line x1="420.37" y1="486.25" x2="420.37" y2="488.15" stroke="#222" stroke-width="0.5" />
<text x="330.1" y="498.45" font-size="6.5" fill="#111" stroke="#111" stroke-width="0.15" text-anchor="middle" >&#8211;10</text>
<text x="346.6" y="498.45" font-size="6.5" fill="#111" stroke="#111" stroke-width="0.15" text-anchor="middle" >&#8211;9</text>
<text x="363.1" y="498.45" font-size="6.5" fill="#111" stroke="#111" stroke-width="0.15" text-anchor="middle" >&#8211;8</text>
<text x="379.6" y="498.45" font-size="6.5" fill="#111" stroke="#111" stroke-width="0.15" text-anchor="middle" >&#8211;7</text>
<text x="396.1" y="498.45" font-size="6.5" fill="#111" stroke="#111" stroke-width="0.15" text-anchor="middle" >&#8211;6</text>
<text x="412.6" y="498.45" font-size="6.5" fill="#111" stroke="#111" stroke-width="0.15" text-anchor="middle" >&#8211;5</text>
<line x1="320.8" y1="478.75" x2="421" y2="478.75" stroke="#000" stroke-width="0.95" stroke-dasharray="0.95,0.95"/>
<text x="370.5" y="508.85" font-size="6.6" fill="#111" stroke="#111" stroke-width="0.15" text-anchor="middle" >log[5-HT (M)]</text>
<text transform="translate(299.6,435.5) rotate(-90)" font-size="6.5" fill="#111" stroke="#111" stroke-width="0.15" text-anchor="middle"><tspan font-size="4.5" dy="-2.2">35</tspan><tspan dy="2.2">S-GTP&#947;S (% MPE)</tspan></text>
<rect x="385.5" y="461.3" width="37.5" height="14.2" rx="0" stroke="#222" stroke-width="0.7" fill="#fff" />
<text x="404.25" y="470.8" font-size="6.7" fill="#111" stroke="#111" stroke-width="0.15" text-anchor="middle" >5-HT<tspan font-size="4.3" dy="1.4">1A</tspan><tspan dy="-1.4">R</tspan></text>
<path d="M335.77,477.81 L336.65,477.79 L337.53,477.76 L338.41,477.73 L339.28,477.69 L340.16,477.65 L341.04,477.6 L341.92,477.55 L342.79,477.49 L343.67,477.42 L344.55,477.34 L345.42,477.25 L346.3,477.15 L347.18,477.03 L348.06,476.9 L348.93,476.76 L349.81,476.59 L350.69,476.4 L351.56,476.19 L352.44,475.95 L353.32,475.68 L354.2,475.38 L355.07,475.04 L355.95,474.65 L356.83,474.22 L357.71,473.73 L358.58,473.18 L359.46,472.57 L360.34,471.89 L361.21,471.13 L362.09,470.29 L362.97,469.35 L363.85,468.32 L364.72,467.18 L365.6,465.93 L366.48,464.57 L367.35,463.08 L368.23,461.47 L369.11,459.73 L369.99,457.87 L370.86,455.89 L371.74,453.79 L372.62,451.58 L373.5,449.27 L374.37,446.88 L375.25,444.42 L376.13,441.9 L377,439.36 L377.88,436.8 L378.76,434.25 L379.64,431.72 L380.51,429.25 L381.39,426.84 L382.27,424.51 L383.14,422.28 L384.02,420.16 L384.9,418.15 L385.78,416.26 L386.65,414.5 L387.53,412.86 L388.41,411.35 L389.29,409.96 L390.16,408.69 L391.04,407.52 L391.92,406.47 L392.79,405.51 L393.67,404.65 L394.55,403.87 L395.43,403.18 L396.3,402.55 L397.18,401.99 L398.06,401.49 L398.93,401.05 L399.81,400.65 L400.69,400.3 L401.57,399.99 L402.44,399.71 L403.32,399.47 L404.2,399.25 L405.07,399.06" stroke="#111" stroke-width="0.75" fill="none" />
<path d="M335.77,476.06 L336.65,475.86 L337.53,475.63 L338.41,475.39 L339.28,475.12 L340.16,474.82 L341.04,474.49 L341.92,474.13 L342.79,473.74 L343.67,473.31 L344.55,472.84 L345.42,472.32 L346.3,471.76 L347.18,471.15 L348.06,470.48 L348.93,469.75 L349.81,468.97 L350.69,468.12 L351.56,467.2 L352.44,466.21 L353.32,465.15 L354.2,464.01 L355.07,462.79 L355.95,461.5 L356.83,460.12 L357.71,458.67 L358.58,457.14 L359.46,455.53 L360.34,453.84 L361.21,452.09 L362.09,450.28 L362.97,448.41 L363.85,446.48 L364.72,444.52 L365.6,442.53 L366.48,440.51 L367.35,438.48 L368.23,436.45 L369.11,434.43 L369.99,432.43 L370.86,430.46 L371.74,428.52 L372.62,426.64 L373.5,424.8 L374.37,423.03 L375.25,421.33 L376.13,419.7 L377,418.15 L377.88,416.67 L378.76,415.27 L379.64,413.96 L380.51,412.72 L381.39,411.56 L382.27,410.47 L383.14,409.46 L384.02,408.53 L384.9,407.66 L385.78,406.85 L386.65,406.11 L387.53,405.43 L388.41,404.8 L389.29,404.23 L390.16,403.7 L391.04,403.21 L391.92,402.77 L392.79,402.37 L393.67,402 L394.55,401.67 L395.43,401.36 L396.3,401.08 L397.18,400.83 L398.06,400.6 L398.93,400.39 L399.81,400.2 L400.69,400.03 L401.57,399.87 L402.44,399.73 L403.32,399.61 L404.2,399.49 L405.07,399.38" stroke="#222" stroke-width="0.55" fill="none" stroke-dasharray="1.6,0.7"/>
<line x1="338.25" y1="477" x2="338.25" y2="479" stroke="#111" stroke-width="0.6" />
<line x1="336.55" y1="477" x2="339.95" y2="477" stroke="#111" stroke-width="0.6" />
<line x1="336.55" y1="479" x2="339.95" y2="479" stroke="#111" stroke-width="0.6" />
<line x1="346.5" y1="472.3" x2="346.5" y2="475.3" stroke="#111" stroke-width="0.6" />
<line x1="344.8" y1="472.3" x2="348.2" y2="472.3" stroke="#111" stroke-width="0.6" />
<line x1="344.8" y1="475.3" x2="348.2" y2="475.3" stroke="#111" stroke-width="0.6" />
<line x1="354.75" y1="459.5" x2="354.75" y2="461.5" stroke="#111" stroke-width="0.6" />
<line x1="353.05" y1="459.5" x2="356.45" y2="459.5" stroke="#111" stroke-width="0.6" />
<line x1="353.05" y1="461.5" x2="356.45" y2="461.5" stroke="#111" stroke-width="0.6" />
<line x1="363" y1="444" x2="363" y2="451" stroke="#111" stroke-width="0.6" />
<line x1="361.3" y1="444" x2="364.7" y2="444" stroke="#111" stroke-width="0.6" />
<line x1="361.3" y1="451" x2="364.7" y2="451" stroke="#111" stroke-width="0.6" />
<line x1="371.25" y1="429.3" x2="371.25" y2="433.3" stroke="#111" stroke-width="0.6" />
<line x1="369.55" y1="429.3" x2="372.95" y2="429.3" stroke="#111" stroke-width="0.6" />
<line x1="369.55" y1="433.3" x2="372.95" y2="433.3" stroke="#111" stroke-width="0.6" />
<line x1="379.5" y1="413.3" x2="379.5" y2="417.3" stroke="#111" stroke-width="0.6" />
<line x1="377.8" y1="413.3" x2="381.2" y2="413.3" stroke="#111" stroke-width="0.6" />
<line x1="377.8" y1="417.3" x2="381.2" y2="417.3" stroke="#111" stroke-width="0.6" />
<line x1="387.75" y1="401" x2="387.75" y2="404" stroke="#111" stroke-width="0.6" />
<line x1="386.05" y1="401" x2="389.45" y2="401" stroke="#111" stroke-width="0.6" />
<line x1="386.05" y1="404" x2="389.45" y2="404" stroke="#111" stroke-width="0.6" />
<line x1="396" y1="399.5" x2="396" y2="401.5" stroke="#111" stroke-width="0.6" />
<line x1="394.3" y1="399.5" x2="397.7" y2="399.5" stroke="#111" stroke-width="0.6" />
<line x1="394.3" y1="401.5" x2="397.7" y2="401.5" stroke="#111" stroke-width="0.6" />
<line x1="404.25" y1="400.3" x2="404.25" y2="402.3" stroke="#111" stroke-width="0.6" />
<line x1="402.55" y1="400.3" x2="405.95" y2="400.3" stroke="#111" stroke-width="0.6" />
<line x1="402.55" y1="402.3" x2="405.95" y2="402.3" stroke="#111" stroke-width="0.6" />
<circle cx="338.25" cy="478" r="1.85" stroke="#111" stroke-width="0.75" fill="#fff" />
<line x1="336.4" y1="478" x2="340.1" y2="478" stroke="#111" stroke-width="0.5" />
<circle cx="346.5" cy="473.8" r="1.85" stroke="#111" stroke-width="0.75" fill="#fff" />
<line x1="344.65" y1="473.8" x2="348.35" y2="473.8" stroke="#111" stroke-width="0.5" />
<circle cx="354.75" cy="460.5" r="1.85" stroke="#111" stroke-width="0.75" fill="#fff" />
<line x1="352.9" y1="460.5" x2="356.6" y2="460.5" stroke="#111" stroke-width="0.5" />
<circle cx="363" cy="447.5" r="1.85" stroke="#111" stroke-width="0.75" fill="#fff" />
<line x1="361.15" y1="447.5" x2="364.85" y2="447.5" stroke="#111" stroke-width="0.5" />
<circle cx="371.25" cy="431.3" r="1.85" stroke="#111" stroke-width="0.75" fill="#fff" />
<line x1="369.4" y1="431.3" x2="373.1" y2="431.3" stroke="#111" stroke-width="0.5" />
<circle cx="379.5" cy="415.3" r="1.85" stroke="#111" stroke-width="0.75" fill="#fff" />
<line x1="377.65" y1="415.3" x2="381.35" y2="415.3" stroke="#111" stroke-width="0.5" />
<circle cx="387.75" cy="402.5" r="1.85" stroke="#111" stroke-width="0.75" fill="#fff" />
<line x1="385.9" y1="402.5" x2="389.6" y2="402.5" stroke="#111" stroke-width="0.5" />
<circle cx="396" cy="400.5" r="1.85" stroke="#111" stroke-width="0.75" fill="#fff" />
<line x1="394.15" y1="400.5" x2="397.85" y2="400.5" stroke="#111" stroke-width="0.5" />
<circle cx="404.25" cy="401.3" r="1.85" stroke="#111" stroke-width="0.75" fill="#fff" />
<line x1="402.4" y1="401.3" x2="406.1" y2="401.3" stroke="#111" stroke-width="0.5" />
<line x1="338.25" y1="476" x2="338.25" y2="478" stroke="#111" stroke-width="0.6" />
<line x1="336.55" y1="476" x2="339.95" y2="476" stroke="#111" stroke-width="0.6" />
<line x1="336.55" y1="478" x2="339.95" y2="478" stroke="#111" stroke-width="0.6" />
<line x1="346.5" y1="475.3" x2="346.5" y2="477.3" stroke="#111" stroke-width="0.6" />
<line x1="344.8" y1="475.3" x2="348.2" y2="475.3" stroke="#111" stroke-width="0.6" />
<line x1="344.8" y1="477.3" x2="348.2" y2="477.3" stroke="#111" stroke-width="0.6" />
<line x1="354.75" y1="472.8" x2="354.75" y2="474.8" stroke="#111" stroke-width="0.6" />
<line x1="353.05" y1="472.8" x2="356.45" y2="472.8" stroke="#111" stroke-width="0.6" />
<line x1="353.05" y1="474.8" x2="356.45" y2="474.8" stroke="#111" stroke-width="0.6" />
<line x1="363" y1="465.8" x2="363" y2="470.8" stroke="#111" stroke-width="0.6" />
<line x1="361.3" y1="465.8" x2="364.7" y2="465.8" stroke="#111" stroke-width="0.6" />
<line x1="361.3" y1="470.8" x2="364.7" y2="470.8" stroke="#111" stroke-width="0.6" />
<line x1="371.25" y1="452.5" x2="371.25" y2="458.5" stroke="#111" stroke-width="0.6" />
<line x1="369.55" y1="452.5" x2="372.95" y2="452.5" stroke="#111" stroke-width="0.6" />
<line x1="369.55" y1="458.5" x2="372.95" y2="458.5" stroke="#111" stroke-width="0.6" />
<line x1="379.5" y1="430" x2="379.5" y2="436" stroke="#111" stroke-width="0.6" />
<line x1="377.8" y1="430" x2="381.2" y2="430" stroke="#111" stroke-width="0.6" />
<line x1="377.8" y1="436" x2="381.2" y2="436" stroke="#111" stroke-width="0.6" />
<line x1="387.75" y1="410" x2="387.75" y2="415" stroke="#111" stroke-width="0.6" />
<line x1="386.05" y1="410" x2="389.45" y2="410" stroke="#111" stroke-width="0.6" />
<line x1="386.05" y1="415" x2="389.45" y2="415" stroke="#111" stroke-width="0.6" />
<line x1="396" y1="396.8" x2="396" y2="400.8" stroke="#111" stroke-width="0.6" />
<line x1="394.3" y1="396.8" x2="397.7" y2="396.8" stroke="#111" stroke-width="0.6" />
<line x1="394.3" y1="400.8" x2="397.7" y2="400.8" stroke="#111" stroke-width="0.6" />
<line x1="404.25" y1="401" x2="404.25" y2="404" stroke="#111" stroke-width="0.6" />
<line x1="402.55" y1="401" x2="405.95" y2="401" stroke="#111" stroke-width="0.6" />
<line x1="402.55" y1="404" x2="405.95" y2="404" stroke="#111" stroke-width="0.6" />
<circle cx="338.25" cy="477" r="1.85" stroke="#000" stroke-width="0.4" fill="#000" />
<circle cx="346.5" cy="476.3" r="1.85" stroke="#000" stroke-width="0.4" fill="#000" />
<circle cx="354.75" cy="473.8" r="1.85" stroke="#000" stroke-width="0.4" fill="#000" />
<circle cx="363" cy="468.3" r="1.85" stroke="#000" stroke-width="0.4" fill="#000" />
<circle cx="371.25" cy="455.5" r="1.85" stroke="#000" stroke-width="0.4" fill="#000" />
<circle cx="379.5" cy="433" r="1.85" stroke="#000" stroke-width="0.4" fill="#000" />
<circle cx="387.75" cy="412.5" r="1.85" stroke="#000" stroke-width="0.4" fill="#000" />
<circle cx="396" cy="398.8" r="1.85" stroke="#000" stroke-width="0.4" fill="#000" />
<circle cx="404.25" cy="402.5" r="1.85" stroke="#000" stroke-width="0.4" fill="#000" />
<line x1="322.5" y1="370" x2="333.3" y2="370" stroke="#111" stroke-width="0.75" />
<circle cx="328" cy="370" r="1.6" stroke="#000" stroke-width="0.4" fill="#000" />
<text x="336.1" y="372.3" font-size="6.6" fill="#111" stroke="#111" stroke-width="0.15" >Binding: 7.11 (7.00&#8211;7.22) M</text>
<line x1="322.5" y1="379.3" x2="333.3" y2="379.3" stroke="#111" stroke-width="0.75" />
<circle cx="328" cy="379.3" r="1.6" stroke="#111" stroke-width="0.75" fill="#fff" />
<line x1="326.4" y1="379.3" x2="329.6" y2="379.3" stroke="#111" stroke-width="0.5" />
<text x="336.1" y="381.6" font-size="6.6" fill="#111" stroke="#111" stroke-width="0.15" >Release: 7.73 (7.60&#8211;7.86) M</text>
<line x1="33.75" y1="554.2" x2="33.75" y2="654.55" stroke="#5e5e5e" stroke-width="0.8" />
<line x1="31.15" y1="647.25" x2="33.75" y2="647.25" stroke="#707070" stroke-width="0.75" />
<text x="28.15" y="649.55" font-size="6.5" fill="#111" stroke="#111" stroke-width="0.15" text-anchor="end" >0</text>
<line x1="31.15" y1="631.79" x2="33.75" y2="631.79" stroke="#707070" stroke-width="0.75" />
<text x="28.15" y="634.09" font-size="6.5" fill="#111" stroke="#111" stroke-width="0.15" text-anchor="end" >20</text>
<line x1="31.15" y1="616.33" x2="33.75" y2="616.33" stroke="#707070" stroke-width="0.75" />
<text x="28.15" y="618.63" font-size="6.5" fill="#111" stroke="#111" stroke-width="0.15" text-anchor="end" >40</text>
<line x1="31.15" y1="600.88" x2="33.75" y2="600.88" stroke="#707070" stroke-width="0.75" />
<text x="28.15" y="603.18" font-size="6.5" fill="#111" stroke="#111" stroke-width="0.15" text-anchor="end" >60</text>
<line x1="31.15" y1="585.42" x2="33.75" y2="585.42" stroke="#707070" stroke-width="0.75" />
<text x="28.15" y="587.72" font-size="6.5" fill="#111" stroke="#111" stroke-width="0.15" text-anchor="end" >80</text>
<line x1="31.15" y1="569.96" x2="33.75" y2="569.96" stroke="#707070" stroke-width="0.75" />
<text x="28.15" y="572.26" font-size="6.5" fill="#111" stroke="#111" stroke-width="0.15" text-anchor="end" >100</text>
<line x1="31.15" y1="554.5" x2="33.75" y2="554.5" stroke="#707070" stroke-width="0.75" />
<text x="28.15" y="556.8" font-size="6.5" fill="#111" stroke="#111" stroke-width="0.15" text-anchor="end" >120</text>
<line x1="33.75" y1="654.25" x2="134.5" y2="654.25" stroke="#111" stroke-width="0.75" />
<line x1="34.87" y1="654.25" x2="34.87" y2="656.15" stroke="#222" stroke-width="0.5" />
<line x1="36.93" y1="654.25" x2="36.93" y2="656.15" stroke="#222" stroke-width="0.5" />
<line x1="38.53" y1="654.25" x2="38.53" y2="656.15" stroke="#222" stroke-width="0.5" />
<line x1="39.84" y1="654.25" x2="39.84" y2="656.15" stroke="#222" stroke-width="0.5" />
<line x1="40.94" y1="654.25" x2="40.94" y2="656.15" stroke="#222" stroke-width="0.5" />
<line x1="41.9" y1="654.25" x2="41.9" y2="656.15" stroke="#222" stroke-width="0.5" />
<line x1="42.75" y1="654.25" x2="42.75" y2="656.15" stroke="#222" stroke-width="0.5" />
<line x1="43.5" y1="654.25" x2="43.5" y2="656.85" stroke="#111" stroke-width="0.7" />
<line x1="48.47" y1="654.25" x2="48.47" y2="656.15" stroke="#222" stroke-width="0.5" />
<line x1="51.37" y1="654.25" x2="51.37" y2="656.15" stroke="#222" stroke-width="0.5" />
<line x1="53.43" y1="654.25" x2="53.43" y2="656.15" stroke="#222" stroke-width="0.5" />
<line x1="55.03" y1="654.25" x2="55.03" y2="656.15" stroke="#222" stroke-width="0.5" />
<line x1="56.34" y1="654.25" x2="56.34" y2="656.15" stroke="#222" stroke-width="0.5" />
<line x1="57.44" y1="654.25" x2="57.44" y2="656.15" stroke="#222" stroke-width="0.5" />
<line x1="58.4" y1="654.25" x2="58.4" y2="656.15" stroke="#222" stroke-width="0.5" />
<line x1="59.25" y1="654.25" x2="59.25" y2="656.15" stroke="#222" stroke-width="0.5" />
<line x1="60" y1="654.25" x2="60" y2="656.85" stroke="#111" stroke-width="0.7" />
<line x1="64.97" y1="654.25" x2="64.97" y2="656.15" stroke="#222" stroke-width="0.5" />
<line x1="67.87" y1="654.25" x2="67.87" y2="656.15" stroke="#222" stroke-width="0.5" />
<line x1="69.93" y1="654.25" x2="69.93" y2="656.15" stroke="#222" stroke-width="0.5" />
<line x1="71.53" y1="654.25" x2="71.53" y2="656.15" stroke="#222" stroke-width="0.5" />
<line x1="72.84" y1="654.25" x2="72.84" y2="656.15" stroke="#222" stroke-width="0.5" />
<line x1="73.94" y1="654.25" x2="73.94" y2="656.15" stroke="#222" stroke-width="0.5" />
<line x1="74.9" y1="654.25" x2="74.9" y2="656.15" stroke="#222" stroke-width="0.5" />
<line x1="75.75" y1="654.25" x2="75.75" y2="656.15" stroke="#222" stroke-width="0.5" />
<line x1="76.5" y1="654.25" x2="76.5" y2="656.85" stroke="#111" stroke-width="0.7" />
<line x1="81.47" y1="654.25" x2="81.47" y2="656.15" stroke="#222" stroke-width="0.5" />
<line x1="84.37" y1="654.25" x2="84.37" y2="656.15" stroke="#222" stroke-width="0.5" />
<line x1="86.43" y1="654.25" x2="86.43" y2="656.15" stroke="#222" stroke-width="0.5" />
<line x1="88.03" y1="654.25" x2="88.03" y2="656.15" stroke="#222" stroke-width="0.5" />
<line x1="89.34" y1="654.25" x2="89.34" y2="656.15" stroke="#222" stroke-width="0.5" />
<line x1="90.44" y1="654.25" x2="90.44" y2="656.15" stroke="#222" stroke-width="0.5" />
<line x1="91.4" y1="654.25" x2="91.4" y2="656.15" stroke="#222" stroke-width="0.5" />
<line x1="92.25" y1="654.25" x2="92.25" y2="656.15" stroke="#222" stroke-width="0.5" />
<line x1="93" y1="654.25" x2="93" y2="656.85" stroke="#111" stroke-width="0.7" />
<line x1="97.97" y1="654.25" x2="97.97" y2="656.15" stroke="#222" stroke-width="0.5" />
<line x1="100.87" y1="654.25" x2="100.87" y2="656.15" stroke="#222" stroke-width="0.5" />
<line x1="102.93" y1="654.25" x2="102.93" y2="656.15" stroke="#222" stroke-width="0.5" />
<line x1="104.53" y1="654.25" x2="104.53" y2="656.15" stroke="#222" stroke-width="0.5" />
<line x1="105.84" y1="654.25" x2="105.84" y2="656.15" stroke="#222" stroke-width="0.5" />
<line x1="106.94" y1="654.25" x2="106.94" y2="656.15" stroke="#222" stroke-width="0.5" />
<line x1="107.9" y1="654.25" x2="107.9" y2="656.15" stroke="#222" stroke-width="0.5" />
<line x1="108.75" y1="654.25" x2="108.75" y2="656.15" stroke="#222" stroke-width="0.5" />
<line x1="109.5" y1="654.25" x2="109.5" y2="656.85" stroke="#111" stroke-width="0.7" />
<line x1="114.47" y1="654.25" x2="114.47" y2="656.15" stroke="#222" stroke-width="0.5" />
<line x1="117.37" y1="654.25" x2="117.37" y2="656.15" stroke="#222" stroke-width="0.5" />
<line x1="119.43" y1="654.25" x2="119.43" y2="656.15" stroke="#222" stroke-width="0.5" />
<line x1="121.03" y1="654.25" x2="121.03" y2="656.15" stroke="#222" stroke-width="0.5" />
<line x1="122.34" y1="654.25" x2="122.34" y2="656.15" stroke="#222" stroke-width="0.5" />
<line x1="123.44" y1="654.25" x2="123.44" y2="656.15" stroke="#222" stroke-width="0.5" />
<line x1="124.4" y1="654.25" x2="124.4" y2="656.15" stroke="#222" stroke-width="0.5" />
<line x1="125.25" y1="654.25" x2="125.25" y2="656.15" stroke="#222" stroke-width="0.5" />
<line x1="126" y1="654.25" x2="126" y2="656.85" stroke="#111" stroke-width="0.7" />
<line x1="130.97" y1="654.25" x2="130.97" y2="656.15" stroke="#222" stroke-width="0.5" />
<line x1="133.87" y1="654.25" x2="133.87" y2="656.15" stroke="#222" stroke-width="0.5" />
<text x="43.6" y="666.45" font-size="6.5" fill="#111" stroke="#111" stroke-width="0.15" text-anchor="middle" >&#8211;9</text>
<text x="60.1" y="666.45" font-size="6.5" fill="#111" stroke="#111" stroke-width="0.15" text-anchor="middle" >&#8211;8</text>
<text x="76.6" y="666.45" font-size="6.5" fill="#111" stroke="#111" stroke-width="0.15" text-anchor="middle" >&#8211;7</text>
<text x="93.1" y="666.45" font-size="6.5" fill="#111" stroke="#111" stroke-width="0.15" text-anchor="middle" >&#8211;6</text>
<text x="109.6" y="666.45" font-size="6.5" fill="#111" stroke="#111" stroke-width="0.15" text-anchor="middle" >&#8211;5</text>
<text x="126.1" y="666.45" font-size="6.5" fill="#111" stroke="#111" stroke-width="0.15" text-anchor="middle" >&#8211;4</text>
<line x1="34.55" y1="647.25" x2="134.5" y2="647.25" stroke="#000" stroke-width="0.95" stroke-dasharray="0.95,0.95"/>
<text x="84.4" y="676.85" font-size="6.6" fill="#111" stroke="#111" stroke-width="0.15" text-anchor="middle" >log[carbachol (M)]</text>
<text transform="translate(12.4,604) rotate(-90)" font-size="6.5" fill="#111" stroke="#111" stroke-width="0.15" text-anchor="middle"><tspan font-size="4.5" dy="-2.2">35</tspan><tspan dy="2.2">S-GTP&#947;S (% MPE)</tspan></text>
<rect x="106.3" y="630" width="20.7" height="13.5" rx="0" stroke="#222" stroke-width="0.7" fill="#fff" />
<text x="116.65" y="639.15" font-size="6.7" fill="#111" stroke="#111" stroke-width="0.15" text-anchor="middle" >M<tspan font-size="4.3" dy="1.4">2</tspan><tspan dy="-1.4">R</tspan></text>
<path d="M33.6,645.46 L34.78,645.45 L35.96,645.44 L37.14,645.44 L38.32,645.43 L39.5,645.42 L40.68,645.4 L41.86,645.39 L43.04,645.37 L44.22,645.35 L45.4,645.33 L46.58,645.3 L47.76,645.27 L48.94,645.24 L50.12,645.2 L51.3,645.15 L52.48,645.1 L53.66,645.04 L54.84,644.97 L56.02,644.9 L57.2,644.8 L58.38,644.7 L59.56,644.58 L60.74,644.44 L61.92,644.29 L63.1,644.11 L64.28,643.9 L65.46,643.66 L66.64,643.39 L67.82,643.08 L69,642.73 L70.18,642.33 L71.36,641.87 L72.54,641.35 L73.72,640.76 L74.9,640.09 L76.08,639.33 L77.26,638.48 L78.44,637.53 L79.62,636.46 L80.8,635.26 L81.98,633.93 L83.16,632.46 L84.34,630.85 L85.52,629.08 L86.7,627.15 L87.88,625.08 L89.06,622.85 L90.24,620.47 L91.42,617.97 L92.6,615.35 L93.78,612.63 L94.96,609.83 L96.14,606.99 L97.32,604.12 L98.5,601.26 L99.68,598.43 L100.86,595.67 L102.04,592.99 L103.22,590.41 L104.4,587.96 L105.58,585.65 L106.76,583.49 L107.94,581.47 L109.12,579.62 L110.3,577.91 L111.48,576.36 L112.66,574.95 L113.84,573.68 L115.02,572.54 L116.2,571.52 L117.38,570.61 L118.56,569.8 L119.74,569.08 L120.92,568.45 L122.1,567.89 L123.28,567.4 L124.46,566.96 L125.64,566.58 L126.83,566.25" stroke="#111" stroke-width="0.75" fill="none" />
<path d="M33.6,645.46 L34.78,645.46 L35.96,645.45 L37.14,645.44 L38.32,645.44 L39.5,645.43 L40.68,645.41 L41.86,645.4 L43.04,645.39 L44.22,645.37 L45.4,645.35 L46.58,645.32 L47.76,645.3 L48.94,645.27 L50.12,645.23 L51.3,645.19 L52.48,645.14 L53.66,645.09 L54.84,645.02 L56.02,644.95 L57.2,644.87 L58.38,644.77 L59.56,644.66 L60.74,644.53 L61.92,644.39 L63.1,644.22 L64.28,644.03 L65.46,643.81 L66.64,643.55 L67.82,643.26 L69,642.93 L70.18,642.55 L71.36,642.12 L72.54,641.62 L73.72,641.06 L74.9,640.42 L76.08,639.7 L77.26,638.89 L78.44,637.98 L79.62,636.95 L80.8,635.81 L81.98,634.54 L83.16,633.13 L84.34,631.58 L85.52,629.88 L86.7,628.04 L87.88,626.05 L89.06,623.91 L90.24,621.65 L91.42,619.26 L92.6,616.77 L93.78,614.19 L94.96,611.55 L96.14,608.87 L97.32,606.18 L98.5,603.51 L99.68,600.89 L100.86,598.33 L102.04,595.86 L103.22,593.51 L104.4,591.27 L105.58,589.18 L106.76,587.23 L107.94,585.43 L109.12,583.77 L110.3,582.26 L111.48,580.89 L112.66,579.65 L113.84,578.54 L115.02,577.54 L116.2,576.66 L117.38,575.87 L118.56,575.17 L119.74,574.56 L120.92,574.02 L122.1,573.54 L123.28,573.12 L124.46,572.76 L125.64,572.43 L126.83,572.15" stroke="#222" stroke-width="0.55" fill="none" stroke-dasharray="1.6,0.7"/>
<line x1="51.75" y1="644.5" x2="51.75" y2="646.5" stroke="#111" stroke-width="0.6" />
<line x1="50.05" y1="644.5" x2="53.45" y2="644.5" stroke="#111" stroke-width="0.6" />
<line x1="50.05" y1="646.5" x2="53.45" y2="646.5" stroke="#111" stroke-width="0.6" />
<line x1="60" y1="645.8" x2="60" y2="647.8" stroke="#111" stroke-width="0.6" />
<line x1="58.3" y1="645.8" x2="61.7" y2="645.8" stroke="#111" stroke-width="0.6" />
<line x1="58.3" y1="647.8" x2="61.7" y2="647.8" stroke="#111" stroke-width="0.6" />
<line x1="68.25" y1="644.5" x2="68.25" y2="646.5" stroke="#111" stroke-width="0.6" />
<line x1="66.55" y1="644.5" x2="69.95" y2="644.5" stroke="#111" stroke-width="0.6" />
<line x1="66.55" y1="646.5" x2="69.95" y2="646.5" stroke="#111" stroke-width="0.6" />
<line x1="76.5" y1="635.5" x2="76.5" y2="639.5" stroke="#111" stroke-width="0.6" />
<line x1="74.8" y1="635.5" x2="78.2" y2="635.5" stroke="#111" stroke-width="0.6" />
<line x1="74.8" y1="639.5" x2="78.2" y2="639.5" stroke="#111" stroke-width="0.6" />
<line x1="84.75" y1="630.5" x2="84.75" y2="634.5" stroke="#111" stroke-width="0.6" />
<line x1="83.05" y1="630.5" x2="86.45" y2="630.5" stroke="#111" stroke-width="0.6" />
<line x1="83.05" y1="634.5" x2="86.45" y2="634.5" stroke="#111" stroke-width="0.6" />
<line x1="93" y1="612.5" x2="93" y2="616.5" stroke="#111" stroke-width="0.6" />
<line x1="91.3" y1="612.5" x2="94.7" y2="612.5" stroke="#111" stroke-width="0.6" />
<line x1="91.3" y1="616.5" x2="94.7" y2="616.5" stroke="#111" stroke-width="0.6" />
<line x1="101.25" y1="596" x2="101.25" y2="600" stroke="#111" stroke-width="0.6" />
<line x1="99.55" y1="596" x2="102.95" y2="596" stroke="#111" stroke-width="0.6" />
<line x1="99.55" y1="600" x2="102.95" y2="600" stroke="#111" stroke-width="0.6" />
<line x1="109.5" y1="580" x2="109.5" y2="585" stroke="#111" stroke-width="0.6" />
<line x1="107.8" y1="580" x2="111.2" y2="580" stroke="#111" stroke-width="0.6" />
<line x1="107.8" y1="585" x2="111.2" y2="585" stroke="#111" stroke-width="0.6" />
<line x1="117.75" y1="575.8" x2="117.75" y2="581.8" stroke="#111" stroke-width="0.6" />
<line x1="116.05" y1="575.8" x2="119.45" y2="575.8" stroke="#111" stroke-width="0.6" />
<line x1="116.05" y1="581.8" x2="119.45" y2="581.8" stroke="#111" stroke-width="0.6" />
<line x1="126" y1="568" x2="126" y2="572" stroke="#111" stroke-width="0.6" />
<line x1="124.3" y1="568" x2="127.7" y2="568" stroke="#111" stroke-width="0.6" />
<line x1="124.3" y1="572" x2="127.7" y2="572" stroke="#111" stroke-width="0.6" />
<circle cx="51.75" cy="645.5" r="1.85" stroke="#111" stroke-width="0.75" fill="#fff" />
<line x1="49.9" y1="645.5" x2="53.6" y2="645.5" stroke="#111" stroke-width="0.5" />
<circle cx="60" cy="646.8" r="1.85" stroke="#111" stroke-width="0.75" fill="#fff" />
<line x1="58.15" y1="646.8" x2="61.85" y2="646.8" stroke="#111" stroke-width="0.5" />
<circle cx="68.25" cy="645.5" r="1.85" stroke="#111" stroke-width="0.75" fill="#fff" />
<line x1="66.4" y1="645.5" x2="70.1" y2="645.5" stroke="#111" stroke-width="0.5" />
<circle cx="76.5" cy="637.5" r="1.85" stroke="#111" stroke-width="0.75" fill="#fff" />
<line x1="74.65" y1="637.5" x2="78.35" y2="637.5" stroke="#111" stroke-width="0.5" />
<circle cx="84.75" cy="632.5" r="1.85" stroke="#111" stroke-width="0.75" fill="#fff" />
<line x1="82.9" y1="632.5" x2="86.6" y2="632.5" stroke="#111" stroke-width="0.5" />
<circle cx="93" cy="614.5" r="1.85" stroke="#111" stroke-width="0.75" fill="#fff" />
<line x1="91.15" y1="614.5" x2="94.85" y2="614.5" stroke="#111" stroke-width="0.5" />
<circle cx="101.25" cy="598" r="1.85" stroke="#111" stroke-width="0.75" fill="#fff" />
<line x1="99.4" y1="598" x2="103.1" y2="598" stroke="#111" stroke-width="0.5" />
<circle cx="109.5" cy="582.5" r="1.85" stroke="#111" stroke-width="0.75" fill="#fff" />
<line x1="107.65" y1="582.5" x2="111.35" y2="582.5" stroke="#111" stroke-width="0.5" />
<circle cx="117.75" cy="578.8" r="1.85" stroke="#111" stroke-width="0.75" fill="#fff" />
<line x1="115.9" y1="578.8" x2="119.6" y2="578.8" stroke="#111" stroke-width="0.5" />
<circle cx="126" cy="570" r="1.85" stroke="#111" stroke-width="0.75" fill="#fff" />
<line x1="124.15" y1="570" x2="127.85" y2="570" stroke="#111" stroke-width="0.5" />
<line x1="51.75" y1="644" x2="51.75" y2="646" stroke="#111" stroke-width="0.6" />
<line x1="50.05" y1="644" x2="53.45" y2="644" stroke="#111" stroke-width="0.6" />
<line x1="50.05" y1="646" x2="53.45" y2="646" stroke="#111" stroke-width="0.6" />
<line x1="60" y1="642.5" x2="60" y2="644.5" stroke="#111" stroke-width="0.6" />
<line x1="58.3" y1="642.5" x2="61.7" y2="642.5" stroke="#111" stroke-width="0.6" />
<line x1="58.3" y1="644.5" x2="61.7" y2="644.5" stroke="#111" stroke-width="0.6" />
<line x1="68.25" y1="642.8" x2="68.25" y2="645.8" stroke="#111" stroke-width="0.6" />
<line x1="66.55" y1="642.8" x2="69.95" y2="642.8" stroke="#111" stroke-width="0.6" />
<line x1="66.55" y1="645.8" x2="69.95" y2="645.8" stroke="#111" stroke-width="0.6" />
<line x1="76.5" y1="635.8" x2="76.5" y2="641.8" stroke="#111" stroke-width="0.6" />
<line x1="74.8" y1="635.8" x2="78.2" y2="635.8" stroke="#111" stroke-width="0.6" />
<line x1="74.8" y1="641.8" x2="78.2" y2="641.8" stroke="#111" stroke-width="0.6" />
<line x1="84.75" y1="628.5" x2="84.75" y2="633.5" stroke="#111" stroke-width="0.6" />
<line x1="83.05" y1="628.5" x2="86.45" y2="628.5" stroke="#111" stroke-width="0.6" />
<line x1="83.05" y1="633.5" x2="86.45" y2="633.5" stroke="#111" stroke-width="0.6" />
<line x1="93" y1="611" x2="93" y2="617" stroke="#111" stroke-width="0.6" />
<line x1="91.3" y1="611" x2="94.7" y2="611" stroke="#111" stroke-width="0.6" />
<line x1="91.3" y1="617" x2="94.7" y2="617" stroke="#111" stroke-width="0.6" />
<line x1="101.25" y1="591.8" x2="101.25" y2="596.8" stroke="#111" stroke-width="0.6" />
<line x1="99.55" y1="591.8" x2="102.95" y2="591.8" stroke="#111" stroke-width="0.6" />
<line x1="99.55" y1="596.8" x2="102.95" y2="596.8" stroke="#111" stroke-width="0.6" />
<line x1="109.5" y1="575.8" x2="109.5" y2="581.8" stroke="#111" stroke-width="0.6" />
<line x1="107.8" y1="575.8" x2="111.2" y2="575.8" stroke="#111" stroke-width="0.6" />
<line x1="107.8" y1="581.8" x2="111.2" y2="581.8" stroke="#111" stroke-width="0.6" />
<line x1="117.75" y1="570" x2="117.75" y2="576" stroke="#111" stroke-width="0.6" />
<line x1="116.05" y1="570" x2="119.45" y2="570" stroke="#111" stroke-width="0.6" />
<line x1="116.05" y1="576" x2="119.45" y2="576" stroke="#111" stroke-width="0.6" />
<line x1="126" y1="559.5" x2="126" y2="569.5" stroke="#111" stroke-width="0.6" />
<line x1="124.3" y1="559.5" x2="127.7" y2="559.5" stroke="#111" stroke-width="0.6" />
<line x1="124.3" y1="569.5" x2="127.7" y2="569.5" stroke="#111" stroke-width="0.6" />
<circle cx="51.75" cy="645" r="1.85" stroke="#000" stroke-width="0.4" fill="#000" />
<circle cx="60" cy="643.5" r="1.85" stroke="#000" stroke-width="0.4" fill="#000" />
<circle cx="68.25" cy="644.3" r="1.85" stroke="#000" stroke-width="0.4" fill="#000" />
<circle cx="76.5" cy="638.8" r="1.85" stroke="#000" stroke-width="0.4" fill="#000" />
<circle cx="84.75" cy="631" r="1.85" stroke="#000" stroke-width="0.4" fill="#000" />
<circle cx="93" cy="614" r="1.85" stroke="#000" stroke-width="0.4" fill="#000" />
<circle cx="101.25" cy="594.3" r="1.85" stroke="#000" stroke-width="0.4" fill="#000" />
<circle cx="109.5" cy="578.8" r="1.85" stroke="#000" stroke-width="0.4" fill="#000" />
<circle cx="117.75" cy="573" r="1.85" stroke="#000" stroke-width="0.4" fill="#000" />
<circle cx="126" cy="564.5" r="1.85" stroke="#000" stroke-width="0.4" fill="#000" />
<line x1="37.5" y1="536.3" x2="48.3" y2="536.3" stroke="#111" stroke-width="0.75" />
<circle cx="43" cy="536.3" r="1.6" stroke="#000" stroke-width="0.4" fill="#000" />
<text x="51.1" y="538.6" font-size="6.6" fill="#111" stroke="#111" stroke-width="0.15" >Binding: 5.78 (5.66&#8211;5.90) M</text>
<line x1="37.5" y1="546.3" x2="48.3" y2="546.3" stroke="#111" stroke-width="0.75" />
<circle cx="43" cy="546.3" r="1.6" stroke="#111" stroke-width="0.75" fill="#fff" />
<line x1="41.4" y1="546.3" x2="44.6" y2="546.3" stroke="#111" stroke-width="0.5" />
<text x="51.1" y="548.6" font-size="6.6" fill="#111" stroke="#111" stroke-width="0.15" >Release: 5.86 (5.72&#8211;5.99) M</text>
<line x1="178" y1="554.2" x2="178" y2="654.55" stroke="#5e5e5e" stroke-width="0.8" />
<line x1="175.4" y1="647.25" x2="178" y2="647.25" stroke="#707070" stroke-width="0.75" />
<text x="172.4" y="649.55" font-size="6.5" fill="#111" stroke="#111" stroke-width="0.15" text-anchor="end" >0</text>
<line x1="175.4" y1="631.79" x2="178" y2="631.79" stroke="#707070" stroke-width="0.75" />
<text x="172.4" y="634.09" font-size="6.5" fill="#111" stroke="#111" stroke-width="0.15" text-anchor="end" >20</text>
<line x1="175.4" y1="616.33" x2="178" y2="616.33" stroke="#707070" stroke-width="0.75" />
<text x="172.4" y="618.63" font-size="6.5" fill="#111" stroke="#111" stroke-width="0.15" text-anchor="end" >40</text>
<line x1="175.4" y1="600.88" x2="178" y2="600.88" stroke="#707070" stroke-width="0.75" />
<text x="172.4" y="603.18" font-size="6.5" fill="#111" stroke="#111" stroke-width="0.15" text-anchor="end" >60</text>
<line x1="175.4" y1="585.42" x2="178" y2="585.42" stroke="#707070" stroke-width="0.75" />
<text x="172.4" y="587.72" font-size="6.5" fill="#111" stroke="#111" stroke-width="0.15" text-anchor="end" >80</text>
<line x1="175.4" y1="569.96" x2="178" y2="569.96" stroke="#707070" stroke-width="0.75" />
<text x="172.4" y="572.26" font-size="6.5" fill="#111" stroke="#111" stroke-width="0.15" text-anchor="end" >100</text>
<line x1="175.4" y1="554.5" x2="178" y2="554.5" stroke="#707070" stroke-width="0.75" />
<text x="172.4" y="556.8" font-size="6.5" fill="#111" stroke="#111" stroke-width="0.15" text-anchor="end" >120</text>
<line x1="178" y1="654.25" x2="278" y2="654.25" stroke="#111" stroke-width="0.75" />
<line x1="178.37" y1="654.25" x2="178.37" y2="656.15" stroke="#222" stroke-width="0.5" />
<line x1="180.43" y1="654.25" x2="180.43" y2="656.15" stroke="#222" stroke-width="0.5" />
<line x1="182.03" y1="654.25" x2="182.03" y2="656.15" stroke="#222" stroke-width="0.5" />
<line x1="183.34" y1="654.25" x2="183.34" y2="656.15" stroke="#222" stroke-width="0.5" />
<line x1="184.44" y1="654.25" x2="184.44" y2="656.15" stroke="#222" stroke-width="0.5" />
<line x1="185.4" y1="654.25" x2="185.4" y2="656.15" stroke="#222" stroke-width="0.5" />
<line x1="186.25" y1="654.25" x2="186.25" y2="656.15" stroke="#222" stroke-width="0.5" />
<line x1="187" y1="654.25" x2="187" y2="656.85" stroke="#111" stroke-width="0.7" />
<line x1="191.97" y1="654.25" x2="191.97" y2="656.15" stroke="#222" stroke-width="0.5" />
<line x1="194.87" y1="654.25" x2="194.87" y2="656.15" stroke="#222" stroke-width="0.5" />
<line x1="196.93" y1="654.25" x2="196.93" y2="656.15" stroke="#222" stroke-width="0.5" />
<line x1="198.53" y1="654.25" x2="198.53" y2="656.15" stroke="#222" stroke-width="0.5" />
<line x1="199.84" y1="654.25" x2="199.84" y2="656.15" stroke="#222" stroke-width="0.5" />
<line x1="200.94" y1="654.25" x2="200.94" y2="656.15" stroke="#222" stroke-width="0.5" />
<line x1="201.9" y1="654.25" x2="201.9" y2="656.15" stroke="#222" stroke-width="0.5" />
<line x1="202.75" y1="654.25" x2="202.75" y2="656.15" stroke="#222" stroke-width="0.5" />
<line x1="203.5" y1="654.25" x2="203.5" y2="656.85" stroke="#111" stroke-width="0.7" />
<line x1="208.47" y1="654.25" x2="208.47" y2="656.15" stroke="#222" stroke-width="0.5" />
<line x1="211.37" y1="654.25" x2="211.37" y2="656.15" stroke="#222" stroke-width="0.5" />
<line x1="213.43" y1="654.25" x2="213.43" y2="656.15" stroke="#222" stroke-width="0.5" />
<line x1="215.03" y1="654.25" x2="215.03" y2="656.15" stroke="#222" stroke-width="0.5" />
<line x1="216.34" y1="654.25" x2="216.34" y2="656.15" stroke="#222" stroke-width="0.5" />
<line x1="217.44" y1="654.25" x2="217.44" y2="656.15" stroke="#222" stroke-width="0.5" />
<line x1="218.4" y1="654.25" x2="218.4" y2="656.15" stroke="#222" stroke-width="0.5" />
<line x1="219.25" y1="654.25" x2="219.25" y2="656.15" stroke="#222" stroke-width="0.5" />
<line x1="220" y1="654.25" x2="220" y2="656.85" stroke="#111" stroke-width="0.7" />
<line x1="224.97" y1="654.25" x2="224.97" y2="656.15" stroke="#222" stroke-width="0.5" />
<line x1="227.87" y1="654.25" x2="227.87" y2="656.15" stroke="#222" stroke-width="0.5" />
<line x1="229.93" y1="654.25" x2="229.93" y2="656.15" stroke="#222" stroke-width="0.5" />
<line x1="231.53" y1="654.25" x2="231.53" y2="656.15" stroke="#222" stroke-width="0.5" />
<line x1="232.84" y1="654.25" x2="232.84" y2="656.15" stroke="#222" stroke-width="0.5" />
<line x1="233.94" y1="654.25" x2="233.94" y2="656.15" stroke="#222" stroke-width="0.5" />
<line x1="234.9" y1="654.25" x2="234.9" y2="656.15" stroke="#222" stroke-width="0.5" />
<line x1="235.75" y1="654.25" x2="235.75" y2="656.15" stroke="#222" stroke-width="0.5" />
<line x1="236.5" y1="654.25" x2="236.5" y2="656.85" stroke="#111" stroke-width="0.7" />
<line x1="241.47" y1="654.25" x2="241.47" y2="656.15" stroke="#222" stroke-width="0.5" />
<line x1="244.37" y1="654.25" x2="244.37" y2="656.15" stroke="#222" stroke-width="0.5" />
<line x1="246.43" y1="654.25" x2="246.43" y2="656.15" stroke="#222" stroke-width="0.5" />
<line x1="248.03" y1="654.25" x2="248.03" y2="656.15" stroke="#222" stroke-width="0.5" />
<line x1="249.34" y1="654.25" x2="249.34" y2="656.15" stroke="#222" stroke-width="0.5" />
<line x1="250.44" y1="654.25" x2="250.44" y2="656.15" stroke="#222" stroke-width="0.5" />
<line x1="251.4" y1="654.25" x2="251.4" y2="656.15" stroke="#222" stroke-width="0.5" />
<line x1="252.25" y1="654.25" x2="252.25" y2="656.15" stroke="#222" stroke-width="0.5" />
<line x1="253" y1="654.25" x2="253" y2="656.85" stroke="#111" stroke-width="0.7" />
<line x1="257.97" y1="654.25" x2="257.97" y2="656.15" stroke="#222" stroke-width="0.5" />
<line x1="260.87" y1="654.25" x2="260.87" y2="656.15" stroke="#222" stroke-width="0.5" />
<line x1="262.93" y1="654.25" x2="262.93" y2="656.15" stroke="#222" stroke-width="0.5" />
<line x1="264.53" y1="654.25" x2="264.53" y2="656.15" stroke="#222" stroke-width="0.5" />
<line x1="265.84" y1="654.25" x2="265.84" y2="656.15" stroke="#222" stroke-width="0.5" />
<line x1="266.94" y1="654.25" x2="266.94" y2="656.15" stroke="#222" stroke-width="0.5" />
<line x1="267.9" y1="654.25" x2="267.9" y2="656.15" stroke="#222" stroke-width="0.5" />
<line x1="268.75" y1="654.25" x2="268.75" y2="656.15" stroke="#222" stroke-width="0.5" />
<line x1="269.5" y1="654.25" x2="269.5" y2="656.85" stroke="#111" stroke-width="0.7" />
<line x1="274.47" y1="654.25" x2="274.47" y2="656.15" stroke="#222" stroke-width="0.5" />
<line x1="277.37" y1="654.25" x2="277.37" y2="656.15" stroke="#222" stroke-width="0.5" />
<text x="187.1" y="666.45" font-size="6.5" fill="#111" stroke="#111" stroke-width="0.15" text-anchor="middle" >&#8211;10</text>
<text x="203.6" y="666.45" font-size="6.5" fill="#111" stroke="#111" stroke-width="0.15" text-anchor="middle" >&#8211;9</text>
<text x="220.1" y="666.45" font-size="6.5" fill="#111" stroke="#111" stroke-width="0.15" text-anchor="middle" >&#8211;8</text>
<text x="236.6" y="666.45" font-size="6.5" fill="#111" stroke="#111" stroke-width="0.15" text-anchor="middle" >&#8211;7</text>
<text x="253.1" y="666.45" font-size="6.5" fill="#111" stroke="#111" stroke-width="0.15" text-anchor="middle" >&#8211;6</text>
<text x="269.6" y="666.45" font-size="6.5" fill="#111" stroke="#111" stroke-width="0.15" text-anchor="middle" >&#8211;5</text>
<line x1="178.8" y1="647.25" x2="278" y2="647.25" stroke="#000" stroke-width="0.95" stroke-dasharray="0.95,0.95"/>
<text x="228.1" y="676.85" font-size="6.6" fill="#111" stroke="#111" stroke-width="0.15" text-anchor="middle" >log[SST-14 (M)]</text>
<text transform="translate(157.4,604) rotate(-90)" font-size="6.5" fill="#111" stroke="#111" stroke-width="0.15" text-anchor="middle"><tspan font-size="4.5" dy="-2.2">35</tspan><tspan dy="2.2">S-GTP&#947;S (% MPE)</tspan></text>
<rect x="246.3" y="630" width="28.7" height="13.5" rx="0" stroke="#222" stroke-width="0.7" fill="#fff" />
<text x="260.65" y="639.15" font-size="6.7" fill="#111" stroke="#111" stroke-width="0.15" text-anchor="middle" >SST<tspan font-size="4.3" dy="1.4">2</tspan><tspan dy="-1.4">R</tspan></text>
<path d="M193.6,646.45 L194.57,646.42 L195.54,646.38 L196.51,646.33 L197.48,646.28 L198.46,646.21 L199.43,646.13 L200.4,646.03 L201.37,645.91 L202.34,645.77 L203.31,645.6 L204.28,645.4 L205.25,645.15 L206.23,644.86 L207.2,644.5 L208.17,644.08 L209.14,643.57 L210.11,642.97 L211.08,642.26 L212.05,641.41 L213.02,640.42 L214,639.25 L214.97,637.89 L215.94,636.32 L216.91,634.51 L217.88,632.44 L218.85,630.11 L219.82,627.51 L220.79,624.65 L221.76,621.54 L222.74,618.2 L223.71,614.69 L224.68,611.05 L225.65,607.35 L226.62,603.65 L227.59,600.01 L228.56,596.49 L229.53,593.16 L230.51,590.04 L231.48,587.17 L232.45,584.57 L233.42,582.23 L234.39,580.17 L235.36,578.35 L236.33,576.77 L237.3,575.41 L238.28,574.24 L239.25,573.24 L240.22,572.39 L241.19,571.68 L242.16,571.08 L243.13,570.57 L244.1,570.15 L245.07,569.79 L246.04,569.5 L247.02,569.25 L247.99,569.04 L248.96,568.87 L249.93,568.73 L250.9,568.61 L251.87,568.52 L252.84,568.43 L253.81,568.37 L254.79,568.31 L255.76,568.26 L256.73,568.23 L257.7,568.19 L258.67,568.17 L259.64,568.15 L260.61,568.13 L261.58,568.11 L262.56,568.1 L263.53,568.09 L264.5,568.08 L265.47,568.08 L266.44,568.07 L267.41,568.07 L268.38,568.06 L269.35,568.06 L270.32,568.06" stroke="#111" stroke-width="0.75" fill="none" />
<path d="M193.6,645.26 L194.57,645.02 L195.54,644.73 L196.51,644.39 L197.48,644 L198.46,643.54 L199.43,643 L200.4,642.37 L201.37,641.64 L202.34,640.79 L203.31,639.8 L204.28,638.67 L205.25,637.38 L206.23,635.9 L207.2,634.23 L208.17,632.36 L209.14,630.27 L210.11,627.96 L211.08,625.43 L212.05,622.7 L213.02,619.77 L214,616.68 L214.97,613.46 L215.94,610.15 L216.91,606.79 L217.88,603.43 L218.85,600.12 L219.82,596.91 L220.79,593.83 L221.76,590.91 L222.74,588.19 L223.71,585.68 L224.68,583.38 L225.65,581.31 L226.62,579.44 L227.59,577.79 L228.56,576.32 L229.53,575.04 L230.51,573.92 L231.48,572.95 L232.45,572.1 L233.42,571.38 L234.39,570.75 L235.36,570.22 L236.33,569.76 L237.3,569.37 L238.28,569.04 L239.25,568.76 L240.22,568.52 L241.19,568.31 L242.16,568.14 L243.13,567.99 L244.1,567.87 L245.07,567.76 L246.04,567.67 L247.02,567.6 L247.99,567.54 L248.96,567.48 L249.93,567.44 L250.9,567.4 L251.87,567.37 L252.84,567.34 L253.81,567.32 L254.79,567.3 L255.76,567.28 L256.73,567.27 L257.7,567.25 L258.67,567.24 L259.64,567.24 L260.61,567.23 L261.58,567.22 L262.56,567.22 L263.53,567.21 L264.5,567.21 L265.47,567.21 L266.44,567.2 L267.41,567.2 L268.38,567.2 L269.35,567.2 L270.32,567.2" stroke="#222" stroke-width="0.55" fill="none" stroke-dasharray="1.6,0.7"/>
<line x1="195.25" y1="645.7" x2="195.25" y2="647.3" stroke="#111" stroke-width="0.6" />
<line x1="193.55" y1="645.7" x2="196.95" y2="645.7" stroke="#111" stroke-width="0.6" />
<line x1="193.55" y1="647.3" x2="196.95" y2="647.3" stroke="#111" stroke-width="0.6" />
<line x1="203.5" y1="646" x2="203.5" y2="647.6" stroke="#111" stroke-width="0.6" />
<line x1="201.8" y1="646" x2="205.2" y2="646" stroke="#111" stroke-width="0.6" />
<line x1="201.8" y1="647.6" x2="205.2" y2="647.6" stroke="#111" stroke-width="0.6" />
<line x1="211.75" y1="612.3" x2="211.75" y2="625.3" stroke="#111" stroke-width="0.6" />
<line x1="210.05" y1="612.3" x2="213.45" y2="612.3" stroke="#111" stroke-width="0.6" />
<line x1="210.05" y1="625.3" x2="213.45" y2="625.3" stroke="#111" stroke-width="0.6" />
<line x1="220" y1="592" x2="220" y2="601" stroke="#111" stroke-width="0.6" />
<line x1="218.3" y1="592" x2="221.7" y2="592" stroke="#111" stroke-width="0.6" />
<line x1="218.3" y1="601" x2="221.7" y2="601" stroke="#111" stroke-width="0.6" />
<line x1="228.25" y1="576.5" x2="228.25" y2="583.5" stroke="#111" stroke-width="0.6" />
<line x1="226.55" y1="576.5" x2="229.95" y2="576.5" stroke="#111" stroke-width="0.6" />
<line x1="226.55" y1="583.5" x2="229.95" y2="583.5" stroke="#111" stroke-width="0.6" />
<line x1="236.5" y1="567.5" x2="236.5" y2="572.5" stroke="#111" stroke-width="0.6" />
<line x1="234.8" y1="567.5" x2="238.2" y2="567.5" stroke="#111" stroke-width="0.6" />
<line x1="234.8" y1="572.5" x2="238.2" y2="572.5" stroke="#111" stroke-width="0.6" />
<line x1="244.75" y1="563" x2="244.75" y2="567" stroke="#111" stroke-width="0.6" />
<line x1="243.05" y1="563" x2="246.45" y2="563" stroke="#111" stroke-width="0.6" />
<line x1="243.05" y1="567" x2="246.45" y2="567" stroke="#111" stroke-width="0.6" />
<line x1="253" y1="563.5" x2="253" y2="567.5" stroke="#111" stroke-width="0.6" />
<line x1="251.3" y1="563.5" x2="254.7" y2="563.5" stroke="#111" stroke-width="0.6" />
<line x1="251.3" y1="567.5" x2="254.7" y2="567.5" stroke="#111" stroke-width="0.6" />
<line x1="261.25" y1="566.5" x2="261.25" y2="569.5" stroke="#111" stroke-width="0.6" />
<line x1="259.55" y1="566.5" x2="262.95" y2="566.5" stroke="#111" stroke-width="0.6" />
<line x1="259.55" y1="569.5" x2="262.95" y2="569.5" stroke="#111" stroke-width="0.6" />
<line x1="269.5" y1="567.5" x2="269.5" y2="569.5" stroke="#111" stroke-width="0.6" />
<line x1="267.8" y1="567.5" x2="271.2" y2="567.5" stroke="#111" stroke-width="0.6" />
<line x1="267.8" y1="569.5" x2="271.2" y2="569.5" stroke="#111" stroke-width="0.6" />
<circle cx="195.25" cy="646.5" r="1.85" stroke="#111" stroke-width="0.75" fill="#fff" />
<line x1="193.4" y1="646.5" x2="197.1" y2="646.5" stroke="#111" stroke-width="0.5" />
<circle cx="203.5" cy="646.8" r="1.85" stroke="#111" stroke-width="0.75" fill="#fff" />
<line x1="201.65" y1="646.8" x2="205.35" y2="646.8" stroke="#111" stroke-width="0.5" />
<circle cx="211.75" cy="618.8" r="1.85" stroke="#111" stroke-width="0.75" fill="#fff" />
<line x1="209.9" y1="618.8" x2="213.6" y2="618.8" stroke="#111" stroke-width="0.5" />
<circle cx="220" cy="596.5" r="1.85" stroke="#111" stroke-width="0.75" fill="#fff" />
<line x1="218.15" y1="596.5" x2="221.85" y2="596.5" stroke="#111" stroke-width="0.5" />
<circle cx="228.25" cy="580" r="1.85" stroke="#111" stroke-width="0.75" fill="#fff" />
<line x1="226.4" y1="580" x2="230.1" y2="580" stroke="#111" stroke-width="0.5" />
<circle cx="236.5" cy="570" r="1.85" stroke="#111" stroke-width="0.75" fill="#fff" />
<line x1="234.65" y1="570" x2="238.35" y2="570" stroke="#111" stroke-width="0.5" />
<circle cx="244.75" cy="565" r="1.85" stroke="#111" stroke-width="0.75" fill="#fff" />
<line x1="242.9" y1="565" x2="246.6" y2="565" stroke="#111" stroke-width="0.5" />
<circle cx="253" cy="565.5" r="1.85" stroke="#111" stroke-width="0.75" fill="#fff" />
<line x1="251.15" y1="565.5" x2="254.85" y2="565.5" stroke="#111" stroke-width="0.5" />
<circle cx="261.25" cy="568" r="1.85" stroke="#111" stroke-width="0.75" fill="#fff" />
<line x1="259.4" y1="568" x2="263.1" y2="568" stroke="#111" stroke-width="0.5" />
<circle cx="269.5" cy="568.5" r="1.85" stroke="#111" stroke-width="0.75" fill="#fff" />
<line x1="267.65" y1="568.5" x2="271.35" y2="568.5" stroke="#111" stroke-width="0.5" />
<line x1="195.25" y1="644.7" x2="195.25" y2="646.3" stroke="#111" stroke-width="0.6" />
<line x1="193.55" y1="644.7" x2="196.95" y2="644.7" stroke="#111" stroke-width="0.6" />
<line x1="193.55" y1="646.3" x2="196.95" y2="646.3" stroke="#111" stroke-width="0.6" />
<line x1="203.5" y1="646" x2="203.5" y2="647.6" stroke="#111" stroke-width="0.6" />
<line x1="201.8" y1="646" x2="205.2" y2="646" stroke="#111" stroke-width="0.6" />
<line x1="201.8" y1="647.6" x2="205.2" y2="647.6" stroke="#111" stroke-width="0.6" />
<line x1="211.75" y1="636.8" x2="211.75" y2="640.8" stroke="#111" stroke-width="0.6" />
<line x1="210.05" y1="636.8" x2="213.45" y2="636.8" stroke="#111" stroke-width="0.6" />
<line x1="210.05" y1="640.8" x2="213.45" y2="640.8" stroke="#111" stroke-width="0.6" />
<line x1="220" y1="620.5" x2="220" y2="630.5" stroke="#111" stroke-width="0.6" />
<line x1="218.3" y1="620.5" x2="221.7" y2="620.5" stroke="#111" stroke-width="0.6" />
<line x1="218.3" y1="630.5" x2="221.7" y2="630.5" stroke="#111" stroke-width="0.6" />
<line x1="228.25" y1="596.8" x2="228.25" y2="605.8" stroke="#111" stroke-width="0.6" />
<line x1="226.55" y1="596.8" x2="229.95" y2="596.8" stroke="#111" stroke-width="0.6" />
<line x1="226.55" y1="605.8" x2="229.95" y2="605.8" stroke="#111" stroke-width="0.6" />
<line x1="236.5" y1="569.8" x2="236.5" y2="577.8" stroke="#111" stroke-width="0.6" />
<line x1="234.8" y1="569.8" x2="238.2" y2="569.8" stroke="#111" stroke-width="0.6" />
<line x1="234.8" y1="577.8" x2="238.2" y2="577.8" stroke="#111" stroke-width="0.6" />
<line x1="244.75" y1="559.5" x2="244.75" y2="565.5" stroke="#111" stroke-width="0.6" />
<line x1="243.05" y1="559.5" x2="246.45" y2="559.5" stroke="#111" stroke-width="0.6" />
<line x1="243.05" y1="565.5" x2="246.45" y2="565.5" stroke="#111" stroke-width="0.6" />
<line x1="253" y1="565.5" x2="253" y2="570.5" stroke="#111" stroke-width="0.6" />
<line x1="251.3" y1="565.5" x2="254.7" y2="565.5" stroke="#111" stroke-width="0.6" />
<line x1="251.3" y1="570.5" x2="254.7" y2="570.5" stroke="#111" stroke-width="0.6" />
<line x1="261.25" y1="574" x2="261.25" y2="576" stroke="#111" stroke-width="0.6" />
<line x1="259.55" y1="574" x2="262.95" y2="574" stroke="#111" stroke-width="0.6" />
<line x1="259.55" y1="576" x2="262.95" y2="576" stroke="#111" stroke-width="0.6" />
<line x1="269.5" y1="568.5" x2="269.5" y2="570.5" stroke="#111" stroke-width="0.6" />
<line x1="267.8" y1="568.5" x2="271.2" y2="568.5" stroke="#111" stroke-width="0.6" />
<line x1="267.8" y1="570.5" x2="271.2" y2="570.5" stroke="#111" stroke-width="0.6" />
<circle cx="195.25" cy="645.5" r="1.85" stroke="#000" stroke-width="0.4" fill="#000" />
<circle cx="203.5" cy="646.8" r="1.85" stroke="#000" stroke-width="0.4" fill="#000" />
<circle cx="211.75" cy="638.8" r="1.85" stroke="#000" stroke-width="0.4" fill="#000" />
<circle cx="220" cy="625.5" r="1.85" stroke="#000" stroke-width="0.4" fill="#000" />
<circle cx="228.25" cy="601.3" r="1.85" stroke="#000" stroke-width="0.4" fill="#000" />
<circle cx="236.5" cy="573.8" r="1.85" stroke="#000" stroke-width="0.4" fill="#000" />
<circle cx="244.75" cy="562.5" r="1.85" stroke="#000" stroke-width="0.4" fill="#000" />
<circle cx="253" cy="568" r="1.85" stroke="#000" stroke-width="0.4" fill="#000" />
<circle cx="261.25" cy="575" r="1.85" stroke="#000" stroke-width="0.4" fill="#000" />
<circle cx="269.5" cy="569.5" r="1.85" stroke="#000" stroke-width="0.4" fill="#000" />
<line x1="180" y1="536.3" x2="190.8" y2="536.3" stroke="#111" stroke-width="0.75" />
<circle cx="185.5" cy="536.3" r="1.6" stroke="#000" stroke-width="0.4" fill="#000" />
<text x="193.6" y="538.6" font-size="6.6" fill="#111" stroke="#111" stroke-width="0.15" >Binding: 7.70 (7.55&#8211;7.85) M</text>
<line x1="180" y1="545.8" x2="190.8" y2="545.8" stroke="#111" stroke-width="0.75" />
<circle cx="185.5" cy="545.8" r="1.6" stroke="#111" stroke-width="0.75" fill="#fff" />
<line x1="183.9" y1="545.8" x2="187.1" y2="545.8" stroke="#111" stroke-width="0.5" />
<text x="193.6" y="548.1" font-size="6.6" fill="#111" stroke="#111" stroke-width="0.15" >Release: 8.27 (8.13&#8211;8.41) M</text>
<line x1="315.2" y1="531.7" x2="315.2" y2="643.5" stroke="#888" stroke-width="0.75" />
<line x1="312.4" y1="643.5" x2="315.2" y2="643.5" stroke="#111" stroke-width="0.7" />
<text x="309.8" y="645.8" font-size="6.6" fill="#111" stroke="#111" stroke-width="0.15" text-anchor="end" >5</text>
<line x1="313.6" y1="641.27" x2="315.2" y2="641.27" stroke="#666" stroke-width="0.4" />
<line x1="313.6" y1="639.04" x2="315.2" y2="639.04" stroke="#666" stroke-width="0.4" />
<line x1="313.6" y1="636.81" x2="315.2" y2="636.81" stroke="#666" stroke-width="0.4" />
<line x1="313.6" y1="634.58" x2="315.2" y2="634.58" stroke="#666" stroke-width="0.4" />
<line x1="313.6" y1="632.35" x2="315.2" y2="632.35" stroke="#666" stroke-width="0.4" />
<line x1="313.6" y1="630.12" x2="315.2" y2="630.12" stroke="#666" stroke-width="0.4" />
<line x1="313.6" y1="627.89" x2="315.2" y2="627.89" stroke="#666" stroke-width="0.4" />
<line x1="313.6" y1="625.66" x2="315.2" y2="625.66" stroke="#666" stroke-width="0.4" />
<line x1="313.6" y1="623.43" x2="315.2" y2="623.43" stroke="#666" stroke-width="0.4" />
<line x1="312.4" y1="621.2" x2="315.2" y2="621.2" stroke="#111" stroke-width="0.7" />
<text x="309.8" y="623.5" font-size="6.6" fill="#111" stroke="#111" stroke-width="0.15" text-anchor="end" >6</text>
<line x1="313.6" y1="618.97" x2="315.2" y2="618.97" stroke="#666" stroke-width="0.4" />
<line x1="313.6" y1="616.74" x2="315.2" y2="616.74" stroke="#666" stroke-width="0.4" />
<line x1="313.6" y1="614.51" x2="315.2" y2="614.51" stroke="#666" stroke-width="0.4" />
<line x1="313.6" y1="612.28" x2="315.2" y2="612.28" stroke="#666" stroke-width="0.4" />
<line x1="313.6" y1="610.05" x2="315.2" y2="610.05" stroke="#666" stroke-width="0.4" />
<line x1="313.6" y1="607.82" x2="315.2" y2="607.82" stroke="#666" stroke-width="0.4" />
<line x1="313.6" y1="605.59" x2="315.2" y2="605.59" stroke="#666" stroke-width="0.4" />
<line x1="313.6" y1="603.36" x2="315.2" y2="603.36" stroke="#666" stroke-width="0.4" />
<line x1="313.6" y1="601.13" x2="315.2" y2="601.13" stroke="#666" stroke-width="0.4" />
<line x1="312.4" y1="598.9" x2="315.2" y2="598.9" stroke="#111" stroke-width="0.7" />
<text x="309.8" y="601.2" font-size="6.6" fill="#111" stroke="#111" stroke-width="0.15" text-anchor="end" >7</text>
<line x1="313.6" y1="596.67" x2="315.2" y2="596.67" stroke="#666" stroke-width="0.4" />
<line x1="313.6" y1="594.44" x2="315.2" y2="594.44" stroke="#666" stroke-width="0.4" />
<line x1="313.6" y1="592.21" x2="315.2" y2="592.21" stroke="#666" stroke-width="0.4" />
<line x1="313.6" y1="589.98" x2="315.2" y2="589.98" stroke="#666" stroke-width="0.4" />
<line x1="313.6" y1="587.75" x2="315.2" y2="587.75" stroke="#666" stroke-width="0.4" />
<line x1="313.6" y1="585.52" x2="315.2" y2="585.52" stroke="#666" stroke-width="0.4" />
<line x1="313.6" y1="583.29" x2="315.2" y2="583.29" stroke="#666" stroke-width="0.4" />
<line x1="313.6" y1="581.06" x2="315.2" y2="581.06" stroke="#666" stroke-width="0.4" />
<line x1="313.6" y1="578.83" x2="315.2" y2="578.83" stroke="#666" stroke-width="0.4" />
<line x1="312.4" y1="576.6" x2="315.2" y2="576.6" stroke="#111" stroke-width="0.7" />
<text x="309.8" y="578.9" font-size="6.6" fill="#111" stroke="#111" stroke-width="0.15" text-anchor="end" >8</text>
<line x1="313.6" y1="574.37" x2="315.2" y2="574.37" stroke="#666" stroke-width="0.4" />
<line x1="313.6" y1="572.14" x2="315.2" y2="572.14" stroke="#666" stroke-width="0.4" />
<line x1="313.6" y1="569.91" x2="315.2" y2="569.91" stroke="#666" stroke-width="0.4" />
<line x1="313.6" y1="567.68" x2="315.2" y2="567.68" stroke="#666" stroke-width="0.4" />
<line x1="313.6" y1="565.45" x2="315.2" y2="565.45" stroke="#666" stroke-width="0.4" />
<line x1="313.6" y1="563.22" x2="315.2" y2="563.22" stroke="#666" stroke-width="0.4" />
<line x1="313.6" y1="560.99" x2="315.2" y2="560.99" stroke="#666" stroke-width="0.4" />
<line x1="313.6" y1="558.76" x2="315.2" y2="558.76" stroke="#666" stroke-width="0.4" />
<line x1="313.6" y1="556.53" x2="315.2" y2="556.53" stroke="#666" stroke-width="0.4" />
<line x1="312.4" y1="554.3" x2="315.2" y2="554.3" stroke="#111" stroke-width="0.7" />
<text x="309.8" y="556.6" font-size="6.6" fill="#111" stroke="#111" stroke-width="0.15" text-anchor="end" >9</text>
<line x1="313.6" y1="552.07" x2="315.2" y2="552.07" stroke="#666" stroke-width="0.4" />
<line x1="313.6" y1="549.84" x2="315.2" y2="549.84" stroke="#666" stroke-width="0.4" />
<line x1="313.6" y1="547.61" x2="315.2" y2="547.61" stroke="#666" stroke-width="0.4" />
<line x1="313.6" y1="545.38" x2="315.2" y2="545.38" stroke="#666" stroke-width="0.4" />
<line x1="313.6" y1="543.15" x2="315.2" y2="543.15" stroke="#666" stroke-width="0.4" />
<line x1="313.6" y1="540.92" x2="315.2" y2="540.92" stroke="#666" stroke-width="0.4" />
<line x1="313.6" y1="538.69" x2="315.2" y2="538.69" stroke="#666" stroke-width="0.4" />
<line x1="313.6" y1="536.46" x2="315.2" y2="536.46" stroke="#666" stroke-width="0.4" />
<line x1="313.6" y1="534.23" x2="315.2" y2="534.23" stroke="#666" stroke-width="0.4" />
<line x1="312.4" y1="532" x2="315.2" y2="532" stroke="#111" stroke-width="0.7" />
<text x="309.8" y="534.3" font-size="6.6" fill="#111" stroke="#111" stroke-width="0.15" text-anchor="end" >10</text>
<line x1="315.2" y1="643.5" x2="421.5" y2="643.5" stroke="#111" stroke-width="0.75" />
<text transform="translate(299.6,587.4) rotate(-90)" font-size="6.5" fill="#111" stroke="#111" stroke-width="0.15" text-anchor="middle">pEC<tspan font-size="4.5" dy="1.4">50</tspan><tspan dy="-1.4"> (M)</tspan></text>
<rect x="321" y="583.51" width="11.2" height="59.99" rx="0" stroke="#222" stroke-width="0.7" fill="#ececec" />
<line x1="326.6" y1="581.73" x2="326.6" y2="585.3" stroke="#111" stroke-width="0.7" />
<line x1="324.35" y1="581.73" x2="328.85" y2="581.73" stroke="#111" stroke-width="0.7" />
<line x1="324.35" y1="585.3" x2="328.85" y2="585.3" stroke="#111" stroke-width="0.7" />
<line x1="326.6" y1="643.5" x2="326.6" y2="645.5" stroke="#111" stroke-width="0.7" />
<rect x="337.4" y="577.72" width="11.2" height="65.78" rx="0" stroke="#222" stroke-width="0.7" fill="#8c8c8c" />
<line x1="343" y1="573.7" x2="343" y2="581.73" stroke="#111" stroke-width="0.7" />
<line x1="340.75" y1="573.7" x2="345.25" y2="573.7" stroke="#111" stroke-width="0.7" />
<line x1="340.75" y1="581.73" x2="345.25" y2="581.73" stroke="#111" stroke-width="0.7" />
<line x1="343" y1="643.5" x2="343" y2="645.5" stroke="#111" stroke-width="0.7" />
<rect x="354.4" y="624.32" width="11.2" height="19.18" rx="0" stroke="#222" stroke-width="0.7" fill="#ececec" />
<line x1="360" y1="617.63" x2="360" y2="631.01" stroke="#111" stroke-width="0.7" />
<line x1="357.75" y1="617.63" x2="362.25" y2="617.63" stroke="#111" stroke-width="0.7" />
<line x1="357.75" y1="631.01" x2="362.25" y2="631.01" stroke="#111" stroke-width="0.7" />
<rect x="354.4" y="626.11" width="11.2" height="17.39" rx="0" stroke="#222" stroke-width="0.7" fill="#8c8c8c" />
<line x1="360" y1="623.43" x2="360" y2="628.78" stroke="#111" stroke-width="0.7" />
<line x1="357.75" y1="623.43" x2="362.25" y2="623.43" stroke="#111" stroke-width="0.7" />
<line x1="357.75" y1="628.78" x2="362.25" y2="628.78" stroke="#111" stroke-width="0.7" />
<line x1="360" y1="643.5" x2="360" y2="645.5" stroke="#111" stroke-width="0.7" />
<rect x="371.1" y="554.97" width="11.2" height="88.53" rx="0" stroke="#222" stroke-width="0.7" fill="#ececec" />
<line x1="376.7" y1="552.52" x2="376.7" y2="557.42" stroke="#111" stroke-width="0.7" />
<line x1="374.45" y1="552.52" x2="378.95" y2="552.52" stroke="#111" stroke-width="0.7" />
<line x1="374.45" y1="557.42" x2="378.95" y2="557.42" stroke="#111" stroke-width="0.7" />
<rect x="371.1" y="563" width="11.2" height="80.5" rx="0" stroke="#222" stroke-width="0.7" fill="#8c8c8c" />
<line x1="376.7" y1="561.66" x2="376.7" y2="564.34" stroke="#111" stroke-width="0.7" />
<line x1="374.45" y1="561.66" x2="378.95" y2="561.66" stroke="#111" stroke-width="0.7" />
<line x1="374.45" y1="564.34" x2="378.95" y2="564.34" stroke="#111" stroke-width="0.7" />
<line x1="376.7" y1="547.57" x2="376.7" y2="550.27" stroke="#111" stroke-width="0.75" />
<line x1="375.53" y1="548.24" x2="377.87" y2="549.59" stroke="#111" stroke-width="0.75" />
<line x1="377.87" y1="548.24" x2="375.53" y2="549.59" stroke="#111" stroke-width="0.75" />
<line x1="376.7" y1="544.47" x2="376.7" y2="547.17" stroke="#111" stroke-width="0.75" />
<line x1="375.53" y1="545.14" x2="377.87" y2="546.49" stroke="#111" stroke-width="0.75" />
<line x1="377.87" y1="545.14" x2="375.53" y2="546.49" stroke="#111" stroke-width="0.75" />
<line x1="376.7" y1="541.37" x2="376.7" y2="544.07" stroke="#111" stroke-width="0.75" />
<line x1="375.53" y1="542.04" x2="377.87" y2="543.39" stroke="#111" stroke-width="0.75" />
<line x1="377.87" y1="542.04" x2="375.53" y2="543.39" stroke="#111" stroke-width="0.75" />
<line x1="376.7" y1="643.5" x2="376.7" y2="645.5" stroke="#111" stroke-width="0.7" />
<rect x="387.9" y="582.62" width="11.2" height="60.88" rx="0" stroke="#222" stroke-width="0.7" fill="#ececec" />
<line x1="393.5" y1="578.16" x2="393.5" y2="587.08" stroke="#111" stroke-width="0.7" />
<line x1="391.25" y1="578.16" x2="395.75" y2="578.16" stroke="#111" stroke-width="0.7" />
<line x1="391.25" y1="587.08" x2="395.75" y2="587.08" stroke="#111" stroke-width="0.7" />
<rect x="387.9" y="596.45" width="11.2" height="47.05" rx="0" stroke="#222" stroke-width="0.7" fill="#8c8c8c" />
<line x1="393.5" y1="593.99" x2="393.5" y2="598.9" stroke="#111" stroke-width="0.7" />
<line x1="391.25" y1="593.99" x2="395.75" y2="593.99" stroke="#111" stroke-width="0.7" />
<line x1="391.25" y1="598.9" x2="395.75" y2="598.9" stroke="#111" stroke-width="0.7" />
<line x1="393.5" y1="573.21" x2="393.5" y2="575.91" stroke="#111" stroke-width="0.75" />
<line x1="392.33" y1="573.89" x2="394.67" y2="575.24" stroke="#111" stroke-width="0.75" />
<line x1="394.67" y1="573.89" x2="392.33" y2="575.24" stroke="#111" stroke-width="0.75" />
<line x1="393.5" y1="570.11" x2="393.5" y2="572.81" stroke="#111" stroke-width="0.75" />
<line x1="392.33" y1="570.79" x2="394.67" y2="572.14" stroke="#111" stroke-width="0.75" />
<line x1="394.67" y1="570.79" x2="392.33" y2="572.14" stroke="#111" stroke-width="0.75" />
<line x1="393.5" y1="567.01" x2="393.5" y2="569.71" stroke="#111" stroke-width="0.75" />
<line x1="392.33" y1="567.69" x2="394.67" y2="569.04" stroke="#111" stroke-width="0.75" />
<line x1="394.67" y1="567.69" x2="392.33" y2="569.04" stroke="#111" stroke-width="0.75" />
<line x1="393.5" y1="643.5" x2="393.5" y2="645.5" stroke="#111" stroke-width="0.7" />
<rect x="404.8" y="570.58" width="11.2" height="72.92" rx="0" stroke="#222" stroke-width="0.7" fill="#ececec" />
<line x1="410.4" y1="562.77" x2="410.4" y2="578.38" stroke="#111" stroke-width="0.7" />
<line x1="408.15" y1="562.77" x2="412.65" y2="562.77" stroke="#111" stroke-width="0.7" />
<line x1="408.15" y1="578.38" x2="412.65" y2="578.38" stroke="#111" stroke-width="0.7" />
<rect x="404.8" y="583.29" width="11.2" height="60.21" rx="0" stroke="#222" stroke-width="0.7" fill="#8c8c8c" />
<line x1="410.4" y1="579.94" x2="410.4" y2="586.63" stroke="#111" stroke-width="0.7" />
<line x1="408.15" y1="579.94" x2="412.65" y2="579.94" stroke="#111" stroke-width="0.7" />
<line x1="408.15" y1="586.63" x2="412.65" y2="586.63" stroke="#111" stroke-width="0.7" />
<line x1="410.4" y1="557.82" x2="410.4" y2="560.52" stroke="#111" stroke-width="0.75" />
<line x1="409.23" y1="558.5" x2="411.57" y2="559.85" stroke="#111" stroke-width="0.75" />
<line x1="411.57" y1="558.5" x2="409.23" y2="559.85" stroke="#111" stroke-width="0.75" />
<line x1="410.4" y1="643.5" x2="410.4" y2="645.5" stroke="#111" stroke-width="0.7" />
<rect x="318.3" y="521.4" width="10.4" height="6.6" rx="0" stroke="#333" stroke-width="0.6" fill="#8c8c8c" />
<text x="332.4" y="527.2" font-size="6.6" fill="#111" stroke="#111" stroke-width="0.15" >Binding</text>
<rect x="375.6" y="521.4" width="10.4" height="6.6" rx="0" stroke="#333" stroke-width="0.6" fill="#ececec" />
<text x="389" y="527.2" font-size="6.6" fill="#111" stroke="#111" stroke-width="0.15" >Release</text>
<text transform="translate(329.6,648.6) rotate(-45)" font-size="6.5" fill="#111" stroke="#111" stroke-width="0.15" text-anchor="end">DAMGO (MOR)</text>
<text transform="translate(346,648.6) rotate(-45)" font-size="6.5" fill="#111" stroke="#111" stroke-width="0.15" text-anchor="end">metENK (MOR)</text>
<text transform="translate(363,648.6) rotate(-45)" font-size="6.5" fill="#111" stroke="#111" stroke-width="0.15" text-anchor="end">Carbachol (M<tspan font-size="4.3" dy="1.2">2</tspan><tspan dy="-1.2">R)</tspan></text>
<text transform="translate(379.7,648.6) rotate(-45)" font-size="6.5" fill="#111" stroke="#111" stroke-width="0.15" text-anchor="end">DynA (KOR)</text>
<text transform="translate(396.5,648.6) rotate(-45)" font-size="6.5" fill="#111" stroke="#111" stroke-width="0.15" text-anchor="end">5-HT (5-HT<tspan font-size="4.3" dy="1.2">1A</tspan><tspan dy="-1.2">R)</tspan></text>
<text transform="translate(413.4,648.6) rotate(-45)" font-size="6.5" fill="#111" stroke="#111" stroke-width="0.15" text-anchor="end">SST-14 (SST<tspan font-size="4.3" dy="1.2">2</tspan><tspan dy="-1.2">R)</tspan></text>
</svg></body></html>
